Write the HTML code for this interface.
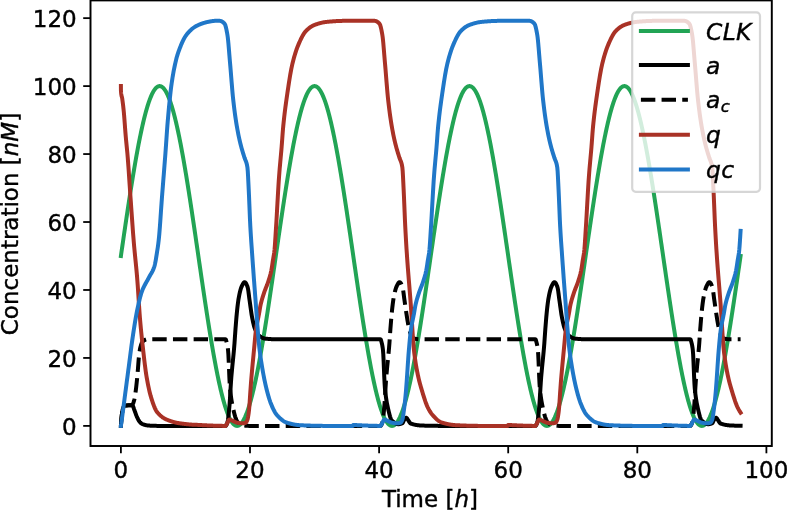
<!DOCTYPE html>
<html><head><meta charset="utf-8"><title>Plot</title>
<style>html,body{margin:0;padding:0;background:#fff}body{width:787px;height:510px;overflow:hidden}svg{display:block}</style>
</head><body>
<svg width="787" height="510" viewBox="0 0 787 510">
<rect width="787" height="510" fill="#fff"/>
<clipPath id="c"><rect x="90.5" y="0.4" width="681.3" height="445.6"/></clipPath>
<g clip-path="url(#c)" fill="none" stroke-linejoin="round">
<path d="M120.90,256.00 L120.91,255.91 L120.93,255.78 L120.96,255.56 L121.03,255.11 L121.09,254.67 L121.16,254.22 L121.22,253.78 L121.55,251.55 L121.87,249.33 L122.19,247.11 L122.51,244.89 L122.84,242.67 L123.16,240.45 L123.48,238.24 L123.80,236.03 L124.13,233.82 L124.45,231.62 L124.77,229.42 L125.10,227.23 L125.42,225.04 L125.74,222.85 L126.06,220.68 L126.39,218.50 L126.71,216.34 L127.03,214.18 L127.36,212.03 L127.68,209.88 L128.00,207.75 L128.32,205.62 L128.65,203.50 L128.97,201.39 L129.29,199.29 L129.61,197.19 L129.94,195.11 L130.26,193.04 L130.58,190.98 L130.91,188.93 L131.23,186.90 L131.55,184.87 L131.87,182.86 L132.20,180.86 L132.52,178.87 L132.84,176.89 L133.16,174.93 L133.49,172.98 L133.81,171.05 L134.13,169.13 L134.46,167.23 L134.78,165.34 L135.10,163.47 L135.42,161.61 L135.75,159.77 L136.07,157.94 L136.39,156.14 L136.71,154.34 L137.04,152.57 L137.36,150.82 L137.68,149.08 L138.01,147.36 L138.33,145.66 L138.65,143.98 L138.97,142.31 L139.30,140.67 L139.62,139.05 L139.94,137.45 L140.27,135.86 L140.59,134.30 L140.91,132.76 L141.23,131.24 L141.56,129.74 L141.88,128.26 L142.20,126.81 L142.52,125.37 L142.85,123.96 L143.17,122.57 L143.49,121.21 L143.82,119.87 L144.14,118.55 L144.46,117.25 L144.78,115.98 L145.11,114.73 L145.43,113.51 L145.75,112.31 L146.07,111.14 L146.40,109.99 L146.72,108.86 L147.04,107.76 L147.37,106.69 L147.69,105.64 L148.01,104.62 L148.33,103.62 L148.66,102.65 L148.98,101.71 L149.30,100.79 L149.62,99.90 L149.95,99.03 L150.27,98.20 L150.59,97.38 L150.92,96.60 L151.24,95.85 L151.56,95.12 L151.88,94.42 L152.21,93.74 L152.53,93.10 L152.85,92.48 L153.18,91.89 L153.50,91.33 L153.82,90.79 L154.14,90.29 L154.47,89.81 L154.79,89.36 L155.11,88.94 L155.43,88.55 L155.76,88.19 L156.08,87.86 L156.40,87.55 L156.73,87.28 L157.05,87.03 L157.37,86.81 L157.69,86.62 L158.02,86.46 L158.34,86.33 L158.66,86.23 L158.98,86.16 L159.31,86.11 L159.63,86.10 L159.95,86.11 L160.28,86.16 L160.60,86.23 L160.92,86.33 L161.24,86.46 L161.57,86.62 L161.89,86.81 L162.21,87.03 L162.53,87.28 L162.86,87.55 L163.18,87.86 L163.50,88.19 L163.83,88.55 L164.15,88.94 L164.47,89.36 L164.79,89.81 L165.12,90.29 L165.44,90.79 L165.76,91.33 L166.09,91.89 L166.41,92.48 L166.73,93.10 L167.05,93.74 L167.38,94.42 L167.70,95.12 L168.02,95.85 L168.34,96.60 L168.67,97.38 L168.99,98.20 L169.31,99.03 L169.64,99.90 L169.96,100.79 L170.28,101.71 L170.60,102.65 L170.93,103.62 L171.25,104.62 L171.57,105.64 L171.89,106.69 L172.22,107.76 L172.54,108.86 L172.86,109.99 L173.19,111.14 L173.51,112.31 L173.83,113.51 L174.15,114.73 L174.48,115.98 L174.80,117.25 L175.12,118.55 L175.44,119.87 L175.77,121.21 L176.09,122.57 L176.41,123.96 L176.74,125.37 L177.06,126.81 L177.38,128.26 L177.70,129.74 L178.03,131.24 L178.35,132.76 L178.67,134.30 L179.00,135.86 L179.32,137.45 L179.64,139.05 L179.96,140.67 L180.29,142.31 L180.61,143.98 L180.93,145.66 L181.25,147.36 L181.58,149.08 L181.90,150.82 L182.22,152.57 L182.55,154.34 L182.87,156.14 L183.19,157.94 L183.51,159.77 L183.84,161.61 L184.16,163.47 L184.48,165.34 L184.80,167.23 L185.13,169.13 L185.45,171.05 L185.77,172.98 L186.10,174.93 L186.42,176.89 L186.74,178.87 L187.06,180.86 L187.39,182.86 L187.71,184.87 L188.03,186.90 L188.35,188.93 L188.68,190.98 L189.00,193.04 L189.32,195.11 L189.65,197.19 L189.97,199.29 L190.29,201.39 L190.61,203.50 L190.94,205.62 L191.26,207.75 L191.58,209.88 L191.91,212.03 L192.23,214.18 L192.55,216.34 L192.87,218.50 L193.20,220.68 L193.52,222.85 L193.84,225.04 L194.16,227.23 L194.49,229.42 L194.81,231.62 L195.13,233.82 L195.46,236.03 L195.78,238.24 L196.10,240.45 L196.42,242.67 L196.75,244.89 L197.07,247.11 L197.39,249.33 L197.71,251.55 L198.04,253.78 L198.36,256.00 L198.68,258.22 L199.01,260.45 L199.33,262.67 L199.65,264.89 L199.97,267.11 L200.30,269.33 L200.62,271.55 L200.94,273.76 L201.26,275.97 L201.59,278.18 L201.91,280.38 L202.23,282.58 L202.56,284.77 L202.88,286.96 L203.20,289.15 L203.52,291.32 L203.85,293.50 L204.17,295.66 L204.49,297.82 L204.81,299.97 L205.14,302.12 L205.46,304.25 L205.78,306.38 L206.11,308.50 L206.43,310.61 L206.75,312.71 L207.07,314.81 L207.40,316.89 L207.72,318.96 L208.04,321.02 L208.37,323.07 L208.69,325.10 L209.01,327.13 L209.33,329.14 L209.66,331.14 L209.98,333.13 L210.30,335.11 L210.62,337.07 L210.95,339.02 L211.27,340.95 L211.59,342.87 L211.92,344.77 L212.24,346.66 L212.56,348.53 L212.88,350.39 L213.21,352.23 L213.53,354.06 L213.85,355.86 L214.17,357.66 L214.50,359.43 L214.82,361.18 L215.14,362.92 L215.47,364.64 L215.79,366.34 L216.11,368.02 L216.43,369.69 L216.76,371.33 L217.08,372.95 L217.40,374.55 L217.73,376.14 L218.05,377.70 L218.37,379.24 L218.69,380.76 L219.02,382.26 L219.34,383.74 L219.66,385.19 L219.98,386.63 L220.31,388.04 L220.63,389.43 L220.95,390.79 L221.28,392.13 L221.60,393.45 L221.92,394.75 L222.24,396.02 L222.57,397.27 L222.89,398.49 L223.21,399.69 L223.53,400.86 L223.86,402.01 L224.18,403.14 L224.50,404.24 L224.83,405.31 L225.15,406.36 L225.47,407.38 L225.79,408.38 L226.12,409.35 L226.44,410.29 L226.76,411.21 L227.08,412.10 L227.41,412.97 L227.73,413.80 L228.05,414.62 L228.38,415.40 L228.70,416.15 L229.02,416.88 L229.34,417.58 L229.67,418.26 L229.99,418.90 L230.31,419.52 L230.63,420.11 L230.96,420.67 L231.28,421.21 L231.60,421.71 L231.93,422.19 L232.25,422.64 L232.57,423.06 L232.89,423.45 L233.22,423.81 L233.54,424.14 L233.86,424.45 L234.19,424.72 L234.51,424.97 L234.83,425.19 L235.15,425.38 L235.48,425.54 L235.80,425.67 L236.12,425.77 L236.44,425.84 L236.77,425.89 L237.09,425.90 L237.41,425.89 L237.74,425.84 L238.06,425.77 L238.38,425.67 L238.70,425.54 L239.03,425.38 L239.35,425.19 L239.67,424.97 L239.99,424.72 L240.32,424.45 L240.64,424.14 L240.96,423.81 L241.29,423.45 L241.61,423.06 L241.93,422.64 L242.25,422.19 L242.58,421.71 L242.90,421.21 L243.22,420.67 L243.55,420.11 L243.87,419.52 L244.19,418.90 L244.51,418.26 L244.84,417.58 L245.16,416.88 L245.48,416.15 L245.80,415.40 L246.13,414.62 L246.45,413.80 L246.77,412.97 L247.10,412.10 L247.42,411.21 L247.74,410.29 L248.06,409.35 L248.39,408.38 L248.71,407.38 L249.03,406.36 L249.35,405.31 L249.68,404.24 L250.00,403.14 L250.32,402.01 L250.65,400.86 L250.97,399.69 L251.29,398.49 L251.61,397.27 L251.94,396.02 L252.26,394.75 L252.58,393.45 L252.90,392.13 L253.23,390.79 L253.55,389.43 L253.87,388.04 L254.20,386.63 L254.52,385.19 L254.84,383.74 L255.16,382.26 L255.49,380.76 L255.81,379.24 L256.13,377.70 L256.46,376.14 L256.78,374.55 L257.10,372.95 L257.42,371.33 L257.75,369.69 L258.07,368.02 L258.39,366.34 L258.71,364.64 L259.04,362.92 L259.36,361.18 L259.68,359.43 L260.01,357.66 L260.33,355.86 L260.65,354.06 L260.97,352.23 L261.30,350.39 L261.62,348.53 L261.94,346.66 L262.26,344.77 L262.59,342.87 L262.91,340.95 L263.23,339.02 L263.56,337.07 L263.88,335.11 L264.20,333.13 L264.52,331.14 L264.85,329.14 L265.17,327.13 L265.49,325.10 L265.81,323.07 L266.14,321.02 L266.46,318.96 L266.78,316.89 L267.11,314.81 L267.43,312.71 L267.75,310.61 L268.07,308.50 L268.40,306.38 L268.72,304.25 L269.04,302.12 L269.37,299.97 L269.69,297.82 L270.01,295.66 L270.33,293.50 L270.66,291.32 L270.98,289.15 L271.30,286.96 L271.62,284.77 L271.95,282.58 L272.27,280.38 L272.59,278.18 L272.92,275.97 L273.24,273.76 L273.56,271.55 L273.88,269.33 L274.21,267.11 L274.53,264.89 L274.85,262.67 L275.17,260.45 L275.50,258.22 L275.82,256.00 L276.14,253.78 L276.47,251.55 L276.79,249.33 L277.11,247.11 L277.43,244.89 L277.76,242.67 L278.08,240.45 L278.40,238.24 L278.72,236.03 L279.05,233.82 L279.37,231.62 L279.69,229.42 L280.02,227.23 L280.34,225.04 L280.66,222.85 L280.98,220.68 L281.31,218.50 L281.63,216.34 L281.95,214.18 L282.28,212.03 L282.60,209.88 L282.92,207.75 L283.24,205.62 L283.57,203.50 L283.89,201.39 L284.21,199.29 L284.53,197.19 L284.86,195.11 L285.18,193.04 L285.50,190.98 L285.83,188.93 L286.15,186.90 L286.47,184.87 L286.79,182.86 L287.12,180.86 L287.44,178.87 L287.76,176.89 L288.08,174.93 L288.41,172.98 L288.73,171.05 L289.05,169.13 L289.38,167.23 L289.70,165.34 L290.02,163.47 L290.34,161.61 L290.67,159.77 L290.99,157.94 L291.31,156.14 L291.63,154.34 L291.96,152.57 L292.28,150.82 L292.60,149.08 L292.93,147.36 L293.25,145.66 L293.57,143.98 L293.89,142.31 L294.22,140.67 L294.54,139.05 L294.86,137.45 L295.19,135.86 L295.51,134.30 L295.83,132.76 L296.15,131.24 L296.48,129.74 L296.80,128.26 L297.12,126.81 L297.44,125.37 L297.77,123.96 L298.09,122.57 L298.41,121.21 L298.74,119.87 L299.06,118.55 L299.38,117.25 L299.70,115.98 L300.03,114.73 L300.35,113.51 L300.67,112.31 L300.99,111.14 L301.32,109.99 L301.64,108.86 L301.96,107.76 L302.29,106.69 L302.61,105.64 L302.93,104.62 L303.25,103.62 L303.58,102.65 L303.90,101.71 L304.22,100.79 L304.54,99.90 L304.87,99.03 L305.19,98.20 L305.51,97.38 L305.84,96.60 L306.16,95.85 L306.48,95.12 L306.80,94.42 L307.13,93.74 L307.45,93.10 L307.77,92.48 L308.10,91.89 L308.42,91.33 L308.74,90.79 L309.06,90.29 L309.39,89.81 L309.71,89.36 L310.03,88.94 L310.35,88.55 L310.68,88.19 L311.00,87.86 L311.32,87.55 L311.65,87.28 L311.97,87.03 L312.29,86.81 L312.61,86.62 L312.94,86.46 L313.26,86.33 L313.58,86.23 L313.90,86.16 L314.23,86.11 L314.55,86.10 L314.87,86.11 L315.20,86.16 L315.52,86.23 L315.84,86.33 L316.16,86.46 L316.49,86.62 L316.81,86.81 L317.13,87.03 L317.45,87.28 L317.78,87.55 L318.10,87.86 L318.42,88.19 L318.75,88.55 L319.07,88.94 L319.39,89.36 L319.71,89.81 L320.04,90.29 L320.36,90.79 L320.68,91.33 L321.00,91.89 L321.33,92.48 L321.65,93.10 L321.97,93.74 L322.30,94.42 L322.62,95.12 L322.94,95.85 L323.26,96.60 L323.59,97.38 L323.91,98.20 L324.23,99.03 L324.56,99.90 L324.88,100.79 L325.20,101.71 L325.52,102.65 L325.85,103.62 L326.17,104.62 L326.49,105.64 L326.81,106.69 L327.14,107.76 L327.46,108.86 L327.78,109.99 L328.11,111.14 L328.43,112.31 L328.75,113.51 L329.07,114.73 L329.40,115.98 L329.72,117.25 L330.04,118.55 L330.36,119.87 L330.69,121.21 L331.01,122.57 L331.33,123.96 L331.66,125.37 L331.98,126.81 L332.30,128.26 L332.62,129.74 L332.95,131.24 L333.27,132.76 L333.59,134.30 L333.92,135.86 L334.24,137.45 L334.56,139.05 L334.88,140.67 L335.21,142.31 L335.53,143.98 L335.85,145.66 L336.17,147.36 L336.50,149.08 L336.82,150.82 L337.14,152.57 L337.47,154.34 L337.79,156.14 L338.11,157.94 L338.43,159.77 L338.76,161.61 L339.08,163.47 L339.40,165.34 L339.72,167.23 L340.05,169.13 L340.37,171.05 L340.69,172.98 L341.02,174.93 L341.34,176.89 L341.66,178.87 L341.98,180.86 L342.31,182.86 L342.63,184.87 L342.95,186.90 L343.27,188.93 L343.60,190.98 L343.92,193.04 L344.24,195.11 L344.57,197.19 L344.89,199.29 L345.21,201.39 L345.53,203.50 L345.86,205.62 L346.18,207.75 L346.50,209.88 L346.83,212.03 L347.15,214.18 L347.47,216.34 L347.79,218.50 L348.12,220.68 L348.44,222.85 L348.76,225.04 L349.08,227.23 L349.41,229.42 L349.73,231.62 L350.05,233.82 L350.38,236.03 L350.70,238.24 L351.02,240.45 L351.34,242.67 L351.67,244.89 L351.99,247.11 L352.31,249.33 L352.63,251.55 L352.96,253.78 L353.28,256.00 L353.60,258.22 L353.93,260.45 L354.25,262.67 L354.57,264.89 L354.89,267.11 L355.22,269.33 L355.54,271.55 L355.86,273.76 L356.18,275.97 L356.51,278.18 L356.83,280.38 L357.15,282.58 L357.48,284.77 L357.80,286.96 L358.12,289.15 L358.44,291.32 L358.77,293.50 L359.09,295.66 L359.41,297.82 L359.74,299.97 L360.06,302.12 L360.38,304.25 L360.70,306.38 L361.03,308.50 L361.35,310.61 L361.67,312.71 L361.99,314.81 L362.32,316.89 L362.64,318.96 L362.96,321.02 L363.29,323.07 L363.61,325.10 L363.93,327.13 L364.25,329.14 L364.58,331.14 L364.90,333.13 L365.22,335.11 L365.54,337.07 L365.87,339.02 L366.19,340.95 L366.51,342.87 L366.84,344.77 L367.16,346.66 L367.48,348.53 L367.80,350.39 L368.13,352.23 L368.45,354.06 L368.77,355.86 L369.09,357.66 L369.42,359.43 L369.74,361.18 L370.06,362.92 L370.39,364.64 L370.71,366.34 L371.03,368.02 L371.35,369.69 L371.68,371.33 L372.00,372.95 L372.32,374.55 L372.64,376.14 L372.97,377.70 L373.29,379.24 L373.61,380.76 L373.94,382.26 L374.26,383.74 L374.58,385.19 L374.90,386.63 L375.23,388.04 L375.55,389.43 L375.87,390.79 L376.20,392.13 L376.52,393.45 L376.84,394.75 L377.16,396.02 L377.49,397.27 L377.81,398.49 L378.13,399.69 L378.45,400.86 L378.78,402.01 L379.10,403.14 L379.42,404.24 L379.75,405.31 L380.07,406.36 L380.39,407.38 L380.71,408.38 L381.04,409.35 L381.36,410.29 L381.68,411.21 L382.00,412.10 L382.33,412.97 L382.65,413.80 L382.97,414.62 L383.30,415.40 L383.62,416.15 L383.94,416.88 L384.26,417.58 L384.59,418.26 L384.91,418.90 L385.23,419.52 L385.56,420.11 L385.88,420.67 L386.20,421.21 L386.52,421.71 L386.85,422.19 L387.17,422.64 L387.49,423.06 L387.81,423.45 L388.14,423.81 L388.46,424.14 L388.78,424.45 L389.11,424.72 L389.43,424.97 L389.75,425.19 L390.07,425.38 L390.40,425.54 L390.72,425.67 L391.04,425.77 L391.36,425.84 L391.69,425.89 L392.01,425.90 L392.33,425.89 L392.66,425.84 L392.98,425.77 L393.30,425.67 L393.62,425.54 L393.95,425.38 L394.27,425.19 L394.59,424.97 L394.91,424.72 L395.24,424.45 L395.56,424.14 L395.88,423.81 L396.21,423.45 L396.53,423.06 L396.85,422.64 L397.17,422.19 L397.50,421.71 L397.82,421.21 L398.14,420.67 L398.47,420.11 L398.79,419.52 L399.11,418.90 L399.43,418.26 L399.76,417.58 L400.08,416.88 L400.40,416.15 L400.72,415.40 L401.05,414.62 L401.37,413.80 L401.69,412.97 L402.02,412.10 L402.34,411.21 L402.66,410.29 L402.98,409.35 L403.31,408.38 L403.63,407.38 L403.95,406.36 L404.27,405.31 L404.60,404.24 L404.92,403.14 L405.24,402.01 L405.57,400.86 L405.89,399.69 L406.21,398.49 L406.53,397.27 L406.86,396.02 L407.18,394.75 L407.50,393.45 L407.82,392.13 L408.15,390.79 L408.47,389.43 L408.79,388.04 L409.12,386.63 L409.44,385.19 L409.76,383.74 L410.08,382.26 L410.41,380.76 L410.73,379.24 L411.05,377.70 L411.38,376.14 L411.70,374.55 L412.02,372.95 L412.34,371.33 L412.67,369.69 L412.99,368.02 L413.31,366.34 L413.63,364.64 L413.96,362.92 L414.28,361.18 L414.60,359.43 L414.93,357.66 L415.25,355.86 L415.57,354.06 L415.89,352.23 L416.22,350.39 L416.54,348.53 L416.86,346.66 L417.18,344.77 L417.51,342.87 L417.83,340.95 L418.15,339.02 L418.48,337.07 L418.80,335.11 L419.12,333.13 L419.44,331.14 L419.77,329.14 L420.09,327.13 L420.41,325.10 L420.73,323.07 L421.06,321.02 L421.38,318.96 L421.70,316.89 L422.03,314.81 L422.35,312.71 L422.67,310.61 L422.99,308.50 L423.32,306.38 L423.64,304.25 L423.96,302.12 L424.28,299.97 L424.61,297.82 L424.93,295.66 L425.25,293.50 L425.58,291.32 L425.90,289.15 L426.22,286.96 L426.54,284.77 L426.87,282.58 L427.19,280.38 L427.51,278.18 L427.84,275.97 L428.16,273.76 L428.48,271.55 L428.80,269.33 L429.13,267.11 L429.45,264.89 L429.77,262.67 L430.09,260.45 L430.42,258.22 L430.74,256.00 L431.06,253.78 L431.39,251.55 L431.71,249.33 L432.03,247.11 L432.35,244.89 L432.68,242.67 L433.00,240.45 L433.32,238.24 L433.64,236.03 L433.97,233.82 L434.29,231.62 L434.61,229.42 L434.94,227.23 L435.26,225.04 L435.58,222.85 L435.90,220.68 L436.23,218.50 L436.55,216.34 L436.87,214.18 L437.20,212.03 L437.52,209.88 L437.84,207.75 L438.16,205.62 L438.49,203.50 L438.81,201.39 L439.13,199.29 L439.45,197.19 L439.78,195.11 L440.10,193.04 L440.42,190.98 L440.75,188.93 L441.07,186.90 L441.39,184.87 L441.71,182.86 L442.04,180.86 L442.36,178.87 L442.68,176.89 L443.00,174.93 L443.33,172.98 L443.65,171.05 L443.97,169.13 L444.30,167.23 L444.62,165.34 L444.94,163.47 L445.26,161.61 L445.59,159.77 L445.91,157.94 L446.23,156.14 L446.55,154.34 L446.88,152.57 L447.20,150.82 L447.52,149.08 L447.85,147.36 L448.17,145.66 L448.49,143.98 L448.81,142.31 L449.14,140.67 L449.46,139.05 L449.78,137.45 L450.11,135.86 L450.43,134.30 L450.75,132.76 L451.07,131.24 L451.40,129.74 L451.72,128.26 L452.04,126.81 L452.36,125.37 L452.69,123.96 L453.01,122.57 L453.33,121.21 L453.66,119.87 L453.98,118.55 L454.30,117.25 L454.62,115.98 L454.95,114.73 L455.27,113.51 L455.59,112.31 L455.91,111.14 L456.24,109.99 L456.56,108.86 L456.88,107.76 L457.21,106.69 L457.53,105.64 L457.85,104.62 L458.17,103.62 L458.50,102.65 L458.82,101.71 L459.14,100.79 L459.46,99.90 L459.79,99.03 L460.11,98.20 L460.43,97.38 L460.76,96.60 L461.08,95.85 L461.40,95.12 L461.72,94.42 L462.05,93.74 L462.37,93.10 L462.69,92.48 L463.01,91.89 L463.34,91.33 L463.66,90.79 L463.98,90.29 L464.31,89.81 L464.63,89.36 L464.95,88.94 L465.27,88.55 L465.60,88.19 L465.92,87.86 L466.24,87.55 L466.57,87.28 L466.89,87.03 L467.21,86.81 L467.53,86.62 L467.86,86.46 L468.18,86.33 L468.50,86.23 L468.82,86.16 L469.15,86.11 L469.47,86.10 L469.79,86.11 L470.12,86.16 L470.44,86.23 L470.76,86.33 L471.08,86.46 L471.41,86.62 L471.73,86.81 L472.05,87.03 L472.37,87.28 L472.70,87.55 L473.02,87.86 L473.34,88.19 L473.67,88.55 L473.99,88.94 L474.31,89.36 L474.63,89.81 L474.96,90.29 L475.28,90.79 L475.60,91.33 L475.92,91.89 L476.25,92.48 L476.57,93.10 L476.89,93.74 L477.22,94.42 L477.54,95.12 L477.86,95.85 L478.18,96.60 L478.51,97.38 L478.83,98.20 L479.15,99.03 L479.48,99.90 L479.80,100.79 L480.12,101.71 L480.44,102.65 L480.77,103.62 L481.09,104.62 L481.41,105.64 L481.73,106.69 L482.06,107.76 L482.38,108.86 L482.70,109.99 L483.03,111.14 L483.35,112.31 L483.67,113.51 L483.99,114.73 L484.32,115.98 L484.64,117.25 L484.96,118.55 L485.28,119.87 L485.61,121.21 L485.93,122.57 L486.25,123.96 L486.58,125.37 L486.90,126.81 L487.22,128.26 L487.54,129.74 L487.87,131.24 L488.19,132.76 L488.51,134.30 L488.84,135.86 L489.16,137.45 L489.48,139.05 L489.80,140.67 L490.13,142.31 L490.45,143.98 L490.77,145.66 L491.09,147.36 L491.42,149.08 L491.74,150.82 L492.06,152.57 L492.39,154.34 L492.71,156.14 L493.03,157.94 L493.35,159.77 L493.68,161.61 L494.00,163.47 L494.32,165.34 L494.64,167.23 L494.97,169.13 L495.29,171.05 L495.61,172.98 L495.94,174.93 L496.26,176.89 L496.58,178.87 L496.90,180.86 L497.23,182.86 L497.55,184.87 L497.87,186.90 L498.19,188.93 L498.52,190.98 L498.84,193.04 L499.16,195.11 L499.49,197.19 L499.81,199.29 L500.13,201.39 L500.45,203.50 L500.78,205.62 L501.10,207.75 L501.42,209.88 L501.75,212.03 L502.07,214.18 L502.39,216.34 L502.71,218.50 L503.04,220.68 L503.36,222.85 L503.68,225.04 L504.00,227.23 L504.33,229.42 L504.65,231.62 L504.97,233.82 L505.30,236.03 L505.62,238.24 L505.94,240.45 L506.26,242.67 L506.59,244.89 L506.91,247.11 L507.23,249.33 L507.55,251.55 L507.88,253.78 L508.20,256.00 L508.52,258.22 L508.85,260.45 L509.17,262.67 L509.49,264.89 L509.81,267.11 L510.14,269.33 L510.46,271.55 L510.78,273.76 L511.10,275.97 L511.43,278.18 L511.75,280.38 L512.07,282.58 L512.40,284.77 L512.72,286.96 L513.04,289.15 L513.36,291.32 L513.69,293.50 L514.01,295.66 L514.33,297.82 L514.65,299.97 L514.98,302.12 L515.30,304.25 L515.62,306.38 L515.95,308.50 L516.27,310.61 L516.59,312.71 L516.91,314.81 L517.24,316.89 L517.56,318.96 L517.88,321.02 L518.21,323.07 L518.53,325.10 L518.85,327.13 L519.17,329.14 L519.50,331.14 L519.82,333.13 L520.14,335.11 L520.46,337.07 L520.79,339.02 L521.11,340.95 L521.43,342.87 L521.76,344.77 L522.08,346.66 L522.40,348.53 L522.72,350.39 L523.05,352.23 L523.37,354.06 L523.69,355.86 L524.01,357.66 L524.34,359.43 L524.66,361.18 L524.98,362.92 L525.31,364.64 L525.63,366.34 L525.95,368.02 L526.27,369.69 L526.60,371.33 L526.92,372.95 L527.24,374.55 L527.57,376.14 L527.89,377.70 L528.21,379.24 L528.53,380.76 L528.86,382.26 L529.18,383.74 L529.50,385.19 L529.82,386.63 L530.15,388.04 L530.47,389.43 L530.79,390.79 L531.12,392.13 L531.44,393.45 L531.76,394.75 L532.08,396.02 L532.41,397.27 L532.73,398.49 L533.05,399.69 L533.37,400.86 L533.70,402.01 L534.02,403.14 L534.34,404.24 L534.67,405.31 L534.99,406.36 L535.31,407.38 L535.63,408.38 L535.96,409.35 L536.28,410.29 L536.60,411.21 L536.92,412.10 L537.25,412.97 L537.57,413.80 L537.89,414.62 L538.22,415.40 L538.54,416.15 L538.86,416.88 L539.18,417.58 L539.51,418.26 L539.83,418.90 L540.15,419.52 L540.48,420.11 L540.80,420.67 L541.12,421.21 L541.44,421.71 L541.77,422.19 L542.09,422.64 L542.41,423.06 L542.73,423.45 L543.06,423.81 L543.38,424.14 L543.70,424.45 L544.03,424.72 L544.35,424.97 L544.67,425.19 L544.99,425.38 L545.32,425.54 L545.64,425.67 L545.96,425.77 L546.28,425.84 L546.61,425.89 L546.93,425.90 L547.25,425.89 L547.58,425.84 L547.90,425.77 L548.22,425.67 L548.54,425.54 L548.87,425.38 L549.19,425.19 L549.51,424.97 L549.83,424.72 L550.16,424.45 L550.48,424.14 L550.80,423.81 L551.13,423.45 L551.45,423.06 L551.77,422.64 L552.09,422.19 L552.42,421.71 L552.74,421.21 L553.06,420.67 L553.38,420.11 L553.71,419.52 L554.03,418.90 L554.35,418.26 L554.68,417.58 L555.00,416.88 L555.32,416.15 L555.64,415.40 L555.97,414.62 L556.29,413.80 L556.61,412.97 L556.94,412.10 L557.26,411.21 L557.58,410.29 L557.90,409.35 L558.23,408.38 L558.55,407.38 L558.87,406.36 L559.19,405.31 L559.52,404.24 L559.84,403.14 L560.16,402.01 L560.49,400.86 L560.81,399.69 L561.13,398.49 L561.45,397.27 L561.78,396.02 L562.10,394.75 L562.42,393.45 L562.74,392.13 L563.07,390.79 L563.39,389.43 L563.71,388.04 L564.04,386.63 L564.36,385.19 L564.68,383.74 L565.00,382.26 L565.33,380.76 L565.65,379.24 L565.97,377.70 L566.29,376.14 L566.62,374.55 L566.94,372.95 L567.26,371.33 L567.59,369.69 L567.91,368.02 L568.23,366.34 L568.55,364.64 L568.88,362.92 L569.20,361.18 L569.52,359.43 L569.85,357.66 L570.17,355.86 L570.49,354.06 L570.81,352.23 L571.14,350.39 L571.46,348.53 L571.78,346.66 L572.10,344.77 L572.43,342.87 L572.75,340.95 L573.07,339.02 L573.40,337.07 L573.72,335.11 L574.04,333.13 L574.36,331.14 L574.69,329.14 L575.01,327.13 L575.33,325.10 L575.65,323.07 L575.98,321.02 L576.30,318.96 L576.62,316.89 L576.95,314.81 L577.27,312.71 L577.59,310.61 L577.91,308.50 L578.24,306.38 L578.56,304.25 L578.88,302.12 L579.21,299.97 L579.53,297.82 L579.85,295.66 L580.17,293.50 L580.50,291.32 L580.82,289.15 L581.14,286.96 L581.46,284.77 L581.79,282.58 L582.11,280.38 L582.43,278.18 L582.76,275.97 L583.08,273.76 L583.40,271.55 L583.72,269.33 L584.05,267.11 L584.37,264.89 L584.69,262.67 L585.01,260.45 L585.34,258.22 L585.66,256.00 L585.98,253.78 L586.31,251.55 L586.63,249.33 L586.95,247.11 L587.27,244.89 L587.60,242.67 L587.92,240.45 L588.24,238.24 L588.56,236.03 L588.89,233.82 L589.21,231.62 L589.53,229.42 L589.86,227.23 L590.18,225.04 L590.50,222.85 L590.82,220.68 L591.15,218.50 L591.47,216.34 L591.79,214.18 L592.12,212.03 L592.44,209.88 L592.76,207.75 L593.08,205.62 L593.41,203.50 L593.73,201.39 L594.05,199.29 L594.37,197.19 L594.70,195.11 L595.02,193.04 L595.34,190.98 L595.67,188.93 L595.99,186.90 L596.31,184.87 L596.63,182.86 L596.96,180.86 L597.28,178.87 L597.60,176.89 L597.92,174.93 L598.25,172.98 L598.57,171.05 L598.89,169.13 L599.22,167.23 L599.54,165.34 L599.86,163.47 L600.18,161.61 L600.51,159.77 L600.83,157.94 L601.15,156.14 L601.47,154.34 L601.80,152.57 L602.12,150.82 L602.44,149.08 L602.77,147.36 L603.09,145.66 L603.41,143.98 L603.73,142.31 L604.06,140.67 L604.38,139.05 L604.70,137.45 L605.02,135.86 L605.35,134.30 L605.67,132.76 L605.99,131.24 L606.32,129.74 L606.64,128.26 L606.96,126.81 L607.28,125.37 L607.61,123.96 L607.93,122.57 L608.25,121.21 L608.58,119.87 L608.90,118.55 L609.22,117.25 L609.54,115.98 L609.87,114.73 L610.19,113.51 L610.51,112.31 L610.83,111.14 L611.16,109.99 L611.48,108.86 L611.80,107.76 L612.13,106.69 L612.45,105.64 L612.77,104.62 L613.09,103.62 L613.42,102.65 L613.74,101.71 L614.06,100.79 L614.38,99.90 L614.71,99.03 L615.03,98.20 L615.35,97.38 L615.68,96.60 L616.00,95.85 L616.32,95.12 L616.64,94.42 L616.97,93.74 L617.29,93.10 L617.61,92.48 L617.94,91.89 L618.26,91.33 L618.58,90.79 L618.90,90.29 L619.23,89.81 L619.55,89.36 L619.87,88.94 L620.19,88.55 L620.52,88.19 L620.84,87.86 L621.16,87.55 L621.49,87.28 L621.81,87.03 L622.13,86.81 L622.45,86.62 L622.78,86.46 L623.10,86.33 L623.42,86.23 L623.74,86.16 L624.07,86.11 L624.39,86.10 L624.71,86.11 L625.04,86.16 L625.36,86.23 L625.68,86.33 L626.00,86.46 L626.33,86.62 L626.65,86.81 L626.97,87.03 L627.29,87.28 L627.62,87.55 L627.94,87.86 L628.26,88.19 L628.59,88.55 L628.91,88.94 L629.23,89.36 L629.55,89.81 L629.88,90.29 L630.20,90.79 L630.52,91.33 L630.85,91.89 L631.17,92.48 L631.49,93.10 L631.81,93.74 L632.14,94.42 L632.46,95.12 L632.78,95.85 L633.10,96.60 L633.43,97.38 L633.75,98.20 L634.07,99.03 L634.40,99.90 L634.72,100.79 L635.04,101.71 L635.36,102.65 L635.69,103.62 L636.01,104.62 L636.33,105.64 L636.65,106.69 L636.98,107.76 L637.30,108.86 L637.62,109.99 L637.95,111.14 L638.27,112.31 L638.59,113.51 L638.91,114.73 L639.24,115.98 L639.56,117.25 L639.88,118.55 L640.20,119.87 L640.53,121.21 L640.85,122.57 L641.17,123.96 L641.50,125.37 L641.82,126.81 L642.14,128.26 L642.46,129.74 L642.79,131.24 L643.11,132.76 L643.43,134.30 L643.75,135.86 L644.08,137.45 L644.40,139.05 L644.72,140.67 L645.05,142.31 L645.37,143.98 L645.69,145.66 L646.01,147.36 L646.34,149.08 L646.66,150.82 L646.98,152.57 L647.31,154.34 L647.63,156.14 L647.95,157.94 L648.27,159.77 L648.60,161.61 L648.92,163.47 L649.24,165.34 L649.56,167.23 L649.89,169.13 L650.21,171.05 L650.53,172.98 L650.86,174.93 L651.18,176.89 L651.50,178.87 L651.82,180.86 L652.15,182.86 L652.47,184.87 L652.79,186.90 L653.11,188.93 L653.44,190.98 L653.76,193.04 L654.08,195.11 L654.41,197.19 L654.73,199.29 L655.05,201.39 L655.37,203.50 L655.70,205.62 L656.02,207.75 L656.34,209.88 L656.66,212.03 L656.99,214.18 L657.31,216.34 L657.63,218.50 L657.96,220.68 L658.28,222.85 L658.60,225.04 L658.92,227.23 L659.25,229.42 L659.57,231.62 L659.89,233.82 L660.22,236.03 L660.54,238.24 L660.86,240.45 L661.18,242.67 L661.51,244.89 L661.83,247.11 L662.15,249.33 L662.47,251.55 L662.80,253.78 L663.12,256.00 L663.44,258.22 L663.77,260.45 L664.09,262.67 L664.41,264.89 L664.73,267.11 L665.06,269.33 L665.38,271.55 L665.70,273.76 L666.02,275.97 L666.35,278.18 L666.67,280.38 L666.99,282.58 L667.32,284.77 L667.64,286.96 L667.96,289.15 L668.28,291.32 L668.61,293.50 L668.93,295.66 L669.25,297.82 L669.57,299.97 L669.90,302.12 L670.22,304.25 L670.54,306.38 L670.87,308.50 L671.19,310.61 L671.51,312.71 L671.83,314.81 L672.16,316.89 L672.48,318.96 L672.80,321.02 L673.13,323.07 L673.45,325.10 L673.77,327.13 L674.09,329.14 L674.42,331.14 L674.74,333.13 L675.06,335.11 L675.38,337.07 L675.71,339.02 L676.03,340.95 L676.35,342.87 L676.68,344.77 L677.00,346.66 L677.32,348.53 L677.64,350.39 L677.97,352.23 L678.29,354.06 L678.61,355.86 L678.93,357.66 L679.26,359.43 L679.58,361.18 L679.90,362.92 L680.23,364.64 L680.55,366.34 L680.87,368.02 L681.19,369.69 L681.52,371.33 L681.84,372.95 L682.16,374.55 L682.49,376.14 L682.81,377.70 L683.13,379.24 L683.45,380.76 L683.78,382.26 L684.10,383.74 L684.42,385.19 L684.74,386.63 L685.07,388.04 L685.39,389.43 L685.71,390.79 L686.04,392.13 L686.36,393.45 L686.68,394.75 L687.00,396.02 L687.33,397.27 L687.65,398.49 L687.97,399.69 L688.29,400.86 L688.62,402.01 L688.94,403.14 L689.26,404.24 L689.59,405.31 L689.91,406.36 L690.23,407.38 L690.55,408.38 L690.88,409.35 L691.20,410.29 L691.52,411.21 L691.84,412.10 L692.17,412.97 L692.49,413.80 L692.81,414.62 L693.14,415.40 L693.46,416.15 L693.78,416.88 L694.10,417.58 L694.43,418.26 L694.75,418.90 L695.07,419.52 L695.39,420.11 L695.72,420.67 L696.04,421.21 L696.36,421.71 L696.69,422.19 L697.01,422.64 L697.33,423.06 L697.65,423.45 L697.98,423.81 L698.30,424.14 L698.62,424.45 L698.95,424.72 L699.27,424.97 L699.59,425.19 L699.91,425.38 L700.24,425.54 L700.56,425.67 L700.88,425.77 L701.20,425.84 L701.53,425.89 L701.85,425.90 L702.17,425.89 L702.50,425.84 L702.82,425.77 L703.14,425.67 L703.46,425.54 L703.79,425.38 L704.11,425.19 L704.43,424.97 L704.75,424.72 L705.08,424.45 L705.40,424.14 L705.72,423.81 L706.05,423.45 L706.37,423.06 L706.69,422.64 L707.01,422.19 L707.34,421.71 L707.66,421.21 L707.98,420.67 L708.30,420.11 L708.63,419.52 L708.95,418.90 L709.27,418.26 L709.60,417.58 L709.92,416.88 L710.24,416.15 L710.56,415.40 L710.89,414.62 L711.21,413.80 L711.53,412.97 L711.86,412.10 L712.18,411.21 L712.50,410.29 L712.82,409.35 L713.15,408.38 L713.47,407.38 L713.79,406.36 L714.11,405.31 L714.44,404.24 L714.76,403.14 L715.08,402.01 L715.41,400.86 L715.73,399.69 L716.05,398.49 L716.37,397.27 L716.70,396.02 L717.02,394.75 L717.34,393.45 L717.66,392.13 L717.99,390.79 L718.31,389.43 L718.63,388.04 L718.96,386.63 L719.28,385.19 L719.60,383.74 L719.92,382.26 L720.25,380.76 L720.57,379.24 L720.89,377.70 L721.22,376.14 L721.54,374.55 L721.86,372.95 L722.18,371.33 L722.51,369.69 L722.83,368.02 L723.15,366.34 L723.47,364.64 L723.80,362.92 L724.12,361.18 L724.44,359.43 L724.77,357.66 L725.09,355.86 L725.41,354.06 L725.73,352.23 L726.06,350.39 L726.38,348.53 L726.70,346.66 L727.02,344.77 L727.35,342.87 L727.67,340.95 L727.99,339.02 L728.32,337.07 L728.64,335.11 L728.96,333.13 L729.28,331.14 L729.61,329.14 L729.93,327.13 L730.25,325.10 L730.57,323.07 L730.90,321.02 L731.22,318.96 L731.54,316.89 L731.87,314.81 L732.19,312.71 L732.51,310.61 L732.83,308.50 L733.16,306.38 L733.48,304.25 L733.80,302.12 L734.12,299.97 L734.45,297.82 L734.77,295.66 L735.09,293.50 L735.42,291.32 L735.74,289.15 L736.06,286.96 L736.38,284.77 L736.71,282.58 L737.03,280.38 L737.35,278.18 L737.68,275.97 L738.00,273.76 L738.32,271.55 L738.64,269.33 L738.97,267.11 L739.29,264.89 L739.61,262.67 L739.93,260.45 L740.26,258.22 L740.58,256.00" stroke="#22a455" stroke-width="4.0" stroke-linecap="square"/>
<path d="M120.90,425.90 L120.91,425.70 L120.93,425.40 L120.96,424.91 L121.03,423.94 L121.09,422.99 L121.16,422.07 L121.22,421.18 L121.55,417.40 L121.87,414.48 L122.19,412.04 L122.51,410.27 L122.84,408.98 L123.16,407.89 L123.48,407.05 L123.80,406.53 L124.13,406.21 L124.45,405.94 L124.77,405.72 L125.10,405.58 L125.42,405.51 L125.74,405.49 L126.06,405.47 L126.39,405.45 L126.71,405.43 L127.03,405.42 L127.36,405.40 L127.68,405.39 L128.00,405.38 L128.32,405.37 L128.65,405.36 L128.97,405.36 L129.29,405.35 L129.61,405.35 L129.94,405.34 L130.26,405.34 L130.58,405.34 L130.91,405.36 L131.23,405.40 L131.55,405.46 L131.87,405.55 L132.20,405.66 L132.52,405.79 L132.84,406.02 L133.16,406.58 L133.49,407.40 L133.81,408.37 L134.13,409.36 L134.46,410.27 L134.78,411.12 L135.10,412.01 L135.42,412.92 L135.75,413.82 L136.07,414.71 L136.39,415.56 L136.71,416.34 L137.04,417.07 L137.36,417.79 L137.68,418.48 L138.01,419.14 L138.33,419.75 L138.65,420.31 L138.97,420.80 L139.30,421.25 L139.62,421.67 L139.94,422.07 L140.27,422.45 L140.59,422.79 L140.91,423.09 L141.23,423.35 L141.56,423.56 L141.88,423.75 L142.20,423.92 L142.52,424.08 L142.85,424.23 L143.17,424.36 L143.49,424.48 L143.82,424.60 L144.14,424.70 L144.46,424.79 L144.78,424.88 L145.11,424.96 L145.43,425.04 L145.75,425.12 L146.07,425.19 L146.40,425.26 L146.72,425.32 L147.04,425.38 L147.37,425.43 L147.69,425.48 L148.01,425.52 L148.33,425.55 L148.66,425.57 L148.98,425.59 L149.30,425.60 L149.62,425.62 L149.95,425.64 L150.27,425.66 L150.59,425.67 L150.92,425.69 L151.24,425.70 L151.56,425.72 L151.88,425.73 L152.21,425.75 L152.53,425.76 L152.85,425.77 L153.18,425.78 L153.50,425.79 L153.82,425.80 L154.14,425.81 L154.47,425.82 L154.79,425.83 L155.11,425.84 L155.43,425.85 L155.76,425.86 L156.08,425.86 L156.40,425.87 L156.73,425.88 L157.05,425.88 L157.37,425.89 L157.69,425.89 L158.02,425.89 L158.34,425.90 L158.66,425.90 L158.98,425.90 L159.31,425.90 L159.63,425.90 L159.95,425.90 L160.28,425.90 L160.60,425.90 L160.92,425.90 L161.24,425.90 L161.57,425.90 L161.89,425.90 L162.21,425.90 L162.53,425.90 L162.86,425.90 L163.18,425.90 L163.50,425.90 L163.83,425.90 L164.15,425.90 L164.47,425.90 L164.79,425.90 L165.12,425.90 L165.44,425.90 L165.76,425.90 L166.09,425.90 L166.41,425.90 L166.73,425.90 L167.05,425.90 L167.38,425.90 L167.70,425.90 L168.02,425.90 L168.34,425.90 L168.67,425.90 L168.99,425.90 L169.31,425.90 L169.64,425.90 L169.96,425.90 L170.28,425.90 L170.60,425.90 L170.93,425.90 L171.25,425.90 L171.57,425.90 L171.89,425.90 L172.22,425.90 L172.54,425.90 L172.86,425.90 L173.19,425.90 L173.51,425.90 L173.83,425.90 L174.15,425.90 L174.48,425.90 L174.80,425.90 L175.12,425.90 L175.44,425.90 L175.77,425.90 L176.09,425.90 L176.41,425.90 L176.74,425.90 L177.06,425.90 L177.38,425.90 L177.70,425.90 L178.03,425.90 L178.35,425.90 L178.67,425.90 L179.00,425.90 L179.32,425.90 L179.64,425.90 L179.96,425.90 L180.29,425.90 L180.61,425.90 L180.93,425.90 L181.25,425.90 L181.58,425.90 L181.90,425.90 L182.22,425.90 L182.55,425.90 L182.87,425.90 L183.19,425.90 L183.51,425.90 L183.84,425.90 L184.16,425.90 L184.48,425.90 L184.80,425.90 L185.13,425.90 L185.45,425.90 L185.77,425.90 L186.10,425.90 L186.42,425.90 L186.74,425.90 L187.06,425.90 L187.39,425.90 L187.71,425.90 L188.03,425.90 L188.35,425.90 L188.68,425.90 L189.00,425.90 L189.32,425.90 L189.65,425.90 L189.97,425.90 L190.29,425.90 L190.61,425.90 L190.94,425.90 L191.26,425.90 L191.58,425.90 L191.91,425.90 L192.23,425.90 L192.55,425.90 L192.87,425.90 L193.20,425.90 L193.52,425.90 L193.84,425.90 L194.16,425.90 L194.49,425.90 L194.81,425.90 L195.13,425.90 L195.46,425.90 L195.78,425.90 L196.10,425.90 L196.42,425.90 L196.75,425.90 L197.07,425.90 L197.39,425.90 L197.71,425.90 L198.04,425.90 L198.36,425.90 L198.68,425.90 L199.01,425.90 L199.33,425.90 L199.65,425.90 L199.97,425.90 L200.30,425.90 L200.62,425.90 L200.94,425.90 L201.26,425.90 L201.59,425.90 L201.91,425.90 L202.23,425.90 L202.56,425.90 L202.88,425.90 L203.20,425.90 L203.52,425.90 L203.85,425.90 L204.17,425.90 L204.49,425.90 L204.81,425.90 L205.14,425.90 L205.46,425.90 L205.78,425.90 L206.11,425.90 L206.43,425.90 L206.75,425.90 L207.07,425.90 L207.40,425.90 L207.72,425.90 L208.04,425.90 L208.37,425.90 L208.69,425.90 L209.01,425.90 L209.33,425.90 L209.66,425.90 L209.98,425.90 L210.30,425.90 L210.62,425.90 L210.95,425.90 L211.27,425.90 L211.59,425.90 L211.92,425.90 L212.24,425.90 L212.56,425.90 L212.88,425.90 L213.21,425.90 L213.53,425.90 L213.85,425.90 L214.17,425.90 L214.50,425.90 L214.82,425.90 L215.14,425.90 L215.47,425.90 L215.79,425.90 L216.11,425.90 L216.43,425.90 L216.76,425.90 L217.08,425.90 L217.40,425.90 L217.73,425.90 L218.05,425.90 L218.37,425.90 L218.69,425.90 L219.02,425.90 L219.34,425.90 L219.66,425.90 L219.98,425.90 L220.31,425.90 L220.63,425.90 L220.95,425.90 L221.28,425.90 L221.60,425.90 L221.92,425.90 L222.24,425.90 L222.57,425.90 L222.89,425.90 L223.21,425.90 L223.53,425.90 L223.86,425.90 L224.18,425.90 L224.50,425.90 L224.83,425.90 L225.15,425.90 L225.47,425.90 L225.79,425.78 L226.12,425.43 L226.44,424.90 L226.76,424.21 L227.08,423.40 L227.41,422.50 L227.73,421.19 L228.05,419.21 L228.38,416.68 L228.70,413.75 L229.02,410.55 L229.34,407.21 L229.67,403.24 L229.99,398.34 L230.31,392.92 L230.63,387.43 L230.96,382.27 L231.28,377.85 L231.60,374.01 L231.93,370.45 L232.25,367.12 L232.57,363.92 L232.89,360.78 L233.22,357.61 L233.54,354.34 L233.86,350.89 L234.19,347.17 L234.51,343.04 L234.83,338.48 L235.15,333.78 L235.48,329.22 L235.80,325.05 L236.12,321.04 L236.44,317.21 L236.77,313.70 L237.09,310.54 L237.41,307.52 L237.74,304.70 L238.06,302.13 L238.38,299.92 L238.70,298.07 L239.03,296.34 L239.35,294.70 L239.67,293.17 L239.99,291.75 L240.32,290.46 L240.64,289.29 L240.96,288.26 L241.29,287.38 L241.61,286.64 L241.93,285.92 L242.25,285.23 L242.58,284.56 L242.90,283.95 L243.22,283.40 L243.55,282.93 L243.87,282.56 L244.19,282.31 L244.51,282.18 L244.84,282.19 L245.16,282.36 L245.48,282.66 L245.80,283.08 L246.13,283.62 L246.45,284.25 L246.77,284.96 L247.10,285.74 L247.42,286.58 L247.74,287.57 L248.06,289.16 L248.39,291.24 L248.71,293.63 L249.03,296.18 L249.35,298.72 L249.68,301.09 L250.00,303.30 L250.32,305.61 L250.65,307.96 L250.97,310.28 L251.29,312.52 L251.61,314.61 L251.94,316.49 L252.26,318.14 L252.58,319.73 L252.90,321.27 L253.23,322.74 L253.55,324.12 L253.87,325.41 L254.20,326.59 L254.52,327.65 L254.84,328.57 L255.16,329.36 L255.49,330.08 L255.81,330.77 L256.13,331.43 L256.46,332.04 L256.78,332.62 L257.10,333.15 L257.42,333.65 L257.75,334.11 L258.07,334.52 L258.39,334.90 L258.71,335.23 L259.04,335.51 L259.36,335.77 L259.68,336.03 L260.01,336.27 L260.33,336.51 L260.65,336.74 L260.97,336.96 L261.30,337.17 L261.62,337.36 L261.94,337.55 L262.26,337.72 L262.59,337.88 L262.91,338.03 L263.23,338.16 L263.56,338.27 L263.88,338.37 L264.20,338.46 L264.52,338.52 L264.85,338.57 L265.17,338.61 L265.49,338.65 L265.81,338.68 L266.14,338.72 L266.46,338.75 L266.78,338.79 L267.11,338.82 L267.43,338.85 L267.75,338.88 L268.07,338.91 L268.40,338.93 L268.72,338.96 L269.04,338.99 L269.37,339.01 L269.69,339.03 L270.01,339.06 L270.33,339.08 L270.66,339.10 L270.98,339.11 L271.30,339.13 L271.62,339.15 L271.95,339.16 L272.27,339.18 L272.59,339.19 L272.92,339.20 L273.24,339.21 L273.56,339.22 L273.88,339.23 L274.21,339.24 L274.53,339.24 L274.85,339.25 L275.17,339.25 L275.50,339.25 L275.82,339.25 L276.14,339.25 L276.47,339.25 L276.79,339.25 L277.11,339.25 L277.43,339.25 L277.76,339.25 L278.08,339.25 L278.40,339.25 L278.72,339.25 L279.05,339.25 L279.37,339.25 L279.69,339.25 L280.02,339.25 L280.34,339.25 L280.66,339.25 L280.98,339.25 L281.31,339.25 L281.63,339.25 L281.95,339.25 L282.28,339.25 L282.60,339.25 L282.92,339.25 L283.24,339.25 L283.57,339.25 L283.89,339.25 L284.21,339.25 L284.53,339.25 L284.86,339.25 L285.18,339.25 L285.50,339.25 L285.83,339.25 L286.15,339.25 L286.47,339.25 L286.79,339.25 L287.12,339.25 L287.44,339.25 L287.76,339.25 L288.08,339.25 L288.41,339.25 L288.73,339.25 L289.05,339.25 L289.38,339.25 L289.70,339.25 L290.02,339.25 L290.34,339.25 L290.67,339.25 L290.99,339.25 L291.31,339.25 L291.63,339.25 L291.96,339.25 L292.28,339.25 L292.60,339.25 L292.93,339.25 L293.25,339.25 L293.57,339.25 L293.89,339.25 L294.22,339.25 L294.54,339.25 L294.86,339.25 L295.19,339.25 L295.51,339.25 L295.83,339.25 L296.15,339.25 L296.48,339.25 L296.80,339.25 L297.12,339.25 L297.44,339.25 L297.77,339.25 L298.09,339.25 L298.41,339.25 L298.74,339.25 L299.06,339.25 L299.38,339.25 L299.70,339.25 L300.03,339.25 L300.35,339.25 L300.67,339.25 L300.99,339.25 L301.32,339.25 L301.64,339.25 L301.96,339.25 L302.29,339.25 L302.61,339.25 L302.93,339.25 L303.25,339.25 L303.58,339.25 L303.90,339.25 L304.22,339.25 L304.54,339.25 L304.87,339.25 L305.19,339.25 L305.51,339.25 L305.84,339.25 L306.16,339.25 L306.48,339.25 L306.80,339.25 L307.13,339.25 L307.45,339.25 L307.77,339.25 L308.10,339.25 L308.42,339.25 L308.74,339.25 L309.06,339.25 L309.39,339.25 L309.71,339.25 L310.03,339.25 L310.35,339.25 L310.68,339.25 L311.00,339.25 L311.32,339.25 L311.65,339.25 L311.97,339.25 L312.29,339.25 L312.61,339.25 L312.94,339.25 L313.26,339.25 L313.58,339.25 L313.90,339.25 L314.23,339.25 L314.55,339.25 L314.87,339.25 L315.20,339.25 L315.52,339.25 L315.84,339.25 L316.16,339.25 L316.49,339.25 L316.81,339.25 L317.13,339.25 L317.45,339.25 L317.78,339.25 L318.10,339.25 L318.42,339.25 L318.75,339.25 L319.07,339.25 L319.39,339.25 L319.71,339.25 L320.04,339.25 L320.36,339.25 L320.68,339.25 L321.00,339.25 L321.33,339.25 L321.65,339.25 L321.97,339.25 L322.30,339.25 L322.62,339.25 L322.94,339.25 L323.26,339.25 L323.59,339.25 L323.91,339.25 L324.23,339.25 L324.56,339.25 L324.88,339.25 L325.20,339.25 L325.52,339.25 L325.85,339.25 L326.17,339.25 L326.49,339.25 L326.81,339.25 L327.14,339.25 L327.46,339.25 L327.78,339.25 L328.11,339.25 L328.43,339.25 L328.75,339.25 L329.07,339.25 L329.40,339.25 L329.72,339.25 L330.04,339.25 L330.36,339.25 L330.69,339.25 L331.01,339.25 L331.33,339.25 L331.66,339.25 L331.98,339.25 L332.30,339.25 L332.62,339.25 L332.95,339.25 L333.27,339.25 L333.59,339.25 L333.92,339.25 L334.24,339.25 L334.56,339.25 L334.88,339.25 L335.21,339.25 L335.53,339.25 L335.85,339.25 L336.17,339.25 L336.50,339.25 L336.82,339.25 L337.14,339.25 L337.47,339.25 L337.79,339.25 L338.11,339.25 L338.43,339.25 L338.76,339.25 L339.08,339.25 L339.40,339.25 L339.72,339.25 L340.05,339.25 L340.37,339.25 L340.69,339.25 L341.02,339.25 L341.34,339.25 L341.66,339.25 L341.98,339.25 L342.31,339.25 L342.63,339.25 L342.95,339.25 L343.27,339.25 L343.60,339.25 L343.92,339.25 L344.24,339.25 L344.57,339.25 L344.89,339.25 L345.21,339.25 L345.53,339.25 L345.86,339.25 L346.18,339.25 L346.50,339.25 L346.83,339.25 L347.15,339.25 L347.47,339.25 L347.79,339.25 L348.12,339.25 L348.44,339.25 L348.76,339.25 L349.08,339.25 L349.41,339.25 L349.73,339.25 L350.05,339.25 L350.38,339.25 L350.70,339.25 L351.02,339.25 L351.34,339.25 L351.67,339.25 L351.99,339.25 L352.31,339.25 L352.63,339.25 L352.96,339.25 L353.28,339.25 L353.60,339.25 L353.93,339.25 L354.25,339.25 L354.57,339.25 L354.89,339.25 L355.22,339.25 L355.54,339.25 L355.86,339.25 L356.18,339.25 L356.51,339.25 L356.83,339.25 L357.15,339.25 L357.48,339.25 L357.80,339.25 L358.12,339.25 L358.44,339.25 L358.77,339.25 L359.09,339.25 L359.41,339.25 L359.74,339.25 L360.06,339.25 L360.38,339.25 L360.70,339.25 L361.03,339.25 L361.35,339.25 L361.67,339.25 L361.99,339.25 L362.32,339.25 L362.64,339.25 L362.96,339.25 L363.29,339.25 L363.61,339.25 L363.93,339.25 L364.25,339.25 L364.58,339.25 L364.90,339.25 L365.22,339.25 L365.54,339.25 L365.87,339.25 L366.19,339.25 L366.51,339.25 L366.84,339.25 L367.16,339.25 L367.48,339.25 L367.80,339.25 L368.13,339.25 L368.45,339.25 L368.77,339.25 L369.09,339.25 L369.42,339.25 L369.74,339.25 L370.06,339.25 L370.39,339.25 L370.71,339.25 L371.03,339.25 L371.35,339.25 L371.68,339.25 L372.00,339.25 L372.32,339.25 L372.64,339.25 L372.97,339.25 L373.29,339.25 L373.61,339.25 L373.94,339.25 L374.26,339.25 L374.58,339.25 L374.90,339.25 L375.23,339.25 L375.55,339.25 L375.87,339.25 L376.20,339.25 L376.52,339.25 L376.84,339.25 L377.16,339.25 L377.49,339.25 L377.81,339.25 L378.13,339.25 L378.45,339.25 L378.78,339.25 L379.10,339.25 L379.42,339.25 L379.75,339.25 L380.07,339.25 L380.39,339.25 L380.71,339.56 L381.04,340.37 L381.36,341.46 L381.68,342.65 L382.00,343.95 L382.33,345.58 L382.65,347.61 L382.97,350.12 L383.30,354.43 L383.62,361.02 L383.94,368.80 L384.26,376.65 L384.59,383.48 L384.91,388.18 L385.23,391.28 L385.56,394.07 L385.88,396.58 L386.20,398.85 L386.52,400.89 L386.85,402.75 L387.17,404.45 L387.49,406.02 L387.81,407.50 L388.14,408.91 L388.46,410.29 L388.78,411.66 L389.11,412.99 L389.43,414.27 L389.75,415.48 L390.07,416.61 L390.40,417.63 L390.72,418.54 L391.04,419.31 L391.36,419.94 L391.69,420.39 L392.01,420.72 L392.33,421.04 L392.66,421.34 L392.98,421.63 L393.30,421.90 L393.62,422.17 L393.95,422.41 L394.27,422.65 L394.59,422.87 L394.91,423.07 L395.24,423.26 L395.56,423.43 L395.88,423.59 L396.21,423.73 L396.53,423.85 L396.85,423.96 L397.17,424.04 L397.50,424.11 L397.82,424.16 L398.14,424.19 L398.47,424.20 L398.79,424.19 L399.11,424.17 L399.43,424.13 L399.76,424.08 L400.08,424.01 L400.40,423.93 L400.72,423.84 L401.05,423.73 L401.37,423.61 L401.69,423.48 L402.02,423.34 L402.34,423.18 L402.66,422.88 L402.98,422.35 L403.31,421.68 L403.63,420.97 L403.95,420.31 L404.27,419.78 L404.60,419.34 L404.92,418.88 L405.24,418.45 L405.57,418.08 L405.89,417.84 L406.21,417.74 L406.53,417.86 L406.86,418.18 L407.18,418.63 L407.50,419.14 L407.82,419.66 L408.15,420.12 L408.47,420.57 L408.79,421.07 L409.12,421.59 L409.44,422.11 L409.76,422.59 L410.08,423.01 L410.41,423.33 L410.73,423.52 L411.05,423.64 L411.38,423.75 L411.70,423.86 L412.02,423.96 L412.34,424.06 L412.67,424.16 L412.99,424.25 L413.31,424.34 L413.63,424.43 L413.96,424.51 L414.28,424.58 L414.60,424.66 L414.93,424.73 L415.25,424.80 L415.57,424.86 L415.89,424.92 L416.22,424.98 L416.54,425.03 L416.86,425.08 L417.18,425.13 L417.51,425.18 L417.83,425.22 L418.15,425.26 L418.48,425.29 L418.80,425.33 L419.12,425.36 L419.44,425.39 L419.77,425.42 L420.09,425.44 L420.41,425.47 L420.73,425.49 L421.06,425.50 L421.38,425.52 L421.70,425.54 L422.03,425.55 L422.35,425.56 L422.67,425.57 L422.99,425.58 L423.32,425.59 L423.64,425.60 L423.96,425.61 L424.28,425.62 L424.61,425.63 L424.93,425.64 L425.25,425.65 L425.58,425.66 L425.90,425.66 L426.22,425.67 L426.54,425.68 L426.87,425.69 L427.19,425.70 L427.51,425.70 L427.84,425.71 L428.16,425.72 L428.48,425.73 L428.80,425.73 L429.13,425.74 L429.45,425.75 L429.77,425.76 L430.09,425.76 L430.42,425.77 L430.74,425.78 L431.06,425.78 L431.39,425.79 L431.71,425.79 L432.03,425.80 L432.35,425.80 L432.68,425.81 L433.00,425.81 L433.32,425.82 L433.64,425.82 L433.97,425.83 L434.29,425.83 L434.61,425.84 L434.94,425.84 L435.26,425.85 L435.58,425.85 L435.90,425.85 L436.23,425.86 L436.55,425.86 L436.87,425.87 L437.20,425.87 L437.52,425.87 L437.84,425.87 L438.16,425.88 L438.49,425.88 L438.81,425.88 L439.13,425.88 L439.45,425.89 L439.78,425.89 L440.10,425.89 L440.42,425.89 L440.75,425.89 L441.07,425.89 L441.39,425.90 L441.71,425.90 L442.04,425.90 L442.36,425.90 L442.68,425.90 L443.00,425.90 L443.33,425.90 L443.65,425.90 L443.97,425.90 L444.30,425.90 L444.62,425.90 L444.94,425.90 L445.26,425.90 L445.59,425.90 L445.91,425.90 L446.23,425.90 L446.55,425.90 L446.88,425.90 L447.20,425.90 L447.52,425.90 L447.85,425.90 L448.17,425.90 L448.49,425.90 L448.81,425.90 L449.14,425.90 L449.46,425.90 L449.78,425.90 L450.11,425.90 L450.43,425.90 L450.75,425.90 L451.07,425.90 L451.40,425.90 L451.72,425.90 L452.04,425.90 L452.36,425.90 L452.69,425.90 L453.01,425.90 L453.33,425.90 L453.66,425.90 L453.98,425.90 L454.30,425.90 L454.62,425.90 L454.95,425.90 L455.27,425.90 L455.59,425.90 L455.91,425.90 L456.24,425.90 L456.56,425.90 L456.88,425.90 L457.21,425.90 L457.53,425.90 L457.85,425.90 L458.17,425.90 L458.50,425.90 L458.82,425.90 L459.14,425.90 L459.46,425.90 L459.79,425.90 L460.11,425.90 L460.43,425.90 L460.76,425.90 L461.08,425.90 L461.40,425.90 L461.72,425.90 L462.05,425.90 L462.37,425.90 L462.69,425.90 L463.01,425.90 L463.34,425.90 L463.66,425.90 L463.98,425.90 L464.31,425.90 L464.63,425.90 L464.95,425.90 L465.27,425.90 L465.60,425.90 L465.92,425.90 L466.24,425.90 L466.57,425.90 L466.89,425.90 L467.21,425.90 L467.53,425.90 L467.86,425.90 L468.18,425.90 L468.50,425.90 L468.82,425.90 L469.15,425.90 L469.47,425.90 L469.79,425.90 L470.12,425.90 L470.44,425.90 L470.76,425.90 L471.08,425.90 L471.41,425.90 L471.73,425.90 L472.05,425.90 L472.37,425.90 L472.70,425.90 L473.02,425.90 L473.34,425.90 L473.67,425.90 L473.99,425.90 L474.31,425.90 L474.63,425.90 L474.96,425.90 L475.28,425.90 L475.60,425.90 L475.92,425.90 L476.25,425.90 L476.57,425.90 L476.89,425.90 L477.22,425.90 L477.54,425.90 L477.86,425.90 L478.18,425.90 L478.51,425.90 L478.83,425.90 L479.15,425.90 L479.48,425.90 L479.80,425.90 L480.12,425.90 L480.44,425.90 L480.77,425.90 L481.09,425.90 L481.41,425.90 L481.73,425.90 L482.06,425.90 L482.38,425.90 L482.70,425.90 L483.03,425.90 L483.35,425.90 L483.67,425.90 L483.99,425.90 L484.32,425.90 L484.64,425.90 L484.96,425.90 L485.28,425.90 L485.61,425.90 L485.93,425.90 L486.25,425.90 L486.58,425.90 L486.90,425.90 L487.22,425.90 L487.54,425.90 L487.87,425.90 L488.19,425.90 L488.51,425.90 L488.84,425.90 L489.16,425.90 L489.48,425.90 L489.80,425.90 L490.13,425.90 L490.45,425.90 L490.77,425.90 L491.09,425.90 L491.42,425.90 L491.74,425.90 L492.06,425.90 L492.39,425.90 L492.71,425.90 L493.03,425.90 L493.35,425.90 L493.68,425.90 L494.00,425.90 L494.32,425.90 L494.64,425.90 L494.97,425.90 L495.29,425.90 L495.61,425.90 L495.94,425.90 L496.26,425.90 L496.58,425.90 L496.90,425.90 L497.23,425.90 L497.55,425.90 L497.87,425.90 L498.19,425.90 L498.52,425.90 L498.84,425.90 L499.16,425.90 L499.49,425.90 L499.81,425.90 L500.13,425.90 L500.45,425.90 L500.78,425.90 L501.10,425.90 L501.42,425.90 L501.75,425.90 L502.07,425.90 L502.39,425.90 L502.71,425.90 L503.04,425.90 L503.36,425.90 L503.68,425.90 L504.00,425.90 L504.33,425.90 L504.65,425.90 L504.97,425.90 L505.30,425.90 L505.62,425.90 L505.94,425.90 L506.26,425.90 L506.59,425.90 L506.91,425.90 L507.23,425.90 L507.55,425.90 L507.88,425.90 L508.20,425.90 L508.52,425.90 L508.85,425.90 L509.17,425.90 L509.49,425.90 L509.81,425.90 L510.14,425.90 L510.46,425.90 L510.78,425.90 L511.10,425.90 L511.43,425.90 L511.75,425.90 L512.07,425.90 L512.40,425.90 L512.72,425.90 L513.04,425.90 L513.36,425.90 L513.69,425.90 L514.01,425.90 L514.33,425.90 L514.65,425.90 L514.98,425.90 L515.30,425.90 L515.62,425.90 L515.95,425.90 L516.27,425.90 L516.59,425.90 L516.91,425.90 L517.24,425.90 L517.56,425.90 L517.88,425.90 L518.21,425.90 L518.53,425.90 L518.85,425.90 L519.17,425.90 L519.50,425.90 L519.82,425.90 L520.14,425.90 L520.46,425.90 L520.79,425.90 L521.11,425.90 L521.43,425.90 L521.76,425.90 L522.08,425.90 L522.40,425.90 L522.72,425.90 L523.05,425.90 L523.37,425.90 L523.69,425.90 L524.01,425.90 L524.34,425.90 L524.66,425.90 L524.98,425.90 L525.31,425.90 L525.63,425.90 L525.95,425.90 L526.27,425.90 L526.60,425.90 L526.92,425.90 L527.24,425.90 L527.57,425.90 L527.89,425.90 L528.21,425.90 L528.53,425.90 L528.86,425.90 L529.18,425.90 L529.50,425.90 L529.82,425.90 L530.15,425.90 L530.47,425.90 L530.79,425.90 L531.12,425.90 L531.44,425.90 L531.76,425.90 L532.08,425.90 L532.41,425.90 L532.73,425.90 L533.05,425.90 L533.37,425.90 L533.70,425.90 L534.02,425.90 L534.34,425.90 L534.67,425.90 L534.99,425.90 L535.31,425.90 L535.63,425.78 L535.96,425.43 L536.28,424.90 L536.60,424.21 L536.92,423.40 L537.25,422.50 L537.57,421.19 L537.89,419.21 L538.22,416.68 L538.54,413.75 L538.86,410.55 L539.18,407.21 L539.51,403.24 L539.83,398.34 L540.15,392.92 L540.48,387.43 L540.80,382.27 L541.12,377.85 L541.44,374.01 L541.77,370.45 L542.09,367.12 L542.41,363.92 L542.73,360.78 L543.06,357.61 L543.38,354.34 L543.70,350.89 L544.03,347.17 L544.35,343.04 L544.67,338.48 L544.99,333.78 L545.32,329.22 L545.64,325.05 L545.96,321.04 L546.28,317.21 L546.61,313.70 L546.93,310.54 L547.25,307.52 L547.58,304.70 L547.90,302.13 L548.22,299.92 L548.54,298.07 L548.87,296.34 L549.19,294.70 L549.51,293.17 L549.83,291.75 L550.16,290.46 L550.48,289.29 L550.80,288.26 L551.13,287.38 L551.45,286.64 L551.77,285.92 L552.09,285.23 L552.42,284.56 L552.74,283.95 L553.06,283.40 L553.38,282.93 L553.71,282.56 L554.03,282.31 L554.35,282.18 L554.68,282.19 L555.00,282.36 L555.32,282.66 L555.64,283.08 L555.97,283.62 L556.29,284.25 L556.61,284.96 L556.94,285.74 L557.26,286.58 L557.58,287.57 L557.90,289.16 L558.23,291.24 L558.55,293.63 L558.87,296.18 L559.19,298.72 L559.52,301.09 L559.84,303.30 L560.16,305.61 L560.49,307.96 L560.81,310.28 L561.13,312.52 L561.45,314.61 L561.78,316.49 L562.10,318.14 L562.42,319.73 L562.74,321.27 L563.07,322.74 L563.39,324.12 L563.71,325.41 L564.04,326.59 L564.36,327.65 L564.68,328.57 L565.00,329.36 L565.33,330.08 L565.65,330.77 L565.97,331.43 L566.29,332.04 L566.62,332.62 L566.94,333.15 L567.26,333.65 L567.59,334.11 L567.91,334.52 L568.23,334.90 L568.55,335.23 L568.88,335.51 L569.20,335.77 L569.52,336.03 L569.85,336.27 L570.17,336.51 L570.49,336.74 L570.81,336.96 L571.14,337.17 L571.46,337.36 L571.78,337.55 L572.10,337.72 L572.43,337.88 L572.75,338.03 L573.07,338.16 L573.40,338.27 L573.72,338.37 L574.04,338.46 L574.36,338.52 L574.69,338.57 L575.01,338.61 L575.33,338.65 L575.65,338.68 L575.98,338.72 L576.30,338.75 L576.62,338.79 L576.95,338.82 L577.27,338.85 L577.59,338.88 L577.91,338.91 L578.24,338.93 L578.56,338.96 L578.88,338.99 L579.21,339.01 L579.53,339.03 L579.85,339.06 L580.17,339.08 L580.50,339.10 L580.82,339.11 L581.14,339.13 L581.46,339.15 L581.79,339.16 L582.11,339.18 L582.43,339.19 L582.76,339.20 L583.08,339.21 L583.40,339.22 L583.72,339.23 L584.05,339.24 L584.37,339.24 L584.69,339.25 L585.01,339.25 L585.34,339.25 L585.66,339.25 L585.98,339.25 L586.31,339.25 L586.63,339.25 L586.95,339.25 L587.27,339.25 L587.60,339.25 L587.92,339.25 L588.24,339.25 L588.56,339.25 L588.89,339.25 L589.21,339.25 L589.53,339.25 L589.86,339.25 L590.18,339.25 L590.50,339.25 L590.82,339.25 L591.15,339.25 L591.47,339.25 L591.79,339.25 L592.12,339.25 L592.44,339.25 L592.76,339.25 L593.08,339.25 L593.41,339.25 L593.73,339.25 L594.05,339.25 L594.37,339.25 L594.70,339.25 L595.02,339.25 L595.34,339.25 L595.67,339.25 L595.99,339.25 L596.31,339.25 L596.63,339.25 L596.96,339.25 L597.28,339.25 L597.60,339.25 L597.92,339.25 L598.25,339.25 L598.57,339.25 L598.89,339.25 L599.22,339.25 L599.54,339.25 L599.86,339.25 L600.18,339.25 L600.51,339.25 L600.83,339.25 L601.15,339.25 L601.47,339.25 L601.80,339.25 L602.12,339.25 L602.44,339.25 L602.77,339.25 L603.09,339.25 L603.41,339.25 L603.73,339.25 L604.06,339.25 L604.38,339.25 L604.70,339.25 L605.02,339.25 L605.35,339.25 L605.67,339.25 L605.99,339.25 L606.32,339.25 L606.64,339.25 L606.96,339.25 L607.28,339.25 L607.61,339.25 L607.93,339.25 L608.25,339.25 L608.58,339.25 L608.90,339.25 L609.22,339.25 L609.54,339.25 L609.87,339.25 L610.19,339.25 L610.51,339.25 L610.83,339.25 L611.16,339.25 L611.48,339.25 L611.80,339.25 L612.13,339.25 L612.45,339.25 L612.77,339.25 L613.09,339.25 L613.42,339.25 L613.74,339.25 L614.06,339.25 L614.38,339.25 L614.71,339.25 L615.03,339.25 L615.35,339.25 L615.68,339.25 L616.00,339.25 L616.32,339.25 L616.64,339.25 L616.97,339.25 L617.29,339.25 L617.61,339.25 L617.94,339.25 L618.26,339.25 L618.58,339.25 L618.90,339.25 L619.23,339.25 L619.55,339.25 L619.87,339.25 L620.19,339.25 L620.52,339.25 L620.84,339.25 L621.16,339.25 L621.49,339.25 L621.81,339.25 L622.13,339.25 L622.45,339.25 L622.78,339.25 L623.10,339.25 L623.42,339.25 L623.74,339.25 L624.07,339.25 L624.39,339.25 L624.71,339.25 L625.04,339.25 L625.36,339.25 L625.68,339.25 L626.00,339.25 L626.33,339.25 L626.65,339.25 L626.97,339.25 L627.29,339.25 L627.62,339.25 L627.94,339.25 L628.26,339.25 L628.59,339.25 L628.91,339.25 L629.23,339.25 L629.55,339.25 L629.88,339.25 L630.20,339.25 L630.52,339.25 L630.85,339.25 L631.17,339.25 L631.49,339.25 L631.81,339.25 L632.14,339.25 L632.46,339.25 L632.78,339.25 L633.10,339.25 L633.43,339.25 L633.75,339.25 L634.07,339.25 L634.40,339.25 L634.72,339.25 L635.04,339.25 L635.36,339.25 L635.69,339.25 L636.01,339.25 L636.33,339.25 L636.65,339.25 L636.98,339.25 L637.30,339.25 L637.62,339.25 L637.95,339.25 L638.27,339.25 L638.59,339.25 L638.91,339.25 L639.24,339.25 L639.56,339.25 L639.88,339.25 L640.20,339.25 L640.53,339.25 L640.85,339.25 L641.17,339.25 L641.50,339.25 L641.82,339.25 L642.14,339.25 L642.46,339.25 L642.79,339.25 L643.11,339.25 L643.43,339.25 L643.75,339.25 L644.08,339.25 L644.40,339.25 L644.72,339.25 L645.05,339.25 L645.37,339.25 L645.69,339.25 L646.01,339.25 L646.34,339.25 L646.66,339.25 L646.98,339.25 L647.31,339.25 L647.63,339.25 L647.95,339.25 L648.27,339.25 L648.60,339.25 L648.92,339.25 L649.24,339.25 L649.56,339.25 L649.89,339.25 L650.21,339.25 L650.53,339.25 L650.86,339.25 L651.18,339.25 L651.50,339.25 L651.82,339.25 L652.15,339.25 L652.47,339.25 L652.79,339.25 L653.11,339.25 L653.44,339.25 L653.76,339.25 L654.08,339.25 L654.41,339.25 L654.73,339.25 L655.05,339.25 L655.37,339.25 L655.70,339.25 L656.02,339.25 L656.34,339.25 L656.66,339.25 L656.99,339.25 L657.31,339.25 L657.63,339.25 L657.96,339.25 L658.28,339.25 L658.60,339.25 L658.92,339.25 L659.25,339.25 L659.57,339.25 L659.89,339.25 L660.22,339.25 L660.54,339.25 L660.86,339.25 L661.18,339.25 L661.51,339.25 L661.83,339.25 L662.15,339.25 L662.47,339.25 L662.80,339.25 L663.12,339.25 L663.44,339.25 L663.77,339.25 L664.09,339.25 L664.41,339.25 L664.73,339.25 L665.06,339.25 L665.38,339.25 L665.70,339.25 L666.02,339.25 L666.35,339.25 L666.67,339.25 L666.99,339.25 L667.32,339.25 L667.64,339.25 L667.96,339.25 L668.28,339.25 L668.61,339.25 L668.93,339.25 L669.25,339.25 L669.57,339.25 L669.90,339.25 L670.22,339.25 L670.54,339.25 L670.87,339.25 L671.19,339.25 L671.51,339.25 L671.83,339.25 L672.16,339.25 L672.48,339.25 L672.80,339.25 L673.13,339.25 L673.45,339.25 L673.77,339.25 L674.09,339.25 L674.42,339.25 L674.74,339.25 L675.06,339.25 L675.38,339.25 L675.71,339.25 L676.03,339.25 L676.35,339.25 L676.68,339.25 L677.00,339.25 L677.32,339.25 L677.64,339.25 L677.97,339.25 L678.29,339.25 L678.61,339.25 L678.93,339.25 L679.26,339.25 L679.58,339.25 L679.90,339.25 L680.23,339.25 L680.55,339.25 L680.87,339.25 L681.19,339.25 L681.52,339.25 L681.84,339.25 L682.16,339.25 L682.49,339.25 L682.81,339.25 L683.13,339.25 L683.45,339.25 L683.78,339.25 L684.10,339.25 L684.42,339.25 L684.74,339.25 L685.07,339.25 L685.39,339.25 L685.71,339.25 L686.04,339.25 L686.36,339.25 L686.68,339.25 L687.00,339.25 L687.33,339.25 L687.65,339.25 L687.97,339.25 L688.29,339.25 L688.62,339.25 L688.94,339.25 L689.26,339.25 L689.59,339.25 L689.91,339.25 L690.23,339.25 L690.55,339.56 L690.88,340.37 L691.20,341.46 L691.52,342.65 L691.84,343.95 L692.17,345.58 L692.49,347.61 L692.81,350.12 L693.14,354.43 L693.46,361.02 L693.78,368.80 L694.10,376.65 L694.43,383.48 L694.75,388.18 L695.07,391.28 L695.39,394.07 L695.72,396.58 L696.04,398.85 L696.36,400.89 L696.69,402.75 L697.01,404.45 L697.33,406.02 L697.65,407.50 L697.98,408.91 L698.30,410.29 L698.62,411.66 L698.95,412.99 L699.27,414.27 L699.59,415.48 L699.91,416.61 L700.24,417.63 L700.56,418.54 L700.88,419.31 L701.20,419.94 L701.53,420.39 L701.85,420.72 L702.17,421.04 L702.50,421.34 L702.82,421.63 L703.14,421.90 L703.46,422.17 L703.79,422.41 L704.11,422.65 L704.43,422.87 L704.75,423.07 L705.08,423.26 L705.40,423.43 L705.72,423.59 L706.05,423.73 L706.37,423.85 L706.69,423.96 L707.01,424.04 L707.34,424.11 L707.66,424.16 L707.98,424.19 L708.30,424.20 L708.63,424.19 L708.95,424.17 L709.27,424.13 L709.60,424.08 L709.92,424.01 L710.24,423.93 L710.56,423.84 L710.89,423.73 L711.21,423.61 L711.53,423.48 L711.86,423.34 L712.18,423.18 L712.50,422.88 L712.82,422.35 L713.15,421.68 L713.47,420.97 L713.79,420.31 L714.11,419.78 L714.44,419.34 L714.76,418.88 L715.08,418.45 L715.41,418.08 L715.73,417.84 L716.05,417.74 L716.37,417.86 L716.70,418.18 L717.02,418.63 L717.34,419.14 L717.66,419.66 L717.99,420.12 L718.31,420.57 L718.63,421.07 L718.96,421.59 L719.28,422.11 L719.60,422.59 L719.92,423.01 L720.25,423.33 L720.57,423.52 L720.89,423.64 L721.22,423.75 L721.54,423.86 L721.86,423.96 L722.18,424.06 L722.51,424.16 L722.83,424.25 L723.15,424.34 L723.47,424.43 L723.80,424.51 L724.12,424.58 L724.44,424.66 L724.77,424.73 L725.09,424.80 L725.41,424.86 L725.73,424.92 L726.06,424.98 L726.38,425.03 L726.70,425.08 L727.02,425.13 L727.35,425.18 L727.67,425.22 L727.99,425.26 L728.32,425.29 L728.64,425.33 L728.96,425.36 L729.28,425.39 L729.61,425.42 L729.93,425.44 L730.25,425.47 L730.57,425.49 L730.90,425.50 L731.22,425.52 L731.54,425.54 L731.87,425.55 L732.19,425.56 L732.51,425.57 L732.83,425.58 L733.16,425.59 L733.48,425.60 L733.80,425.61 L734.12,425.62 L734.45,425.63 L734.77,425.64 L735.09,425.65 L735.42,425.66 L735.74,425.66 L736.06,425.67 L736.38,425.68 L736.71,425.69 L737.03,425.70 L737.35,425.70 L737.68,425.71 L738.00,425.72 L738.32,425.73 L738.64,425.73 L738.97,425.74 L739.29,425.75 L739.61,425.76 L739.93,425.76 L740.26,425.77 L740.58,425.78" stroke="#000000" stroke-width="4.0" stroke-linecap="square"/>
<path d="M120.90,425.90 L120.91,425.70 L120.93,425.40 L120.96,424.91 L121.03,423.94 L121.09,422.99 L121.16,422.07 L121.22,421.18 L121.55,417.40 L121.87,414.48 L122.19,412.04 L122.51,410.27 L122.84,408.98 L123.16,407.89 L123.48,407.05 L123.80,406.53 L124.13,406.21 L124.45,405.95 L124.77,405.74 L125.10,405.59 L125.42,405.51 L125.74,405.47 L126.06,405.44 L126.39,405.41 L126.71,405.39 L127.03,405.37 L127.36,405.36 L127.68,405.34 L128.00,405.33 L128.32,405.32 L128.65,405.31 L128.97,405.30 L129.29,405.28 L129.61,405.26 L129.94,405.24 L130.26,405.21 L130.58,405.17 L130.91,405.12 L131.23,405.05 L131.55,404.96 L131.87,404.84 L132.20,404.68 L132.52,404.49 L132.84,404.06 L133.16,403.32 L133.49,402.45 L133.81,401.47 L134.13,400.29 L134.46,398.91 L134.78,397.36 L135.10,395.46 L135.42,393.18 L135.75,390.72 L136.07,388.16 L136.39,385.38 L136.71,382.41 L137.04,379.21 L137.36,375.80 L137.68,372.21 L138.01,368.18 L138.33,363.78 L138.65,359.61 L138.97,356.24 L139.30,353.58 L139.62,351.22 L139.94,349.25 L140.27,347.75 L140.59,346.55 L140.91,345.45 L141.23,344.45 L141.56,343.55 L141.88,342.78 L142.20,342.13 L142.52,341.63 L142.85,341.29 L143.17,341.03 L143.49,340.79 L143.82,340.56 L144.14,340.35 L144.46,340.15 L144.78,339.97 L145.11,339.81 L145.43,339.67 L145.75,339.54 L146.07,339.44 L146.40,339.36 L146.72,339.30 L147.04,339.26 L147.37,339.25 L147.69,339.25 L148.01,339.25 L148.33,339.25 L148.66,339.25 L148.98,339.25 L149.30,339.25 L149.62,339.25 L149.95,339.25 L150.27,339.25 L150.59,339.25 L150.92,339.25 L151.24,339.25 L151.56,339.25 L151.88,339.25 L152.21,339.25 L152.53,339.25 L152.85,339.25 L153.18,339.25 L153.50,339.25 L153.82,339.25 L154.14,339.25 L154.47,339.25 L154.79,339.25 L155.11,339.25 L155.43,339.25 L155.76,339.25 L156.08,339.25 L156.40,339.25 L156.73,339.25 L157.05,339.25 L157.37,339.25 L157.69,339.25 L158.02,339.25 L158.34,339.25 L158.66,339.25 L158.98,339.25 L159.31,339.25 L159.63,339.25 L159.95,339.25 L160.28,339.25 L160.60,339.25 L160.92,339.25 L161.24,339.25 L161.57,339.25 L161.89,339.25 L162.21,339.25 L162.53,339.25 L162.86,339.25 L163.18,339.25 L163.50,339.25 L163.83,339.25 L164.15,339.25 L164.47,339.25 L164.79,339.25 L165.12,339.25 L165.44,339.25 L165.76,339.25 L166.09,339.25 L166.41,339.25 L166.73,339.25 L167.05,339.25 L167.38,339.25 L167.70,339.25 L168.02,339.25 L168.34,339.25 L168.67,339.25 L168.99,339.25 L169.31,339.25 L169.64,339.25 L169.96,339.25 L170.28,339.25 L170.60,339.25 L170.93,339.25 L171.25,339.25 L171.57,339.25 L171.89,339.25 L172.22,339.25 L172.54,339.25 L172.86,339.25 L173.19,339.25 L173.51,339.25 L173.83,339.25 L174.15,339.25 L174.48,339.25 L174.80,339.25 L175.12,339.25 L175.44,339.25 L175.77,339.25 L176.09,339.25 L176.41,339.25 L176.74,339.25 L177.06,339.25 L177.38,339.25 L177.70,339.25 L178.03,339.25 L178.35,339.25 L178.67,339.25 L179.00,339.25 L179.32,339.25 L179.64,339.25 L179.96,339.25 L180.29,339.25 L180.61,339.25 L180.93,339.25 L181.25,339.25 L181.58,339.25 L181.90,339.25 L182.22,339.25 L182.55,339.25 L182.87,339.25 L183.19,339.25 L183.51,339.25 L183.84,339.25 L184.16,339.25 L184.48,339.25 L184.80,339.25 L185.13,339.25 L185.45,339.25 L185.77,339.25 L186.10,339.25 L186.42,339.25 L186.74,339.25 L187.06,339.25 L187.39,339.25 L187.71,339.25 L188.03,339.25 L188.35,339.25 L188.68,339.25 L189.00,339.25 L189.32,339.25 L189.65,339.25 L189.97,339.25 L190.29,339.25 L190.61,339.25 L190.94,339.25 L191.26,339.25 L191.58,339.25 L191.91,339.25 L192.23,339.25 L192.55,339.25 L192.87,339.25 L193.20,339.25 L193.52,339.25 L193.84,339.25 L194.16,339.25 L194.49,339.25 L194.81,339.25 L195.13,339.25 L195.46,339.25 L195.78,339.25 L196.10,339.25 L196.42,339.25 L196.75,339.25 L197.07,339.25 L197.39,339.25 L197.71,339.25 L198.04,339.25 L198.36,339.25 L198.68,339.25 L199.01,339.25 L199.33,339.25 L199.65,339.25 L199.97,339.25 L200.30,339.25 L200.62,339.25 L200.94,339.25 L201.26,339.25 L201.59,339.25 L201.91,339.25 L202.23,339.25 L202.56,339.25 L202.88,339.25 L203.20,339.25 L203.52,339.25 L203.85,339.25 L204.17,339.25 L204.49,339.25 L204.81,339.25 L205.14,339.25 L205.46,339.25 L205.78,339.25 L206.11,339.25 L206.43,339.25 L206.75,339.25 L207.07,339.25 L207.40,339.25 L207.72,339.25 L208.04,339.25 L208.37,339.25 L208.69,339.25 L209.01,339.25 L209.33,339.25 L209.66,339.25 L209.98,339.25 L210.30,339.25 L210.62,339.25 L210.95,339.25 L211.27,339.25 L211.59,339.25 L211.92,339.25 L212.24,339.25 L212.56,339.25 L212.88,339.25 L213.21,339.25 L213.53,339.25 L213.85,339.25 L214.17,339.25 L214.50,339.25 L214.82,339.25 L215.14,339.25 L215.47,339.25 L215.79,339.25 L216.11,339.25 L216.43,339.25 L216.76,339.25 L217.08,339.25 L217.40,339.25 L217.73,339.25 L218.05,339.25 L218.37,339.25 L218.69,339.25 L219.02,339.25 L219.34,339.25 L219.66,339.25 L219.98,339.25 L220.31,339.25 L220.63,339.25 L220.95,339.25 L221.28,339.25 L221.60,339.25 L221.92,339.25 L222.24,339.25 L222.57,339.25 L222.89,339.25 L223.21,339.25 L223.53,339.25 L223.86,339.25 L224.18,339.25 L224.50,339.25 L224.83,339.25 L225.15,339.25 L225.47,339.25 L225.79,339.56 L226.12,340.37 L226.44,341.46 L226.76,342.65 L227.08,343.95 L227.41,345.58 L227.73,347.61 L228.05,350.12 L228.38,354.43 L228.70,361.02 L229.02,368.80 L229.34,376.65 L229.67,383.48 L229.99,388.18 L230.31,391.28 L230.63,394.06 L230.96,396.57 L231.28,398.82 L231.60,400.86 L231.93,402.71 L232.25,404.41 L232.57,405.99 L232.89,407.48 L233.22,408.91 L233.54,410.31 L233.86,411.67 L234.19,412.99 L234.51,414.25 L234.83,415.45 L235.15,416.57 L235.48,417.61 L235.80,418.55 L236.12,419.38 L236.44,420.10 L236.77,420.70 L237.09,421.20 L237.41,421.66 L237.74,422.09 L238.06,422.49 L238.38,422.86 L238.70,423.20 L239.03,423.50 L239.35,423.77 L239.67,424.01 L239.99,424.21 L240.32,424.37 L240.64,424.51 L240.96,424.65 L241.29,424.77 L241.61,424.89 L241.93,425.00 L242.25,425.11 L242.58,425.20 L242.90,425.29 L243.22,425.37 L243.55,425.44 L243.87,425.50 L244.19,425.55 L244.51,425.59 L244.84,425.63 L245.16,425.66 L245.48,425.68 L245.80,425.71 L246.13,425.74 L246.45,425.76 L246.77,425.78 L247.10,425.80 L247.42,425.82 L247.74,425.84 L248.06,425.85 L248.39,425.87 L248.71,425.88 L249.03,425.89 L249.35,425.89 L249.68,425.90 L250.00,425.90 L250.32,425.90 L250.65,425.90 L250.97,425.90 L251.29,425.90 L251.61,425.90 L251.94,425.90 L252.26,425.90 L252.58,425.90 L252.90,425.90 L253.23,425.90 L253.55,425.90 L253.87,425.90 L254.20,425.90 L254.52,425.90 L254.84,425.90 L255.16,425.90 L255.49,425.90 L255.81,425.90 L256.13,425.90 L256.46,425.90 L256.78,425.90 L257.10,425.90 L257.42,425.90 L257.75,425.90 L258.07,425.90 L258.39,425.90 L258.71,425.90 L259.04,425.90 L259.36,425.90 L259.68,425.90 L260.01,425.90 L260.33,425.90 L260.65,425.90 L260.97,425.90 L261.30,425.90 L261.62,425.90 L261.94,425.90 L262.26,425.90 L262.59,425.90 L262.91,425.90 L263.23,425.90 L263.56,425.90 L263.88,425.90 L264.20,425.90 L264.52,425.90 L264.85,425.90 L265.17,425.90 L265.49,425.90 L265.81,425.90 L266.14,425.90 L266.46,425.90 L266.78,425.90 L267.11,425.90 L267.43,425.90 L267.75,425.90 L268.07,425.90 L268.40,425.90 L268.72,425.90 L269.04,425.90 L269.37,425.90 L269.69,425.90 L270.01,425.90 L270.33,425.90 L270.66,425.90 L270.98,425.90 L271.30,425.90 L271.62,425.90 L271.95,425.90 L272.27,425.90 L272.59,425.90 L272.92,425.90 L273.24,425.90 L273.56,425.90 L273.88,425.90 L274.21,425.90 L274.53,425.90 L274.85,425.90 L275.17,425.90 L275.50,425.90 L275.82,425.90 L276.14,425.90 L276.47,425.90 L276.79,425.90 L277.11,425.90 L277.43,425.90 L277.76,425.90 L278.08,425.90 L278.40,425.90 L278.72,425.90 L279.05,425.90 L279.37,425.90 L279.69,425.90 L280.02,425.90 L280.34,425.90 L280.66,425.90 L280.98,425.90 L281.31,425.90 L281.63,425.90 L281.95,425.90 L282.28,425.90 L282.60,425.90 L282.92,425.90 L283.24,425.90 L283.57,425.90 L283.89,425.90 L284.21,425.90 L284.53,425.90 L284.86,425.90 L285.18,425.90 L285.50,425.90 L285.83,425.90 L286.15,425.90 L286.47,425.90 L286.79,425.90 L287.12,425.90 L287.44,425.90 L287.76,425.90 L288.08,425.90 L288.41,425.90 L288.73,425.90 L289.05,425.90 L289.38,425.90 L289.70,425.90 L290.02,425.90 L290.34,425.90 L290.67,425.90 L290.99,425.90 L291.31,425.90 L291.63,425.90 L291.96,425.90 L292.28,425.90 L292.60,425.90 L292.93,425.90 L293.25,425.90 L293.57,425.90 L293.89,425.90 L294.22,425.90 L294.54,425.90 L294.86,425.90 L295.19,425.90 L295.51,425.90 L295.83,425.90 L296.15,425.90 L296.48,425.90 L296.80,425.90 L297.12,425.90 L297.44,425.90 L297.77,425.90 L298.09,425.90 L298.41,425.90 L298.74,425.90 L299.06,425.90 L299.38,425.90 L299.70,425.90 L300.03,425.90 L300.35,425.90 L300.67,425.90 L300.99,425.90 L301.32,425.90 L301.64,425.90 L301.96,425.90 L302.29,425.90 L302.61,425.90 L302.93,425.90 L303.25,425.90 L303.58,425.90 L303.90,425.90 L304.22,425.90 L304.54,425.90 L304.87,425.90 L305.19,425.90 L305.51,425.90 L305.84,425.90 L306.16,425.90 L306.48,425.90 L306.80,425.90 L307.13,425.90 L307.45,425.90 L307.77,425.90 L308.10,425.90 L308.42,425.90 L308.74,425.90 L309.06,425.90 L309.39,425.90 L309.71,425.90 L310.03,425.90 L310.35,425.90 L310.68,425.90 L311.00,425.90 L311.32,425.90 L311.65,425.90 L311.97,425.90 L312.29,425.90 L312.61,425.90 L312.94,425.90 L313.26,425.90 L313.58,425.90 L313.90,425.90 L314.23,425.90 L314.55,425.90 L314.87,425.90 L315.20,425.90 L315.52,425.90 L315.84,425.90 L316.16,425.90 L316.49,425.90 L316.81,425.90 L317.13,425.90 L317.45,425.90 L317.78,425.90 L318.10,425.90 L318.42,425.90 L318.75,425.90 L319.07,425.90 L319.39,425.90 L319.71,425.90 L320.04,425.90 L320.36,425.90 L320.68,425.90 L321.00,425.90 L321.33,425.90 L321.65,425.90 L321.97,425.90 L322.30,425.90 L322.62,425.90 L322.94,425.90 L323.26,425.90 L323.59,425.90 L323.91,425.90 L324.23,425.90 L324.56,425.90 L324.88,425.90 L325.20,425.90 L325.52,425.90 L325.85,425.90 L326.17,425.90 L326.49,425.90 L326.81,425.90 L327.14,425.90 L327.46,425.90 L327.78,425.90 L328.11,425.90 L328.43,425.90 L328.75,425.90 L329.07,425.90 L329.40,425.90 L329.72,425.90 L330.04,425.90 L330.36,425.90 L330.69,425.90 L331.01,425.90 L331.33,425.90 L331.66,425.90 L331.98,425.90 L332.30,425.90 L332.62,425.90 L332.95,425.90 L333.27,425.90 L333.59,425.90 L333.92,425.90 L334.24,425.90 L334.56,425.90 L334.88,425.90 L335.21,425.90 L335.53,425.90 L335.85,425.90 L336.17,425.90 L336.50,425.90 L336.82,425.90 L337.14,425.90 L337.47,425.90 L337.79,425.90 L338.11,425.90 L338.43,425.90 L338.76,425.90 L339.08,425.90 L339.40,425.90 L339.72,425.90 L340.05,425.90 L340.37,425.90 L340.69,425.90 L341.02,425.90 L341.34,425.90 L341.66,425.90 L341.98,425.90 L342.31,425.90 L342.63,425.90 L342.95,425.90 L343.27,425.90 L343.60,425.90 L343.92,425.90 L344.24,425.90 L344.57,425.90 L344.89,425.90 L345.21,425.90 L345.53,425.90 L345.86,425.90 L346.18,425.90 L346.50,425.90 L346.83,425.90 L347.15,425.90 L347.47,425.90 L347.79,425.90 L348.12,425.90 L348.44,425.90 L348.76,425.90 L349.08,425.90 L349.41,425.90 L349.73,425.90 L350.05,425.90 L350.38,425.90 L350.70,425.90 L351.02,425.90 L351.34,425.90 L351.67,425.90 L351.99,425.90 L352.31,425.90 L352.63,425.90 L352.96,425.90 L353.28,425.90 L353.60,425.90 L353.93,425.90 L354.25,425.90 L354.57,425.90 L354.89,425.90 L355.22,425.90 L355.54,425.90 L355.86,425.90 L356.18,425.90 L356.51,425.90 L356.83,425.90 L357.15,425.90 L357.48,425.90 L357.80,425.90 L358.12,425.90 L358.44,425.90 L358.77,425.90 L359.09,425.90 L359.41,425.90 L359.74,425.90 L360.06,425.90 L360.38,425.90 L360.70,425.90 L361.03,425.90 L361.35,425.90 L361.67,425.90 L361.99,425.90 L362.32,425.90 L362.64,425.90 L362.96,425.90 L363.29,425.90 L363.61,425.90 L363.93,425.90 L364.25,425.90 L364.58,425.90 L364.90,425.90 L365.22,425.90 L365.54,425.90 L365.87,425.90 L366.19,425.90 L366.51,425.90 L366.84,425.90 L367.16,425.90 L367.48,425.90 L367.80,425.90 L368.13,425.90 L368.45,425.90 L368.77,425.90 L369.09,425.90 L369.42,425.90 L369.74,425.90 L370.06,425.90 L370.39,425.90 L370.71,425.90 L371.03,425.90 L371.35,425.90 L371.68,425.90 L372.00,425.90 L372.32,425.90 L372.64,425.90 L372.97,425.90 L373.29,425.90 L373.61,425.90 L373.94,425.90 L374.26,425.90 L374.58,425.90 L374.90,425.90 L375.23,425.90 L375.55,425.90 L375.87,425.90 L376.20,425.90 L376.52,425.90 L376.84,425.90 L377.16,425.90 L377.49,425.90 L377.81,425.90 L378.13,425.90 L378.45,425.90 L378.78,425.90 L379.10,425.90 L379.42,425.90 L379.75,425.90 L380.07,425.90 L380.39,425.90" stroke="#000000" stroke-width="4.0" stroke-dasharray="14.43 6.24" stroke-dashoffset="0.00" stroke-linecap="butt"/>
<path d="M380.39,425.90 L380.71,425.78 L381.04,425.43 L381.36,424.90 L381.68,424.21 L382.00,423.40 L382.33,422.50 L382.65,421.19 L382.97,419.21 L383.30,416.68 L383.62,413.75 L383.94,410.55 L384.26,407.21 L384.59,403.24 L384.91,398.34 L385.23,392.92 L385.56,387.43 L385.88,382.27 L386.20,377.85 L386.52,374.01 L386.85,370.45 L387.17,367.12 L387.49,363.92 L387.81,360.78 L388.14,357.61 L388.46,354.34 L388.78,350.89 L389.11,347.17 L389.43,343.04 L389.75,338.48 L390.07,333.78 L390.40,329.22 L390.72,325.05 L391.04,321.04 L391.36,317.21 L391.69,313.70 L392.01,310.54 L392.33,307.52 L392.66,304.70 L392.98,302.13 L393.30,299.92 L393.62,298.07 L393.95,296.34 L394.27,294.70 L394.59,293.17 L394.91,291.75 L395.24,290.46 L395.56,289.29 L395.88,288.26 L396.21,287.38 L396.53,286.64 L396.85,285.92 L397.17,285.23 L397.50,284.56 L397.82,283.95 L398.14,283.40 L398.47,282.93 L398.79,282.56 L399.11,282.31 L399.43,282.18 L399.76,282.19 L400.08,282.36 L400.40,282.66 L400.72,283.08 L401.05,283.62 L401.37,284.25 L401.69,284.96 L402.02,285.74 L402.34,286.58 L402.66,287.57 L402.98,289.16 L403.31,291.24 L403.63,293.63 L403.95,296.18 L404.27,298.72 L404.60,301.09 L404.92,303.28 L405.24,305.50 L405.57,307.73 L405.89,309.96 L406.21,312.16 L406.53,314.30 L406.86,316.37 L407.18,318.35 L407.50,320.34 L407.82,322.28 L408.15,324.13 L408.47,325.84 L408.79,327.36 L409.12,328.73 L409.44,330.03 L409.76,331.24" stroke="#000000" stroke-width="4.0" stroke-dasharray="14.43 6.24" stroke-dashoffset="9.59" stroke-linecap="butt"/>
<path d="M409.76,331.24 L410.08,332.34 L410.41,333.32 L410.73,334.15 L411.05,334.89 L411.38,335.59 L411.70,336.22 L412.02,336.77 L412.34,337.22 L412.67,337.55 L412.99,337.81 L413.31,338.03 L413.63,338.23 L413.96,338.41 L414.28,338.55 L414.60,338.66 L414.93,338.74 L415.25,338.80 L415.57,338.86 L415.89,338.91 L416.22,338.96 L416.54,339.01 L416.86,339.05 L417.18,339.09 L417.51,339.13 L417.83,339.16 L418.15,339.19 L418.48,339.21 L418.80,339.23 L419.12,339.24 L419.44,339.25 L419.77,339.25 L420.09,339.25 L420.41,339.25 L420.73,339.25 L421.06,339.25 L421.38,339.25 L421.70,339.25 L422.03,339.25 L422.35,339.25 L422.67,339.25 L422.99,339.25 L423.32,339.25 L423.64,339.25 L423.96,339.25 L424.28,339.25 L424.61,339.25 L424.93,339.25 L425.25,339.25 L425.58,339.25 L425.90,339.25 L426.22,339.25 L426.54,339.25 L426.87,339.25 L427.19,339.25 L427.51,339.25 L427.84,339.25 L428.16,339.25 L428.48,339.25 L428.80,339.25 L429.13,339.25 L429.45,339.25 L429.77,339.25 L430.09,339.25 L430.42,339.25 L430.74,339.25 L431.06,339.25 L431.39,339.25 L431.71,339.25 L432.03,339.25 L432.35,339.25 L432.68,339.25 L433.00,339.25 L433.32,339.25 L433.64,339.25 L433.97,339.25 L434.29,339.25 L434.61,339.25 L434.94,339.25 L435.26,339.25 L435.58,339.25 L435.90,339.25 L436.23,339.25 L436.55,339.25 L436.87,339.25 L437.20,339.25 L437.52,339.25 L437.84,339.25 L438.16,339.25 L438.49,339.25 L438.81,339.25 L439.13,339.25 L439.45,339.25 L439.78,339.25 L440.10,339.25 L440.42,339.25 L440.75,339.25 L441.07,339.25 L441.39,339.25 L441.71,339.25 L442.04,339.25 L442.36,339.25 L442.68,339.25 L443.00,339.25 L443.33,339.25 L443.65,339.25 L443.97,339.25 L444.30,339.25 L444.62,339.25 L444.94,339.25 L445.26,339.25 L445.59,339.25 L445.91,339.25 L446.23,339.25 L446.55,339.25 L446.88,339.25 L447.20,339.25 L447.52,339.25 L447.85,339.25 L448.17,339.25 L448.49,339.25 L448.81,339.25 L449.14,339.25 L449.46,339.25 L449.78,339.25 L450.11,339.25 L450.43,339.25 L450.75,339.25 L451.07,339.25 L451.40,339.25 L451.72,339.25 L452.04,339.25 L452.36,339.25 L452.69,339.25 L453.01,339.25 L453.33,339.25 L453.66,339.25 L453.98,339.25 L454.30,339.25 L454.62,339.25 L454.95,339.25 L455.27,339.25 L455.59,339.25 L455.91,339.25 L456.24,339.25 L456.56,339.25 L456.88,339.25 L457.21,339.25 L457.53,339.25 L457.85,339.25 L458.17,339.25 L458.50,339.25 L458.82,339.25 L459.14,339.25 L459.46,339.25 L459.79,339.25 L460.11,339.25 L460.43,339.25 L460.76,339.25 L461.08,339.25 L461.40,339.25 L461.72,339.25 L462.05,339.25 L462.37,339.25 L462.69,339.25 L463.01,339.25 L463.34,339.25 L463.66,339.25 L463.98,339.25 L464.31,339.25 L464.63,339.25 L464.95,339.25 L465.27,339.25 L465.60,339.25 L465.92,339.25 L466.24,339.25 L466.57,339.25 L466.89,339.25 L467.21,339.25 L467.53,339.25 L467.86,339.25 L468.18,339.25 L468.50,339.25 L468.82,339.25 L469.15,339.25 L469.47,339.25 L469.79,339.25 L470.12,339.25 L470.44,339.25 L470.76,339.25 L471.08,339.25 L471.41,339.25 L471.73,339.25 L472.05,339.25 L472.37,339.25 L472.70,339.25 L473.02,339.25 L473.34,339.25 L473.67,339.25 L473.99,339.25 L474.31,339.25 L474.63,339.25 L474.96,339.25 L475.28,339.25 L475.60,339.25 L475.92,339.25 L476.25,339.25 L476.57,339.25 L476.89,339.25 L477.22,339.25 L477.54,339.25 L477.86,339.25 L478.18,339.25 L478.51,339.25 L478.83,339.25 L479.15,339.25 L479.48,339.25 L479.80,339.25 L480.12,339.25 L480.44,339.25 L480.77,339.25 L481.09,339.25 L481.41,339.25 L481.73,339.25 L482.06,339.25 L482.38,339.25 L482.70,339.25 L483.03,339.25 L483.35,339.25 L483.67,339.25 L483.99,339.25 L484.32,339.25 L484.64,339.25 L484.96,339.25 L485.28,339.25 L485.61,339.25 L485.93,339.25 L486.25,339.25 L486.58,339.25 L486.90,339.25 L487.22,339.25 L487.54,339.25 L487.87,339.25 L488.19,339.25 L488.51,339.25 L488.84,339.25 L489.16,339.25 L489.48,339.25 L489.80,339.25 L490.13,339.25 L490.45,339.25 L490.77,339.25 L491.09,339.25 L491.42,339.25 L491.74,339.25 L492.06,339.25 L492.39,339.25 L492.71,339.25 L493.03,339.25 L493.35,339.25 L493.68,339.25 L494.00,339.25 L494.32,339.25 L494.64,339.25 L494.97,339.25 L495.29,339.25 L495.61,339.25 L495.94,339.25 L496.26,339.25 L496.58,339.25 L496.90,339.25 L497.23,339.25 L497.55,339.25 L497.87,339.25 L498.19,339.25 L498.52,339.25 L498.84,339.25 L499.16,339.25 L499.49,339.25 L499.81,339.25 L500.13,339.25 L500.45,339.25 L500.78,339.25 L501.10,339.25 L501.42,339.25 L501.75,339.25 L502.07,339.25 L502.39,339.25 L502.71,339.25 L503.04,339.25 L503.36,339.25 L503.68,339.25 L504.00,339.25 L504.33,339.25 L504.65,339.25 L504.97,339.25 L505.30,339.25 L505.62,339.25 L505.94,339.25 L506.26,339.25 L506.59,339.25 L506.91,339.25 L507.23,339.25 L507.55,339.25 L507.88,339.25 L508.20,339.25 L508.52,339.25 L508.85,339.25 L509.17,339.25 L509.49,339.25 L509.81,339.25 L510.14,339.25 L510.46,339.25 L510.78,339.25 L511.10,339.25 L511.43,339.25 L511.75,339.25 L512.07,339.25 L512.40,339.25 L512.72,339.25 L513.04,339.25 L513.36,339.25 L513.69,339.25 L514.01,339.25 L514.33,339.25 L514.65,339.25 L514.98,339.25 L515.30,339.25 L515.62,339.25 L515.95,339.25 L516.27,339.25 L516.59,339.25 L516.91,339.25 L517.24,339.25 L517.56,339.25 L517.88,339.25 L518.21,339.25 L518.53,339.25 L518.85,339.25 L519.17,339.25 L519.50,339.25 L519.82,339.25 L520.14,339.25 L520.46,339.25 L520.79,339.25 L521.11,339.25 L521.43,339.25 L521.76,339.25 L522.08,339.25 L522.40,339.25 L522.72,339.25 L523.05,339.25 L523.37,339.25 L523.69,339.25 L524.01,339.25 L524.34,339.25 L524.66,339.25 L524.98,339.25 L525.31,339.25 L525.63,339.25 L525.95,339.25 L526.27,339.25 L526.60,339.25 L526.92,339.25 L527.24,339.25 L527.57,339.25 L527.89,339.25 L528.21,339.25 L528.53,339.25 L528.86,339.25 L529.18,339.25 L529.50,339.25 L529.82,339.25 L530.15,339.25 L530.47,339.25 L530.79,339.25 L531.12,339.25 L531.44,339.25 L531.76,339.25 L532.08,339.25 L532.41,339.25 L532.73,339.25 L533.05,339.25 L533.37,339.25 L533.70,339.25 L534.02,339.25 L534.34,339.25 L534.67,339.25 L534.99,339.25 L535.31,339.25 L535.63,339.56 L535.96,340.37 L536.28,341.46 L536.60,342.65 L536.92,343.95 L537.25,345.58 L537.57,347.61 L537.89,350.12 L538.22,354.43 L538.54,361.02 L538.86,368.80 L539.18,376.65 L539.51,383.48 L539.83,388.18 L540.15,391.28 L540.48,394.06 L540.80,396.57 L541.12,398.82 L541.44,400.86 L541.77,402.71 L542.09,404.41 L542.41,405.99 L542.73,407.48 L543.06,408.91 L543.38,410.31 L543.70,411.67 L544.03,412.99 L544.35,414.25 L544.67,415.45 L544.99,416.57 L545.32,417.61 L545.64,418.55 L545.96,419.38 L546.28,420.10 L546.61,420.70 L546.93,421.20 L547.25,421.66 L547.58,422.09 L547.90,422.49 L548.22,422.86 L548.54,423.20 L548.87,423.50 L549.19,423.77 L549.51,424.01 L549.83,424.21 L550.16,424.37" stroke="#000000" stroke-width="4.0" stroke-dasharray="14.43 6.24" stroke-dashoffset="1.40" stroke-linecap="butt"/>
<path d="M550.16,424.37 L550.48,424.51 L550.80,424.65 L551.13,424.77 L551.45,424.89 L551.77,425.00 L552.09,425.11 L552.42,425.20 L552.74,425.29 L553.06,425.37 L553.38,425.44 L553.71,425.50 L554.03,425.55 L554.35,425.59 L554.68,425.63 L555.00,425.66 L555.32,425.68 L555.64,425.71 L555.97,425.74 L556.29,425.76 L556.61,425.78 L556.94,425.80 L557.26,425.82 L557.58,425.84 L557.90,425.85 L558.23,425.87 L558.55,425.88 L558.87,425.89 L559.19,425.89 L559.52,425.90 L559.84,425.90 L560.16,425.90 L560.49,425.90 L560.81,425.90 L561.13,425.90 L561.45,425.90 L561.78,425.90 L562.10,425.90 L562.42,425.90 L562.74,425.90 L563.07,425.90 L563.39,425.90 L563.71,425.90 L564.04,425.90 L564.36,425.90 L564.68,425.90 L565.00,425.90 L565.33,425.90 L565.65,425.90 L565.97,425.90 L566.29,425.90 L566.62,425.90 L566.94,425.90 L567.26,425.90 L567.59,425.90 L567.91,425.90 L568.23,425.90 L568.55,425.90 L568.88,425.90 L569.20,425.90 L569.52,425.90 L569.85,425.90 L570.17,425.90 L570.49,425.90 L570.81,425.90 L571.14,425.90 L571.46,425.90 L571.78,425.90 L572.10,425.90 L572.43,425.90 L572.75,425.90 L573.07,425.90 L573.40,425.90 L573.72,425.90 L574.04,425.90 L574.36,425.90 L574.69,425.90 L575.01,425.90 L575.33,425.90 L575.65,425.90 L575.98,425.90 L576.30,425.90 L576.62,425.90 L576.95,425.90 L577.27,425.90 L577.59,425.90 L577.91,425.90 L578.24,425.90 L578.56,425.90 L578.88,425.90 L579.21,425.90 L579.53,425.90 L579.85,425.90 L580.17,425.90 L580.50,425.90 L580.82,425.90 L581.14,425.90 L581.46,425.90 L581.79,425.90 L582.11,425.90 L582.43,425.90 L582.76,425.90 L583.08,425.90 L583.40,425.90 L583.72,425.90 L584.05,425.90 L584.37,425.90 L584.69,425.90 L585.01,425.90 L585.34,425.90 L585.66,425.90 L585.98,425.90 L586.31,425.90 L586.63,425.90 L586.95,425.90 L587.27,425.90 L587.60,425.90 L587.92,425.90 L588.24,425.90 L588.56,425.90 L588.89,425.90 L589.21,425.90 L589.53,425.90 L589.86,425.90 L590.18,425.90 L590.50,425.90 L590.82,425.90 L591.15,425.90 L591.47,425.90 L591.79,425.90 L592.12,425.90 L592.44,425.90 L592.76,425.90 L593.08,425.90 L593.41,425.90 L593.73,425.90 L594.05,425.90 L594.37,425.90 L594.70,425.90 L595.02,425.90 L595.34,425.90 L595.67,425.90 L595.99,425.90 L596.31,425.90 L596.63,425.90 L596.96,425.90 L597.28,425.90 L597.60,425.90 L597.92,425.90 L598.25,425.90 L598.57,425.90 L598.89,425.90 L599.22,425.90 L599.54,425.90 L599.86,425.90 L600.18,425.90 L600.51,425.90 L600.83,425.90 L601.15,425.90 L601.47,425.90 L601.80,425.90 L602.12,425.90 L602.44,425.90 L602.77,425.90 L603.09,425.90 L603.41,425.90 L603.73,425.90 L604.06,425.90 L604.38,425.90 L604.70,425.90 L605.02,425.90 L605.35,425.90 L605.67,425.90 L605.99,425.90 L606.32,425.90 L606.64,425.90 L606.96,425.90 L607.28,425.90 L607.61,425.90 L607.93,425.90 L608.25,425.90 L608.58,425.90 L608.90,425.90 L609.22,425.90 L609.54,425.90 L609.87,425.90 L610.19,425.90 L610.51,425.90 L610.83,425.90 L611.16,425.90 L611.48,425.90 L611.80,425.90 L612.13,425.90 L612.45,425.90 L612.77,425.90 L613.09,425.90 L613.42,425.90 L613.74,425.90 L614.06,425.90 L614.38,425.90 L614.71,425.90 L615.03,425.90 L615.35,425.90 L615.68,425.90 L616.00,425.90 L616.32,425.90 L616.64,425.90 L616.97,425.90 L617.29,425.90 L617.61,425.90 L617.94,425.90 L618.26,425.90 L618.58,425.90 L618.90,425.90 L619.23,425.90 L619.55,425.90 L619.87,425.90 L620.19,425.90 L620.52,425.90 L620.84,425.90 L621.16,425.90 L621.49,425.90 L621.81,425.90 L622.13,425.90 L622.45,425.90 L622.78,425.90 L623.10,425.90 L623.42,425.90 L623.74,425.90 L624.07,425.90 L624.39,425.90 L624.71,425.90 L625.04,425.90 L625.36,425.90 L625.68,425.90 L626.00,425.90 L626.33,425.90 L626.65,425.90 L626.97,425.90 L627.29,425.90 L627.62,425.90 L627.94,425.90 L628.26,425.90 L628.59,425.90 L628.91,425.90 L629.23,425.90 L629.55,425.90 L629.88,425.90 L630.20,425.90 L630.52,425.90 L630.85,425.90 L631.17,425.90 L631.49,425.90 L631.81,425.90 L632.14,425.90 L632.46,425.90 L632.78,425.90 L633.10,425.90 L633.43,425.90 L633.75,425.90 L634.07,425.90 L634.40,425.90 L634.72,425.90 L635.04,425.90 L635.36,425.90 L635.69,425.90 L636.01,425.90 L636.33,425.90 L636.65,425.90 L636.98,425.90 L637.30,425.90 L637.62,425.90 L637.95,425.90 L638.27,425.90 L638.59,425.90 L638.91,425.90 L639.24,425.90 L639.56,425.90 L639.88,425.90 L640.20,425.90 L640.53,425.90 L640.85,425.90 L641.17,425.90 L641.50,425.90 L641.82,425.90 L642.14,425.90 L642.46,425.90 L642.79,425.90 L643.11,425.90 L643.43,425.90 L643.75,425.90 L644.08,425.90 L644.40,425.90 L644.72,425.90 L645.05,425.90 L645.37,425.90 L645.69,425.90 L646.01,425.90 L646.34,425.90 L646.66,425.90 L646.98,425.90 L647.31,425.90 L647.63,425.90 L647.95,425.90 L648.27,425.90 L648.60,425.90 L648.92,425.90 L649.24,425.90 L649.56,425.90 L649.89,425.90 L650.21,425.90 L650.53,425.90 L650.86,425.90 L651.18,425.90 L651.50,425.90 L651.82,425.90 L652.15,425.90 L652.47,425.90 L652.79,425.90 L653.11,425.90 L653.44,425.90 L653.76,425.90 L654.08,425.90 L654.41,425.90 L654.73,425.90 L655.05,425.90 L655.37,425.90 L655.70,425.90 L656.02,425.90 L656.34,425.90 L656.66,425.90 L656.99,425.90 L657.31,425.90 L657.63,425.90 L657.96,425.90 L658.28,425.90 L658.60,425.90 L658.92,425.90 L659.25,425.90 L659.57,425.90 L659.89,425.90 L660.22,425.90 L660.54,425.90 L660.86,425.90 L661.18,425.90 L661.51,425.90 L661.83,425.90 L662.15,425.90 L662.47,425.90 L662.80,425.90 L663.12,425.90 L663.44,425.90 L663.77,425.90 L664.09,425.90 L664.41,425.90 L664.73,425.90 L665.06,425.90 L665.38,425.90 L665.70,425.90 L666.02,425.90 L666.35,425.90 L666.67,425.90 L666.99,425.90 L667.32,425.90 L667.64,425.90 L667.96,425.90 L668.28,425.90 L668.61,425.90 L668.93,425.90 L669.25,425.90 L669.57,425.90 L669.90,425.90 L670.22,425.90 L670.54,425.90 L670.87,425.90 L671.19,425.90 L671.51,425.90 L671.83,425.90 L672.16,425.90 L672.48,425.90 L672.80,425.90 L673.13,425.90 L673.45,425.90 L673.77,425.90 L674.09,425.90 L674.42,425.90 L674.74,425.90 L675.06,425.90 L675.38,425.90 L675.71,425.90 L676.03,425.90 L676.35,425.90 L676.68,425.90 L677.00,425.90 L677.32,425.90 L677.64,425.90 L677.97,425.90 L678.29,425.90 L678.61,425.90 L678.93,425.90 L679.26,425.90 L679.58,425.90 L679.90,425.90 L680.23,425.90 L680.55,425.90 L680.87,425.90 L681.19,425.90 L681.52,425.90 L681.84,425.90 L682.16,425.90 L682.49,425.90 L682.81,425.90 L683.13,425.90 L683.45,425.90 L683.78,425.90 L684.10,425.90 L684.42,425.90 L684.74,425.90 L685.07,425.90 L685.39,425.90 L685.71,425.90 L686.04,425.90 L686.36,425.90 L686.68,425.90 L687.00,425.90 L687.33,425.90 L687.65,425.90 L687.97,425.90 L688.29,425.90 L688.62,425.90 L688.94,425.90 L689.26,425.90 L689.59,425.90 L689.91,425.90 L690.23,425.90 L690.55,425.78 L690.88,425.43 L691.20,424.90 L691.52,424.21 L691.84,423.40 L692.17,422.50 L692.49,421.19 L692.81,419.21" stroke="#000000" stroke-width="4.0" stroke-dasharray="14.43 6.24" stroke-dashoffset="14.11" stroke-linecap="butt"/>
<path d="M692.81,419.21 L693.14,416.68 L693.46,413.75 L693.78,410.55 L694.10,407.21 L694.43,403.24 L694.75,398.34 L695.07,392.92 L695.39,387.43 L695.72,382.27 L696.04,377.85 L696.36,374.01 L696.69,370.45 L697.01,367.12 L697.33,363.92 L697.65,360.78 L697.98,357.61 L698.30,354.34 L698.62,350.89 L698.95,347.17 L699.27,343.04 L699.59,338.48 L699.91,333.78 L700.24,329.22 L700.56,325.05 L700.88,321.04 L701.20,317.21 L701.53,313.70 L701.85,310.54 L702.17,307.52 L702.50,304.70 L702.82,302.13 L703.14,299.92 L703.46,298.07 L703.79,296.34 L704.11,294.70 L704.43,293.17 L704.75,291.75 L705.08,290.46 L705.40,289.29 L705.72,288.26 L706.05,287.38 L706.37,286.64 L706.69,285.92 L707.01,285.23 L707.34,284.56 L707.66,283.95 L707.98,283.40 L708.30,282.93 L708.63,282.56 L708.95,282.31 L709.27,282.18 L709.60,282.19 L709.92,282.36 L710.24,282.66 L710.56,283.08 L710.89,283.62 L711.21,284.25 L711.53,284.96 L711.86,285.74 L712.18,286.58 L712.50,287.57 L712.82,289.16 L713.15,291.24 L713.47,293.63 L713.79,296.18 L714.11,298.72 L714.44,301.09 L714.76,303.28 L715.08,305.50 L715.41,307.73 L715.73,309.96 L716.05,312.16 L716.37,314.30 L716.70,316.37 L717.02,318.35 L717.34,320.34 L717.66,322.28 L717.99,324.13 L718.31,325.84 L718.63,327.36 L718.96,328.73 L719.28,330.03 L719.60,331.24 L719.92,332.34" stroke="#000000" stroke-width="4.0" stroke-dasharray="14.43 6.24" stroke-dashoffset="15.18" stroke-linecap="butt"/>
<path d="M719.92,332.34 L720.25,333.32 L720.57,334.15 L720.89,334.89 L721.22,335.59 L721.54,336.22 L721.86,336.77 L722.18,337.22 L722.51,337.55 L722.83,337.81 L723.15,338.03 L723.47,338.23 L723.80,338.41 L724.12,338.55 L724.44,338.66 L724.77,338.74 L725.09,338.80 L725.41,338.86 L725.73,338.91 L726.06,338.96 L726.38,339.01 L726.70,339.05 L727.02,339.09 L727.35,339.13 L727.67,339.16 L727.99,339.19 L728.32,339.21 L728.64,339.23 L728.96,339.24 L729.28,339.25 L729.61,339.25 L729.93,339.25 L730.25,339.25 L730.57,339.25 L730.90,339.25 L731.22,339.25 L731.54,339.25 L731.87,339.25 L732.19,339.25 L732.51,339.25 L732.83,339.25 L733.16,339.25 L733.48,339.25 L733.80,339.25 L734.12,339.25 L734.45,339.25 L734.77,339.25 L735.09,339.25 L735.42,339.25 L735.74,339.25 L736.06,339.25 L736.38,339.25 L736.71,339.25 L737.03,339.25 L737.35,339.25 L737.68,339.25 L738.00,339.25 L738.32,339.25 L738.64,339.25 L738.97,339.25 L739.29,339.25 L739.61,339.25 L739.93,339.25 L740.26,339.25 L740.58,339.25" stroke="#000000" stroke-width="4.0" stroke-dasharray="14.43 6.24" stroke-dashoffset="19.92" stroke-linecap="butt"/>
<path d="M120.90,86.10 L120.91,88.17 L120.93,90.35 L120.96,90.88 L121.03,91.83 L121.09,92.66 L121.16,93.37 L121.22,93.98 L121.55,95.83 L121.87,96.80 L122.19,98.33 L122.51,100.69 L122.84,103.17 L123.16,105.83 L123.48,108.71 L123.80,111.88 L124.13,115.56 L124.45,119.64 L124.77,123.94 L125.10,128.28 L125.42,132.49 L125.74,136.39 L126.06,139.92 L126.39,143.22 L126.71,146.43 L127.03,149.69 L127.36,153.13 L127.68,156.88 L128.00,160.98 L128.32,165.35 L128.65,169.94 L128.97,174.67 L129.29,179.50 L129.61,184.35 L129.94,189.17 L130.26,193.89 L130.58,198.46 L130.91,203.00 L131.23,207.57 L131.55,212.16 L131.87,216.73 L132.20,221.25 L132.52,225.72 L132.84,230.09 L133.16,234.35 L133.49,238.46 L133.81,242.41 L134.13,246.14 L134.46,249.66 L134.78,253.02 L135.10,256.27 L135.42,259.48 L135.75,262.68 L136.07,265.93 L136.39,269.28 L136.71,272.80 L137.04,276.53 L137.36,280.55 L137.68,284.97 L138.01,289.70 L138.33,294.63 L138.65,299.63 L138.97,304.59 L139.30,309.40 L139.62,313.94 L139.94,318.09 L140.27,321.86 L140.59,325.45 L140.91,328.88 L141.23,332.18 L141.56,335.35 L141.88,338.43 L142.20,341.42 L142.52,344.35 L142.85,347.25 L143.17,350.14 L143.49,353.02 L143.82,355.86 L144.14,358.65 L144.46,361.38 L144.78,364.04 L145.11,366.61 L145.43,369.07 L145.75,371.42 L146.07,373.64 L146.40,375.72 L146.72,377.65 L147.04,379.46 L147.37,381.22 L147.69,382.92 L148.01,384.56 L148.33,386.15 L148.66,387.68 L148.98,389.15 L149.30,390.57 L149.62,391.93 L149.95,393.23 L150.27,394.48 L150.59,395.68 L150.92,396.81 L151.24,397.89 L151.56,398.92 L151.88,399.92 L152.21,400.90 L152.53,401.86 L152.85,402.81 L153.18,403.73 L153.50,404.62 L153.82,405.49 L154.14,406.32 L154.47,407.12 L154.79,407.88 L155.11,408.61 L155.43,409.29 L155.76,409.93 L156.08,410.51 L156.40,411.05 L156.73,411.54 L157.05,411.97 L157.37,412.36 L157.69,412.75 L158.02,413.12 L158.34,413.48 L158.66,413.83 L158.98,414.17 L159.31,414.50 L159.63,414.82 L159.95,415.13 L160.28,415.43 L160.60,415.72 L160.92,416.00 L161.24,416.27 L161.57,416.53 L161.89,416.78 L162.21,417.03 L162.53,417.26 L162.86,417.49 L163.18,417.71 L163.50,417.92 L163.83,418.12 L164.15,418.31 L164.47,418.50 L164.79,418.68 L165.12,418.85 L165.44,419.02 L165.76,419.18 L166.09,419.33 L166.41,419.47 L166.73,419.61 L167.05,419.75 L167.38,419.88 L167.70,420.01 L168.02,420.14 L168.34,420.27 L168.67,420.39 L168.99,420.52 L169.31,420.64 L169.64,420.75 L169.96,420.87 L170.28,420.98 L170.60,421.09 L170.93,421.20 L171.25,421.31 L171.57,421.41 L171.89,421.52 L172.22,421.62 L172.54,421.71 L172.86,421.81 L173.19,421.90 L173.51,421.99 L173.83,422.08 L174.15,422.17 L174.48,422.25 L174.80,422.34 L175.12,422.42 L175.44,422.49 L175.77,422.57 L176.09,422.64 L176.41,422.71 L176.74,422.78 L177.06,422.85 L177.38,422.91 L177.70,422.97 L178.03,423.03 L178.35,423.09 L178.67,423.15 L179.00,423.20 L179.32,423.25 L179.64,423.30 L179.96,423.34 L180.29,423.39 L180.61,423.43 L180.93,423.47 L181.25,423.51 L181.58,423.55 L181.90,423.59 L182.22,423.64 L182.55,423.68 L182.87,423.72 L183.19,423.76 L183.51,423.80 L183.84,423.84 L184.16,423.88 L184.48,423.91 L184.80,423.95 L185.13,423.99 L185.45,424.03 L185.77,424.06 L186.10,424.10 L186.42,424.14 L186.74,424.17 L187.06,424.21 L187.39,424.24 L187.71,424.27 L188.03,424.31 L188.35,424.34 L188.68,424.37 L189.00,424.40 L189.32,424.43 L189.65,424.46 L189.97,424.49 L190.29,424.51 L190.61,424.54 L190.94,424.57 L191.26,424.59 L191.58,424.62 L191.91,424.64 L192.23,424.66 L192.55,424.68 L192.87,424.70 L193.20,424.72 L193.52,424.74 L193.84,424.76 L194.16,424.77 L194.49,424.79 L194.81,424.80 L195.13,424.82 L195.46,424.83 L195.78,424.84 L196.10,424.85 L196.42,424.86 L196.75,424.86 L197.07,424.87 L197.39,424.87 L197.71,424.88 L198.04,424.88 L198.36,424.88 L198.68,424.90 L199.01,424.92 L199.33,424.94 L199.65,424.97 L199.97,424.99 L200.30,425.01 L200.62,425.03 L200.94,425.05 L201.26,425.07 L201.59,425.09 L201.91,425.11 L202.23,425.13 L202.56,425.15 L202.88,425.16 L203.20,425.18 L203.52,425.20 L203.85,425.22 L204.17,425.24 L204.49,425.26 L204.81,425.27 L205.14,425.29 L205.46,425.31 L205.78,425.33 L206.11,425.34 L206.43,425.36 L206.75,425.37 L207.07,425.39 L207.40,425.40 L207.72,425.42 L208.04,425.43 L208.37,425.45 L208.69,425.46 L209.01,425.48 L209.33,425.49 L209.66,425.50 L209.98,425.51 L210.30,425.53 L210.62,425.54 L210.95,425.55 L211.27,425.56 L211.59,425.57 L211.92,425.58 L212.24,425.59 L212.56,425.60 L212.88,425.61 L213.21,425.63 L213.53,425.64 L213.85,425.65 L214.17,425.66 L214.50,425.67 L214.82,425.68 L215.14,425.69 L215.47,425.70 L215.79,425.71 L216.11,425.72 L216.43,425.73 L216.76,425.74 L217.08,425.75 L217.40,425.76 L217.73,425.77 L218.05,425.78 L218.37,425.79 L218.69,425.80 L219.02,425.81 L219.34,425.81 L219.66,425.82 L219.98,425.83 L220.31,425.84 L220.63,425.84 L220.95,425.85 L221.28,425.86 L221.60,425.86 L221.92,425.87 L222.24,425.87 L222.57,425.88 L222.89,425.88 L223.21,425.89 L223.53,425.89 L223.86,425.89 L224.18,425.90 L224.50,425.90 L224.83,425.90 L225.15,425.90 L225.47,425.90 L225.79,425.75 L226.12,425.34 L226.44,424.76 L226.76,424.10 L227.08,423.43 L227.41,422.84 L227.73,422.24 L228.05,421.54 L228.38,420.84 L228.70,420.22 L229.02,419.78 L229.34,419.61 L229.67,419.64 L229.99,419.70 L230.31,419.79 L230.63,419.91 L230.96,420.05 L231.28,420.20 L231.60,420.36 L231.93,420.52 L232.25,420.67 L232.57,420.80 L232.89,420.93 L233.22,421.07 L233.54,421.22 L233.86,421.37 L234.19,421.53 L234.51,421.68 L234.83,421.83 L235.15,421.98 L235.48,422.12 L235.80,422.26 L236.12,422.38 L236.44,422.49 L236.77,422.59 L237.09,422.67 L237.41,422.74 L237.74,422.81 L238.06,422.88 L238.38,422.95 L238.70,423.02 L239.03,423.08 L239.35,423.14 L239.67,423.19 L239.99,423.24 L240.32,423.27 L240.64,423.31 L240.96,423.33 L241.29,423.35 L241.61,423.35 L241.93,423.35 L242.25,423.34 L242.58,423.32 L242.90,423.30 L243.22,423.27 L243.55,423.23 L243.87,423.18 L244.19,423.13 L244.51,423.07 L244.84,423.00 L245.16,422.92 L245.48,422.84 L245.80,422.67 L246.13,422.34 L246.45,421.87 L246.77,421.29 L247.10,420.60 L247.42,419.82 L247.74,418.66 L248.06,417.04 L248.39,415.00 L248.71,412.63 L249.03,409.98 L249.35,406.60 L249.68,401.94 L250.00,396.77 L250.32,391.92 L250.65,387.53 L250.97,383.26 L251.29,379.25 L251.61,375.43 L251.94,371.75 L252.26,368.16 L252.58,364.67 L252.90,361.23 L253.23,357.85 L253.55,354.49 L253.87,351.14 L254.20,347.71 L254.52,344.18 L254.84,340.66 L255.16,337.25 L255.49,334.06 L255.81,331.18 L256.13,328.72 L256.46,326.63 L256.78,324.75 L257.10,323.05 L257.42,321.48 L257.75,319.98 L258.07,318.50 L258.39,317.01 L258.71,315.45 L259.04,313.77 L259.36,311.91 L259.68,309.95 L260.01,308.01 L260.33,306.20 L260.65,304.64 L260.97,303.26 L261.30,301.95 L261.62,300.72 L261.94,299.56 L262.26,298.44 L262.59,297.37 L262.91,296.33 L263.23,295.32 L263.56,294.32 L263.88,293.32 L264.20,292.37 L264.52,291.46 L264.85,290.58 L265.17,289.74 L265.49,288.91 L265.81,288.10 L266.14,287.29 L266.46,286.48 L266.78,285.66 L267.11,284.83 L267.43,283.96 L267.75,283.07 L268.07,282.13 L268.40,281.15 L268.72,280.14 L269.04,279.12 L269.37,278.08 L269.69,277.01 L270.01,275.89 L270.33,274.70 L270.66,273.44 L270.98,272.08 L271.30,270.61 L271.62,268.90 L271.95,266.91 L272.27,264.75 L272.59,262.55 L272.92,260.42 L273.24,258.49 L273.56,256.67 L273.88,254.74 L274.21,252.50 L274.53,249.67 L274.85,245.82 L275.17,241.16 L275.50,236.05 L275.82,230.83 L276.14,225.78 L276.47,220.50 L276.79,214.95 L277.11,209.22 L277.43,203.41 L277.76,197.63 L278.08,191.98 L278.40,186.57 L278.72,181.48 L279.05,176.83 L279.37,172.60 L279.69,168.68 L280.02,164.98 L280.34,161.42 L280.66,157.91 L280.98,154.39 L281.31,150.75 L281.63,146.92 L281.95,142.77 L282.28,138.37 L282.60,133.97 L282.92,129.83 L283.24,126.20 L283.57,122.98 L283.89,119.93 L284.21,117.02 L284.53,114.23 L284.86,111.57 L285.18,109.00 L285.50,106.53 L285.83,104.13 L286.15,101.80 L286.47,99.51 L286.79,97.26 L287.12,95.04 L287.44,92.82 L287.76,90.62 L288.08,88.44 L288.41,86.27 L288.73,84.14 L289.05,82.04 L289.38,79.99 L289.70,77.98 L290.02,76.03 L290.34,74.14 L290.67,72.32 L290.99,70.57 L291.31,68.90 L291.63,67.31 L291.96,65.82 L292.28,64.42 L292.60,63.08 L292.93,61.78 L293.25,60.51 L293.57,59.28 L293.89,58.08 L294.22,56.92 L294.54,55.79 L294.86,54.69 L295.19,53.62 L295.51,52.59 L295.83,51.59 L296.15,50.62 L296.48,49.68 L296.80,48.77 L297.12,47.89 L297.44,47.04 L297.77,46.21 L298.09,45.41 L298.41,44.64 L298.74,43.89 L299.06,43.15 L299.38,42.41 L299.70,41.69 L300.03,40.97 L300.35,40.27 L300.67,39.58 L300.99,38.91 L301.32,38.25 L301.64,37.61 L301.96,36.98 L302.29,36.37 L302.61,35.78 L302.93,35.21 L303.25,34.66 L303.58,34.14 L303.90,33.63 L304.22,33.15 L304.54,32.69 L304.87,32.26 L305.19,31.85 L305.51,31.47 L305.84,31.12 L306.16,30.79 L306.48,30.47 L306.80,30.15 L307.13,29.85 L307.45,29.55 L307.77,29.26 L308.10,28.97 L308.42,28.70 L308.74,28.43 L309.06,28.17 L309.39,27.91 L309.71,27.67 L310.03,27.43 L310.35,27.20 L310.68,26.98 L311.00,26.77 L311.32,26.56 L311.65,26.36 L311.97,26.17 L312.29,25.99 L312.61,25.81 L312.94,25.65 L313.26,25.49 L313.58,25.34 L313.90,25.20 L314.23,25.06 L314.55,24.94 L314.87,24.81 L315.20,24.69 L315.52,24.58 L315.84,24.46 L316.16,24.35 L316.49,24.24 L316.81,24.13 L317.13,24.02 L317.45,23.91 L317.78,23.81 L318.10,23.71 L318.42,23.61 L318.75,23.51 L319.07,23.42 L319.39,23.32 L319.71,23.23 L320.04,23.15 L320.36,23.06 L320.68,22.98 L321.00,22.90 L321.33,22.82 L321.65,22.74 L321.97,22.67 L322.30,22.60 L322.62,22.53 L322.94,22.46 L323.26,22.40 L323.59,22.34 L323.91,22.28 L324.23,22.22 L324.56,22.17 L324.88,22.12 L325.20,22.07 L325.52,22.03 L325.85,21.99 L326.17,21.95 L326.49,21.91 L326.81,21.88 L327.14,21.85 L327.46,21.81 L327.78,21.78 L328.11,21.75 L328.43,21.72 L328.75,21.69 L329.07,21.66 L329.40,21.63 L329.72,21.60 L330.04,21.58 L330.36,21.55 L330.69,21.52 L331.01,21.49 L331.33,21.46 L331.66,21.44 L331.98,21.41 L332.30,21.39 L332.62,21.36 L332.95,21.33 L333.27,21.31 L333.59,21.29 L333.92,21.26 L334.24,21.24 L334.56,21.22 L334.88,21.20 L335.21,21.17 L335.53,21.15 L335.85,21.13 L336.17,21.11 L336.50,21.10 L336.82,21.08 L337.14,21.06 L337.47,21.04 L337.79,21.03 L338.11,21.01 L338.43,21.00 L338.76,20.98 L339.08,20.97 L339.40,20.96 L339.72,20.94 L340.05,20.93 L340.37,20.92 L340.69,20.91 L341.02,20.90 L341.34,20.89 L341.66,20.89 L341.98,20.88 L342.31,20.87 L342.63,20.87 L342.95,20.87 L343.27,20.86 L343.60,20.86 L343.92,20.86 L344.24,20.86 L344.57,20.86 L344.89,20.86 L345.21,20.86 L345.53,20.86 L345.86,20.86 L346.18,20.86 L346.50,20.86 L346.83,20.86 L347.15,20.86 L347.47,20.86 L347.79,20.86 L348.12,20.86 L348.44,20.86 L348.76,20.86 L349.08,20.86 L349.41,20.86 L349.73,20.86 L350.05,20.86 L350.38,20.86 L350.70,20.86 L351.02,20.86 L351.34,20.86 L351.67,20.86 L351.99,20.86 L352.31,20.86 L352.63,20.86 L352.96,20.86 L353.28,20.86 L353.60,20.86 L353.93,20.86 L354.25,20.86 L354.57,20.86 L354.89,20.86 L355.22,20.86 L355.54,20.86 L355.86,20.86 L356.18,20.86 L356.51,20.86 L356.83,20.86 L357.15,20.86 L357.48,20.86 L357.80,20.86 L358.12,20.86 L358.44,20.86 L358.77,20.86 L359.09,20.86 L359.41,20.86 L359.74,20.86 L360.06,20.86 L360.38,20.86 L360.70,20.86 L361.03,20.86 L361.35,20.86 L361.67,20.86 L361.99,20.86 L362.32,20.86 L362.64,20.86 L362.96,20.86 L363.29,20.86 L363.61,20.86 L363.93,20.86 L364.25,20.86 L364.58,20.86 L364.90,20.86 L365.22,20.86 L365.54,20.86 L365.87,20.86 L366.19,20.86 L366.51,20.86 L366.84,20.86 L367.16,20.86 L367.48,20.86 L367.80,20.86 L368.13,20.86 L368.45,20.86 L368.77,20.86 L369.09,20.86 L369.42,20.86 L369.74,20.86 L370.06,20.86 L370.39,20.86 L370.71,20.86 L371.03,20.86 L371.35,20.86 L371.68,20.86 L372.00,20.86 L372.32,20.86 L372.64,20.86 L372.97,20.86 L373.29,20.86 L373.61,20.86 L373.94,20.86 L374.26,20.86 L374.58,20.86 L374.90,20.87 L375.23,20.91 L375.55,20.98 L375.87,21.07 L376.20,21.19 L376.52,21.33 L376.84,21.49 L377.16,21.68 L377.49,21.89 L377.81,22.12 L378.13,22.37 L378.45,22.65 L378.78,22.94 L379.10,23.25 L379.42,23.58 L379.75,24.05 L380.07,24.76 L380.39,25.70 L380.71,26.85 L381.04,28.17 L381.36,29.65 L381.68,31.26 L382.00,32.98 L382.33,34.79 L382.65,37.00 L382.97,39.83 L383.30,43.15 L383.62,46.82 L383.94,50.71 L384.26,54.68 L384.59,58.59 L384.91,62.31 L385.23,66.00 L385.56,69.85 L385.88,73.81 L386.20,77.82 L386.52,81.83 L386.85,85.77 L387.17,89.58 L387.49,93.22 L387.81,96.60 L388.14,99.69 L388.46,102.56 L388.78,105.32 L389.11,107.97 L389.43,110.53 L389.75,112.99 L390.07,115.36 L390.40,117.64 L390.72,119.82 L391.04,121.92 L391.36,123.93 L391.69,125.86 L392.01,127.71 L392.33,129.50 L392.66,131.23 L392.98,132.91 L393.30,134.53 L393.62,136.09 L393.95,137.61 L394.27,139.08 L394.59,140.50 L394.91,141.89 L395.24,143.23 L395.56,144.55 L395.88,145.81 L396.21,147.02 L396.53,148.19 L396.85,149.32 L397.17,150.42 L397.50,151.49 L397.82,152.55 L398.14,153.60 L398.47,154.65 L398.79,155.71 L399.11,156.78 L399.43,157.77 L399.76,158.63 L400.08,159.41 L400.40,160.16 L400.72,160.95 L401.05,161.82 L401.37,162.84 L401.69,164.05 L402.02,165.53 L402.34,167.31 L402.66,170.69 L402.98,176.19 L403.31,182.78 L403.63,189.40 L403.95,196.27 L404.27,203.94 L404.60,211.87 L404.92,219.55 L405.24,226.44 L405.57,232.57 L405.89,238.35 L406.21,243.83 L406.53,249.02 L406.86,253.96 L407.18,258.67 L407.50,263.15 L407.82,267.45 L408.15,271.60 L408.47,275.64 L408.79,279.61 L409.12,283.53 L409.44,287.46 L409.76,291.42 L410.08,295.46 L410.41,299.61 L410.73,303.91 L411.05,308.50 L411.38,313.40 L411.70,318.51 L412.02,323.71 L412.34,328.87 L412.67,333.89 L412.99,338.64 L413.31,343.00 L413.63,346.87 L413.96,350.12 L414.28,352.93 L414.60,355.56 L414.93,358.01 L415.25,360.31 L415.57,362.46 L415.89,364.49 L416.22,366.41 L416.54,368.23 L416.86,369.96 L417.18,371.62 L417.51,373.23 L417.83,374.78 L418.15,376.27 L418.48,377.70 L418.80,379.08 L419.12,380.41 L419.44,381.69 L419.77,382.93 L420.09,384.14 L420.41,385.31 L420.73,386.46 L421.06,387.58 L421.38,388.68 L421.70,389.77 L422.03,390.85 L422.35,391.92 L422.67,392.99 L422.99,394.05 L423.32,395.11 L423.64,396.16 L423.96,397.19 L424.28,398.21 L424.61,399.21 L424.93,400.18 L425.25,401.14 L425.58,402.06 L425.90,402.96 L426.22,403.82 L426.54,404.64 L426.87,405.43 L427.19,406.17 L427.51,406.87 L427.84,407.54 L428.16,408.19 L428.48,408.82 L428.80,409.43 L429.13,410.02 L429.45,410.59 L429.77,411.13 L430.09,411.66 L430.42,412.17 L430.74,412.65 L431.06,413.11 L431.39,413.55 L431.71,413.96 L432.03,414.35 L432.35,414.72 L432.68,415.09 L433.00,415.46 L433.32,415.82 L433.64,416.18 L433.97,416.54 L434.29,416.89 L434.61,417.23 L434.94,417.57 L435.26,417.90 L435.58,418.23 L435.90,418.54 L436.23,418.85 L436.55,419.16 L436.87,419.45 L437.20,419.73 L437.52,420.01 L437.84,420.27 L438.16,420.53 L438.49,420.77 L438.81,421.00 L439.13,421.22 L439.45,421.43 L439.78,421.62 L440.10,421.81 L440.42,421.97 L440.75,422.13 L441.07,422.27 L441.39,422.39 L441.71,422.50 L442.04,422.60 L442.36,422.70 L442.68,422.80 L443.00,422.89 L443.33,422.99 L443.65,423.08 L443.97,423.17 L444.30,423.26 L444.62,423.34 L444.94,423.43 L445.26,423.51 L445.59,423.59 L445.91,423.67 L446.23,423.75 L446.55,423.82 L446.88,423.89 L447.20,423.97 L447.52,424.03 L447.85,424.10 L448.17,424.17 L448.49,424.23 L448.81,424.29 L449.14,424.35 L449.46,424.41 L449.78,424.47 L450.11,424.52 L450.43,424.58 L450.75,424.63 L451.07,424.68 L451.40,424.72 L451.72,424.77 L452.04,424.81 L452.36,424.85 L452.69,424.89 L453.01,424.93 L453.33,424.97 L453.66,425.00 L453.98,425.03 L454.30,425.06 L454.62,425.09 L454.95,425.12 L455.27,425.14 L455.59,425.16 L455.91,425.18 L456.24,425.20 L456.56,425.22 L456.88,425.24 L457.21,425.25 L457.53,425.27 L457.85,425.28 L458.17,425.30 L458.50,425.31 L458.82,425.33 L459.14,425.34 L459.46,425.36 L459.79,425.37 L460.11,425.39 L460.43,425.40 L460.76,425.41 L461.08,425.43 L461.40,425.44 L461.72,425.45 L462.05,425.47 L462.37,425.48 L462.69,425.49 L463.01,425.51 L463.34,425.52 L463.66,425.53 L463.98,425.54 L464.31,425.55 L464.63,425.57 L464.95,425.58 L465.27,425.59 L465.60,425.60 L465.92,425.61 L466.24,425.62 L466.57,425.63 L466.89,425.64 L467.21,425.65 L467.53,425.66 L467.86,425.67 L468.18,425.68 L468.50,425.69 L468.82,425.70 L469.15,425.71 L469.47,425.72 L469.79,425.73 L470.12,425.74 L470.44,425.74 L470.76,425.75 L471.08,425.76 L471.41,425.77 L471.73,425.78 L472.05,425.78 L472.37,425.79 L472.70,425.80 L473.02,425.80 L473.34,425.81 L473.67,425.82 L473.99,425.82 L474.31,425.83 L474.63,425.83 L474.96,425.84 L475.28,425.84 L475.60,425.85 L475.92,425.85 L476.25,425.86 L476.57,425.86 L476.89,425.87 L477.22,425.87 L477.54,425.87 L477.86,425.88 L478.18,425.88 L478.51,425.88 L478.83,425.89 L479.15,425.89 L479.48,425.89 L479.80,425.89 L480.12,425.89 L480.44,425.90 L480.77,425.90 L481.09,425.90 L481.41,425.90 L481.73,425.90 L482.06,425.90 L482.38,425.90 L482.70,425.90 L483.03,425.90 L483.35,425.90 L483.67,425.90 L483.99,425.90 L484.32,425.90 L484.64,425.90 L484.96,425.90 L485.28,425.90 L485.61,425.90 L485.93,425.90 L486.25,425.90 L486.58,425.90 L486.90,425.90 L487.22,425.90 L487.54,425.90 L487.87,425.90 L488.19,425.90 L488.51,425.90 L488.84,425.90 L489.16,425.90 L489.48,425.90 L489.80,425.90 L490.13,425.90 L490.45,425.90 L490.77,425.90 L491.09,425.90 L491.42,425.90 L491.74,425.90 L492.06,425.90 L492.39,425.90 L492.71,425.90 L493.03,425.90 L493.35,425.90 L493.68,425.90 L494.00,425.90 L494.32,425.90 L494.64,425.90 L494.97,425.90 L495.29,425.90 L495.61,425.90 L495.94,425.90 L496.26,425.90 L496.58,425.90 L496.90,425.90 L497.23,425.90 L497.55,425.90 L497.87,425.90 L498.19,425.90 L498.52,425.90 L498.84,425.90 L499.16,425.90 L499.49,425.90 L499.81,425.90 L500.13,425.90 L500.45,425.90 L500.78,425.90 L501.10,425.90 L501.42,425.90 L501.75,425.90 L502.07,425.90 L502.39,425.90 L502.71,425.90 L503.04,425.90 L503.36,425.90 L503.68,425.90 L504.00,425.90 L504.33,425.90 L504.65,425.90 L504.97,425.90 L505.30,425.90 L505.62,425.90 L505.94,425.90 L506.26,425.90 L506.59,425.90 L506.91,425.90 L507.23,425.90 L507.55,425.90 L507.88,425.90 L508.20,424.88 L508.52,424.90 L508.85,424.92 L509.17,424.94 L509.49,424.97 L509.81,424.99 L510.14,425.01 L510.46,425.03 L510.78,425.05 L511.10,425.07 L511.43,425.09 L511.75,425.11 L512.07,425.13 L512.40,425.15 L512.72,425.16 L513.04,425.18 L513.36,425.20 L513.69,425.22 L514.01,425.24 L514.33,425.26 L514.65,425.27 L514.98,425.29 L515.30,425.31 L515.62,425.33 L515.95,425.34 L516.27,425.36 L516.59,425.37 L516.91,425.39 L517.24,425.40 L517.56,425.42 L517.88,425.43 L518.21,425.45 L518.53,425.46 L518.85,425.48 L519.17,425.49 L519.50,425.50 L519.82,425.51 L520.14,425.53 L520.46,425.54 L520.79,425.55 L521.11,425.56 L521.43,425.57 L521.76,425.58 L522.08,425.59 L522.40,425.60 L522.72,425.61 L523.05,425.63 L523.37,425.64 L523.69,425.65 L524.01,425.66 L524.34,425.67 L524.66,425.68 L524.98,425.69 L525.31,425.70 L525.63,425.71 L525.95,425.72 L526.27,425.73 L526.60,425.74 L526.92,425.75 L527.24,425.76 L527.57,425.77 L527.89,425.78 L528.21,425.79 L528.53,425.80 L528.86,425.81 L529.18,425.81 L529.50,425.82 L529.82,425.83 L530.15,425.84 L530.47,425.84 L530.79,425.85 L531.12,425.86 L531.44,425.86 L531.76,425.87 L532.08,425.87 L532.41,425.88 L532.73,425.88 L533.05,425.89 L533.37,425.89 L533.70,425.89 L534.02,425.90 L534.34,425.90 L534.67,425.90 L534.99,425.90 L535.31,425.90 L535.63,425.75 L535.96,425.34 L536.28,424.76 L536.60,424.10 L536.92,423.43 L537.25,422.84 L537.57,422.24 L537.89,421.54 L538.22,420.84 L538.54,420.22 L538.86,419.78 L539.18,419.61 L539.51,419.64 L539.83,419.70 L540.15,419.79 L540.48,419.91 L540.80,420.05 L541.12,420.20 L541.44,420.36 L541.77,420.52 L542.09,420.67 L542.41,420.80 L542.73,420.93 L543.06,421.07 L543.38,421.22 L543.70,421.37 L544.03,421.53 L544.35,421.68 L544.67,421.83 L544.99,421.98 L545.32,422.12 L545.64,422.26 L545.96,422.38 L546.28,422.49 L546.61,422.59 L546.93,422.67 L547.25,422.74 L547.58,422.81 L547.90,422.88 L548.22,422.95 L548.54,423.02 L548.87,423.08 L549.19,423.14 L549.51,423.19 L549.83,423.24 L550.16,423.27 L550.48,423.31 L550.80,423.33 L551.13,423.35 L551.45,423.35 L551.77,423.35 L552.09,423.34 L552.42,423.32 L552.74,423.30 L553.06,423.27 L553.38,423.23 L553.71,423.18 L554.03,423.13 L554.35,423.07 L554.68,423.00 L555.00,422.92 L555.32,422.84 L555.64,422.67 L555.97,422.34 L556.29,421.87 L556.61,421.29 L556.94,420.60 L557.26,419.82 L557.58,418.66 L557.90,417.04 L558.23,415.00 L558.55,412.63 L558.87,409.98 L559.19,406.60 L559.52,401.94 L559.84,396.77 L560.16,391.92 L560.49,387.53 L560.81,383.26 L561.13,379.25 L561.45,375.43 L561.78,371.75 L562.10,368.16 L562.42,364.67 L562.74,361.23 L563.07,357.85 L563.39,354.49 L563.71,351.14 L564.04,347.71 L564.36,344.18 L564.68,340.66 L565.00,337.25 L565.33,334.06 L565.65,331.18 L565.97,328.72 L566.29,326.63 L566.62,324.75 L566.94,323.05 L567.26,321.48 L567.59,319.98 L567.91,318.50 L568.23,317.01 L568.55,315.45 L568.88,313.77 L569.20,311.91 L569.52,309.95 L569.85,308.01 L570.17,306.20 L570.49,304.64 L570.81,303.26 L571.14,301.95 L571.46,300.72 L571.78,299.56 L572.10,298.44 L572.43,297.37 L572.75,296.33 L573.07,295.32 L573.40,294.32 L573.72,293.32 L574.04,292.37 L574.36,291.46 L574.69,290.58 L575.01,289.74 L575.33,288.91 L575.65,288.10 L575.98,287.29 L576.30,286.48 L576.62,285.66 L576.95,284.83 L577.27,283.96 L577.59,283.07 L577.91,282.13 L578.24,281.15 L578.56,280.14 L578.88,279.12 L579.21,278.08 L579.53,277.01 L579.85,275.89 L580.17,274.70 L580.50,273.44 L580.82,272.08 L581.14,270.61 L581.46,268.90 L581.79,266.91 L582.11,264.75 L582.43,262.55 L582.76,260.42 L583.08,258.49 L583.40,256.67 L583.72,254.74 L584.05,252.50 L584.37,249.67 L584.69,245.82 L585.01,241.16 L585.34,236.05 L585.66,230.83 L585.98,225.78 L586.31,220.50 L586.63,214.95 L586.95,209.22 L587.27,203.41 L587.60,197.63 L587.92,191.98 L588.24,186.57 L588.56,181.48 L588.89,176.83 L589.21,172.60 L589.53,168.68 L589.86,164.98 L590.18,161.42 L590.50,157.91 L590.82,154.39 L591.15,150.75 L591.47,146.92 L591.79,142.77 L592.12,138.37 L592.44,133.97 L592.76,129.83 L593.08,126.20 L593.41,122.98 L593.73,119.93 L594.05,117.02 L594.37,114.23 L594.70,111.57 L595.02,109.00 L595.34,106.53 L595.67,104.13 L595.99,101.80 L596.31,99.51 L596.63,97.26 L596.96,95.04 L597.28,92.82 L597.60,90.62 L597.92,88.44 L598.25,86.27 L598.57,84.14 L598.89,82.04 L599.22,79.99 L599.54,77.98 L599.86,76.03 L600.18,74.14 L600.51,72.32 L600.83,70.57 L601.15,68.90 L601.47,67.31 L601.80,65.82 L602.12,64.42 L602.44,63.08 L602.77,61.78 L603.09,60.51 L603.41,59.28 L603.73,58.08 L604.06,56.92 L604.38,55.79 L604.70,54.69 L605.02,53.62 L605.35,52.59 L605.67,51.59 L605.99,50.62 L606.32,49.68 L606.64,48.77 L606.96,47.89 L607.28,47.04 L607.61,46.21 L607.93,45.41 L608.25,44.64 L608.58,43.89 L608.90,43.15 L609.22,42.41 L609.54,41.69 L609.87,40.97 L610.19,40.27 L610.51,39.58 L610.83,38.91 L611.16,38.25 L611.48,37.61 L611.80,36.98 L612.13,36.37 L612.45,35.78 L612.77,35.21 L613.09,34.66 L613.42,34.14 L613.74,33.63 L614.06,33.15 L614.38,32.69 L614.71,32.26 L615.03,31.85 L615.35,31.47 L615.68,31.12 L616.00,30.79 L616.32,30.47 L616.64,30.15 L616.97,29.85 L617.29,29.55 L617.61,29.26 L617.94,28.97 L618.26,28.70 L618.58,28.43 L618.90,28.17 L619.23,27.91 L619.55,27.67 L619.87,27.43 L620.19,27.20 L620.52,26.98 L620.84,26.77 L621.16,26.56 L621.49,26.36 L621.81,26.17 L622.13,25.99 L622.45,25.81 L622.78,25.65 L623.10,25.49 L623.42,25.34 L623.74,25.20 L624.07,25.06 L624.39,24.94 L624.71,24.81 L625.04,24.69 L625.36,24.58 L625.68,24.46 L626.00,24.35 L626.33,24.24 L626.65,24.13 L626.97,24.02 L627.29,23.91 L627.62,23.81 L627.94,23.71 L628.26,23.61 L628.59,23.51 L628.91,23.42 L629.23,23.32 L629.55,23.23 L629.88,23.15 L630.20,23.06 L630.52,22.98 L630.85,22.90 L631.17,22.82 L631.49,22.74 L631.81,22.67 L632.14,22.60 L632.46,22.53 L632.78,22.46 L633.10,22.40 L633.43,22.34 L633.75,22.28 L634.07,22.22 L634.40,22.17 L634.72,22.12 L635.04,22.07 L635.36,22.03 L635.69,21.99 L636.01,21.95 L636.33,21.91 L636.65,21.88 L636.98,21.85 L637.30,21.81 L637.62,21.78 L637.95,21.75 L638.27,21.72 L638.59,21.69 L638.91,21.66 L639.24,21.63 L639.56,21.60 L639.88,21.58 L640.20,21.55 L640.53,21.52 L640.85,21.49 L641.17,21.46 L641.50,21.44 L641.82,21.41 L642.14,21.39 L642.46,21.36 L642.79,21.33 L643.11,21.31 L643.43,21.29 L643.75,21.26 L644.08,21.24 L644.40,21.22 L644.72,21.20 L645.05,21.17 L645.37,21.15 L645.69,21.13 L646.01,21.11 L646.34,21.10 L646.66,21.08 L646.98,21.06 L647.31,21.04 L647.63,21.03 L647.95,21.01 L648.27,21.00 L648.60,20.98 L648.92,20.97 L649.24,20.96 L649.56,20.94 L649.89,20.93 L650.21,20.92 L650.53,20.91 L650.86,20.90 L651.18,20.89 L651.50,20.89 L651.82,20.88 L652.15,20.87 L652.47,20.87 L652.79,20.87 L653.11,20.86 L653.44,20.86 L653.76,20.86 L654.08,20.86 L654.41,20.86 L654.73,20.86 L655.05,20.86 L655.37,20.86 L655.70,20.86 L656.02,20.86 L656.34,20.86 L656.66,20.86 L656.99,20.86 L657.31,20.86 L657.63,20.86 L657.96,20.86 L658.28,20.86 L658.60,20.86 L658.92,20.86 L659.25,20.86 L659.57,20.86 L659.89,20.86 L660.22,20.86 L660.54,20.86 L660.86,20.86 L661.18,20.86 L661.51,20.86 L661.83,20.86 L662.15,20.86 L662.47,20.86 L662.80,20.86 L663.12,20.86 L663.44,20.86 L663.77,20.86 L664.09,20.86 L664.41,20.86 L664.73,20.86 L665.06,20.86 L665.38,20.86 L665.70,20.86 L666.02,20.86 L666.35,20.86 L666.67,20.86 L666.99,20.86 L667.32,20.86 L667.64,20.86 L667.96,20.86 L668.28,20.86 L668.61,20.86 L668.93,20.86 L669.25,20.86 L669.57,20.86 L669.90,20.86 L670.22,20.86 L670.54,20.86 L670.87,20.86 L671.19,20.86 L671.51,20.86 L671.83,20.86 L672.16,20.86 L672.48,20.86 L672.80,20.86 L673.13,20.86 L673.45,20.86 L673.77,20.86 L674.09,20.86 L674.42,20.86 L674.74,20.86 L675.06,20.86 L675.38,20.86 L675.71,20.86 L676.03,20.86 L676.35,20.86 L676.68,20.86 L677.00,20.86 L677.32,20.86 L677.64,20.86 L677.97,20.86 L678.29,20.86 L678.61,20.86 L678.93,20.86 L679.26,20.86 L679.58,20.86 L679.90,20.86 L680.23,20.86 L680.55,20.86 L680.87,20.86 L681.19,20.86 L681.52,20.86 L681.84,20.86 L682.16,20.86 L682.49,20.86 L682.81,20.86 L683.13,20.86 L683.45,20.86 L683.78,20.86 L684.10,20.86 L684.42,20.86 L684.74,20.87 L685.07,20.91 L685.39,20.98 L685.71,21.07 L686.04,21.19 L686.36,21.33 L686.68,21.49 L687.00,21.68 L687.33,21.89 L687.65,22.12 L687.97,22.37 L688.29,22.65 L688.62,22.94 L688.94,23.25 L689.26,23.58 L689.59,24.05 L689.91,24.76 L690.23,25.70 L690.55,26.85 L690.88,28.17 L691.20,29.65 L691.52,31.26 L691.84,32.98 L692.17,34.79 L692.49,37.00 L692.81,39.83 L693.14,43.15 L693.46,46.82 L693.78,50.71 L694.10,54.68 L694.43,58.59 L694.75,62.31 L695.07,66.00 L695.39,69.85 L695.72,73.81 L696.04,77.82 L696.36,81.83 L696.69,85.77 L697.01,89.58 L697.33,93.22 L697.65,96.60 L697.98,99.69 L698.30,102.56 L698.62,105.32 L698.95,107.97 L699.27,110.53 L699.59,112.99 L699.91,115.36 L700.24,117.64 L700.56,119.82 L700.88,121.92 L701.20,123.93 L701.53,125.86 L701.85,127.71 L702.17,129.50 L702.50,131.23 L702.82,132.91 L703.14,134.53 L703.46,136.09 L703.79,137.61 L704.11,139.08 L704.43,140.50 L704.75,141.89 L705.08,143.23 L705.40,144.55 L705.72,145.81 L706.05,147.02 L706.37,148.19 L706.69,149.32 L707.01,150.42 L707.34,151.49 L707.66,152.55 L707.98,153.60 L708.30,154.65 L708.63,155.71 L708.95,156.78 L709.27,157.77 L709.60,158.63 L709.92,159.41 L710.24,160.16 L710.56,160.95 L710.89,161.82 L711.21,162.84 L711.53,164.05 L711.86,165.53 L712.18,167.31 L712.50,170.69 L712.82,176.19 L713.15,182.78 L713.47,189.40 L713.79,196.27 L714.11,203.94 L714.44,211.87 L714.76,219.55 L715.08,226.44 L715.41,232.57 L715.73,238.35 L716.05,243.83 L716.37,249.02 L716.70,253.96 L717.02,258.67 L717.34,263.15 L717.66,267.45 L717.99,271.60 L718.31,275.64 L718.63,279.61 L718.96,283.53 L719.28,287.46 L719.60,291.42 L719.92,295.46 L720.25,299.61 L720.57,303.91 L720.89,308.50 L721.22,313.40 L721.54,318.51 L721.86,323.71 L722.18,328.87 L722.51,333.89 L722.83,338.64 L723.15,343.00 L723.47,346.87 L723.80,350.12 L724.12,352.93 L724.44,355.56 L724.77,358.01 L725.09,360.31 L725.41,362.46 L725.73,364.49 L726.06,366.41 L726.38,368.23 L726.70,369.96 L727.02,371.62 L727.35,373.23 L727.67,374.78 L727.99,376.27 L728.32,377.70 L728.64,379.08 L728.96,380.41 L729.28,381.69 L729.61,382.93 L729.93,384.14 L730.25,385.31 L730.57,386.46 L730.90,387.58 L731.22,388.68 L731.54,389.77 L731.87,390.85 L732.19,391.92 L732.51,392.99 L732.83,394.05 L733.16,395.11 L733.48,396.16 L733.80,397.19 L734.12,398.21 L734.45,399.21 L734.77,400.18 L735.09,401.14 L735.42,402.06 L735.74,402.96 L736.06,403.82 L736.38,404.64 L736.71,405.43 L737.03,406.17 L737.35,406.87 L737.68,407.54 L738.00,408.19 L738.32,408.82 L738.64,409.43 L738.97,410.02 L739.29,410.59 L739.61,411.13 L739.93,411.66 L740.26,412.17 L740.58,412.65" stroke="#a93226" stroke-width="4.0" stroke-linecap="square"/>
<path d="M120.90,425.90 L120.91,425.81 L120.93,425.68 L120.96,425.45 L121.03,425.00 L121.09,424.55 L121.16,424.10 L121.22,423.64 L121.55,421.36 L121.87,419.05 L122.19,416.72 L122.51,414.35 L122.84,411.97 L123.16,409.54 L123.48,407.08 L123.80,404.58 L124.13,402.07 L124.45,399.55 L124.77,397.05 L125.10,394.58 L125.42,392.11 L125.74,389.65 L126.06,387.19 L126.39,384.74 L126.71,382.29 L127.03,379.84 L127.36,377.40 L127.68,374.96 L128.00,372.52 L128.32,370.08 L128.65,367.65 L128.97,365.19 L129.29,362.70 L129.61,360.20 L129.94,357.69 L130.26,355.18 L130.58,352.68 L130.91,350.20 L131.23,347.75 L131.55,345.33 L131.87,342.95 L132.20,340.63 L132.52,338.38 L132.84,336.19 L133.16,334.05 L133.49,331.92 L133.81,329.82 L134.13,327.73 L134.46,325.68 L134.78,323.67 L135.10,321.69 L135.42,319.76 L135.75,317.88 L136.07,316.06 L136.39,314.30 L136.71,312.61 L137.04,310.99 L137.36,309.44 L137.68,307.91 L138.01,306.41 L138.33,304.93 L138.65,303.48 L138.97,302.06 L139.30,300.68 L139.62,299.34 L139.94,298.05 L140.27,296.81 L140.59,295.63 L140.91,294.50 L141.23,293.44 L141.56,292.44 L141.88,291.52 L142.20,290.65 L142.52,289.84 L142.85,289.06 L143.17,288.31 L143.49,287.60 L143.82,286.92 L144.14,286.27 L144.46,285.63 L144.78,285.02 L145.11,284.42 L145.43,283.84 L145.75,283.26 L146.07,282.69 L146.40,282.12 L146.72,281.56 L147.04,280.99 L147.37,280.41 L147.69,279.82 L148.01,279.22 L148.33,278.60 L148.66,277.96 L148.98,277.34 L149.30,276.75 L149.62,276.18 L149.95,275.63 L150.27,275.09 L150.59,274.56 L150.92,274.02 L151.24,273.48 L151.56,272.92 L151.88,272.34 L152.21,271.73 L152.53,271.09 L152.85,270.40 L153.18,269.67 L153.50,268.88 L153.82,268.03 L154.14,267.12 L154.47,266.11 L154.79,264.89 L155.11,263.44 L155.43,261.80 L155.76,260.02 L156.08,258.11 L156.40,256.13 L156.73,254.10 L157.05,252.05 L157.37,250.02 L157.69,247.93 L158.02,245.71 L158.34,243.29 L158.66,240.61 L158.98,237.53 L159.31,233.98 L159.63,230.03 L159.95,225.78 L160.28,221.30 L160.60,216.67 L160.92,211.98 L161.24,207.32 L161.57,202.76 L161.89,198.40 L162.21,194.22 L162.53,190.10 L162.86,186.01 L163.18,181.95 L163.50,177.89 L163.83,173.83 L164.15,169.75 L164.47,165.65 L164.79,161.50 L165.12,157.30 L165.44,153.04 L165.76,148.61 L166.09,143.99 L166.41,139.29 L166.73,134.61 L167.05,130.06 L167.38,125.75 L167.70,121.78 L168.02,118.05 L168.34,114.38 L168.67,110.80 L168.99,107.30 L169.31,103.90 L169.64,100.62 L169.96,97.46 L170.28,94.44 L170.60,91.57 L170.93,88.85 L171.25,86.31 L171.57,83.94 L171.89,81.71 L172.22,79.58 L172.54,77.54 L172.86,75.60 L173.19,73.73 L173.51,71.95 L173.83,70.24 L174.15,68.60 L174.48,67.01 L174.80,65.49 L175.12,64.01 L175.44,62.58 L175.77,61.19 L176.09,59.85 L176.41,58.56 L176.74,57.33 L177.06,56.17 L177.38,55.07 L177.70,54.05 L178.03,53.11 L178.35,52.19 L178.67,51.28 L179.00,50.39 L179.32,49.51 L179.64,48.65 L179.96,47.81 L180.29,46.98 L180.61,46.16 L180.93,45.37 L181.25,44.59 L181.58,43.83 L181.90,43.08 L182.22,42.36 L182.55,41.65 L182.87,40.97 L183.19,40.30 L183.51,39.66 L183.84,39.03 L184.16,38.43 L184.48,37.85 L184.80,37.29 L185.13,36.76 L185.45,36.25 L185.77,35.76 L186.10,35.30 L186.42,34.86 L186.74,34.45 L187.06,34.05 L187.39,33.67 L187.71,33.29 L188.03,32.91 L188.35,32.55 L188.68,32.19 L189.00,31.84 L189.32,31.50 L189.65,31.17 L189.97,30.84 L190.29,30.52 L190.61,30.21 L190.94,29.91 L191.26,29.62 L191.58,29.33 L191.91,29.05 L192.23,28.78 L192.55,28.51 L192.87,28.26 L193.20,28.01 L193.52,27.77 L193.84,27.53 L194.16,27.31 L194.49,27.09 L194.81,26.88 L195.13,26.67 L195.46,26.48 L195.78,26.29 L196.10,26.11 L196.42,25.94 L196.75,25.77 L197.07,25.62 L197.39,25.46 L197.71,25.31 L198.04,25.17 L198.36,25.02 L198.68,24.88 L199.01,24.74 L199.33,24.60 L199.65,24.47 L199.97,24.34 L200.30,24.21 L200.62,24.08 L200.94,23.96 L201.26,23.84 L201.59,23.72 L201.91,23.60 L202.23,23.48 L202.56,23.37 L202.88,23.26 L203.20,23.16 L203.52,23.05 L203.85,22.95 L204.17,22.85 L204.49,22.76 L204.81,22.66 L205.14,22.57 L205.46,22.48 L205.78,22.39 L206.11,22.31 L206.43,22.23 L206.75,22.15 L207.07,22.07 L207.40,22.00 L207.72,21.93 L208.04,21.86 L208.37,21.79 L208.69,21.73 L209.01,21.67 L209.33,21.61 L209.66,21.55 L209.98,21.49 L210.30,21.44 L210.62,21.38 L210.95,21.32 L211.27,21.27 L211.59,21.21 L211.92,21.16 L212.24,21.11 L212.56,21.06 L212.88,21.02 L213.21,20.98 L213.53,20.95 L213.85,20.92 L214.17,20.89 L214.50,20.87 L214.82,20.86 L215.14,20.86 L215.47,20.86 L215.79,20.86 L216.11,20.86 L216.43,20.86 L216.76,20.86 L217.08,20.86 L217.40,20.86 L217.73,20.86 L218.05,20.86 L218.37,20.86 L218.69,20.86 L219.02,20.86 L219.34,20.86 L219.66,20.86 L219.98,20.87 L220.31,20.91 L220.63,20.98 L220.95,21.07 L221.28,21.19 L221.60,21.33 L221.92,21.49 L222.24,21.68 L222.57,21.89 L222.89,22.12 L223.21,22.37 L223.53,22.65 L223.86,22.94 L224.18,23.25 L224.50,23.58 L224.83,24.05 L225.15,24.76 L225.47,25.70 L225.79,26.85 L226.12,28.17 L226.44,29.65 L226.76,31.26 L227.08,32.98 L227.41,34.79 L227.73,37.00 L228.05,39.83 L228.38,43.15 L228.70,46.82 L229.02,50.71 L229.34,54.68 L229.67,58.59 L229.99,62.31 L230.31,66.00 L230.63,69.85 L230.96,73.81 L231.28,77.82 L231.60,81.83 L231.93,85.77 L232.25,89.58 L232.57,93.22 L232.89,96.60 L233.22,99.69 L233.54,102.56 L233.86,105.32 L234.19,107.97 L234.51,110.53 L234.83,112.99 L235.15,115.36 L235.48,117.64 L235.80,119.82 L236.12,121.92 L236.44,123.93 L236.77,125.86 L237.09,127.71 L237.41,129.50 L237.74,131.23 L238.06,132.91 L238.38,134.53 L238.70,136.09 L239.03,137.61 L239.35,139.08 L239.67,140.50 L239.99,141.89 L240.32,143.23 L240.64,144.55 L240.96,145.81 L241.29,147.02 L241.61,148.19 L241.93,149.32 L242.25,150.42 L242.58,151.49 L242.90,152.55 L243.22,153.60 L243.55,154.65 L243.87,155.71 L244.19,156.78 L244.51,157.77 L244.84,158.63 L245.16,159.41 L245.48,160.16 L245.80,160.95 L246.13,161.82 L246.45,162.84 L246.77,164.05 L247.10,165.53 L247.42,167.31 L247.74,170.69 L248.06,176.19 L248.39,182.78 L248.71,189.40 L249.03,196.33 L249.35,204.12 L249.68,212.15 L250.00,219.80 L250.32,226.44 L250.65,232.08 L250.97,237.22 L251.29,242.03 L251.61,246.63 L251.94,251.19 L252.26,255.82 L252.58,260.43 L252.90,264.97 L253.23,269.45 L253.55,273.89 L253.87,278.28 L254.20,282.62 L254.52,286.94 L254.84,291.21 L255.16,295.47 L255.49,299.70 L255.81,303.91 L256.13,308.19 L256.46,312.58 L256.78,317.01 L257.10,321.44 L257.42,325.81 L257.75,330.07 L258.07,334.16 L258.39,338.02 L258.71,341.60 L259.04,344.85 L259.36,347.76 L259.68,350.48 L260.01,353.05 L260.33,355.48 L260.65,357.80 L260.97,360.00 L261.30,362.11 L261.62,364.14 L261.94,366.11 L262.26,368.02 L262.59,369.90 L262.91,371.73 L263.23,373.51 L263.56,375.25 L263.88,376.93 L264.20,378.57 L264.52,380.16 L264.85,381.70 L265.17,383.20 L265.49,384.64 L265.81,386.04 L266.14,387.39 L266.46,388.70 L266.78,389.98 L267.11,391.24 L267.43,392.48 L267.75,393.69 L268.07,394.87 L268.40,396.02 L268.72,397.14 L269.04,398.22 L269.37,399.26 L269.69,400.26 L270.01,401.21 L270.33,402.12 L270.66,402.98 L270.98,403.79 L271.30,404.58 L271.62,405.36 L271.95,406.12 L272.27,406.86 L272.59,407.59 L272.92,408.30 L273.24,408.98 L273.56,409.65 L273.88,410.29 L274.21,410.91 L274.53,411.50 L274.85,412.07 L275.17,412.60 L275.50,413.11 L275.82,413.59 L276.14,414.04 L276.47,414.45 L276.79,414.84 L277.11,415.21 L277.43,415.58 L277.76,415.93 L278.08,416.29 L278.40,416.63 L278.72,416.97 L279.05,417.31 L279.37,417.63 L279.69,417.95 L280.02,418.26 L280.34,418.56 L280.66,418.85 L280.98,419.14 L281.31,419.41 L281.63,419.68 L281.95,419.94 L282.28,420.19 L282.60,420.43 L282.92,420.66 L283.24,420.88 L283.57,421.09 L283.89,421.29 L284.21,421.48 L284.53,421.66 L284.86,421.83 L285.18,421.99 L285.50,422.13 L285.83,422.27 L286.15,422.39 L286.47,422.50 L286.79,422.61 L287.12,422.71 L287.44,422.81 L287.76,422.91 L288.08,423.01 L288.41,423.10 L288.73,423.20 L289.05,423.29 L289.38,423.38 L289.70,423.47 L290.02,423.55 L290.34,423.64 L290.67,423.72 L290.99,423.80 L291.31,423.88 L291.63,423.96 L291.96,424.03 L292.28,424.10 L292.60,424.17 L292.93,424.24 L293.25,424.31 L293.57,424.37 L293.89,424.44 L294.22,424.50 L294.54,424.56 L294.86,424.61 L295.19,424.67 L295.51,424.72 L295.83,424.77 L296.15,424.81 L296.48,424.86 L296.80,424.90 L297.12,424.94 L297.44,424.98 L297.77,425.02 L298.09,425.05 L298.41,425.08 L298.74,425.11 L299.06,425.14 L299.38,425.16 L299.70,425.18 L300.03,425.20 L300.35,425.22 L300.67,425.24 L300.99,425.25 L301.32,425.27 L301.64,425.28 L301.96,425.30 L302.29,425.31 L302.61,425.33 L302.93,425.34 L303.25,425.35 L303.58,425.37 L303.90,425.38 L304.22,425.40 L304.54,425.41 L304.87,425.42 L305.19,425.44 L305.51,425.45 L305.84,425.46 L306.16,425.47 L306.48,425.49 L306.80,425.50 L307.13,425.51 L307.45,425.52 L307.77,425.54 L308.10,425.55 L308.42,425.56 L308.74,425.57 L309.06,425.58 L309.39,425.59 L309.71,425.60 L310.03,425.61 L310.35,425.62 L310.68,425.63 L311.00,425.64 L311.32,425.65 L311.65,425.66 L311.97,425.67 L312.29,425.68 L312.61,425.69 L312.94,425.70 L313.26,425.71 L313.58,425.72 L313.90,425.72 L314.23,425.73 L314.55,425.74 L314.87,425.75 L315.20,425.76 L315.52,425.76 L315.84,425.77 L316.16,425.78 L316.49,425.78 L316.81,425.79 L317.13,425.80 L317.45,425.80 L317.78,425.81 L318.10,425.82 L318.42,425.82 L318.75,425.83 L319.07,425.83 L319.39,425.84 L319.71,425.84 L320.04,425.85 L320.36,425.85 L320.68,425.86 L321.00,425.86 L321.33,425.86 L321.65,425.87 L321.97,425.87 L322.30,425.87 L322.62,425.88 L322.94,425.88 L323.26,425.88 L323.59,425.89 L323.91,425.89 L324.23,425.89 L324.56,425.89 L324.88,425.89 L325.20,425.89 L325.52,425.90 L325.85,425.90 L326.17,425.90 L326.49,425.90 L326.81,425.90 L327.14,425.90 L327.46,425.90 L327.78,425.90 L328.11,425.90 L328.43,425.90 L328.75,425.90 L329.07,425.90 L329.40,425.90 L329.72,425.90 L330.04,425.90 L330.36,425.90 L330.69,425.90 L331.01,425.90 L331.33,425.90 L331.66,425.90 L331.98,425.90 L332.30,425.90 L332.62,425.90 L332.95,425.90 L333.27,425.90 L333.59,425.90 L333.92,425.90 L334.24,425.90 L334.56,425.90 L334.88,425.90 L335.21,425.90 L335.53,425.90 L335.85,425.90 L336.17,425.90 L336.50,425.90 L336.82,425.90 L337.14,425.90 L337.47,425.90 L337.79,425.90 L338.11,425.90 L338.43,425.90 L338.76,425.90 L339.08,425.90 L339.40,425.90 L339.72,425.90 L340.05,425.90 L340.37,425.90 L340.69,425.90 L341.02,425.90 L341.34,425.90 L341.66,425.90 L341.98,425.90 L342.31,425.90 L342.63,425.90 L342.95,425.90 L343.27,425.90 L343.60,425.90 L343.92,425.90 L344.24,425.90 L344.57,425.90 L344.89,425.90 L345.21,425.90 L345.53,425.90 L345.86,425.90 L346.18,425.90 L346.50,425.90 L346.83,425.90 L347.15,425.90 L347.47,425.90 L347.79,425.90 L348.12,425.90 L348.44,425.90 L348.76,425.90 L349.08,425.90 L349.41,425.90 L349.73,425.90 L350.05,425.90 L350.38,425.90 L350.70,425.90 L351.02,425.90 L351.34,425.90 L351.67,425.90 L351.99,425.90 L352.31,425.90 L352.63,425.90 L352.96,425.90 L353.28,424.88 L353.60,424.90 L353.93,424.92 L354.25,424.94 L354.57,424.97 L354.89,424.99 L355.22,425.01 L355.54,425.03 L355.86,425.05 L356.18,425.07 L356.51,425.09 L356.83,425.11 L357.15,425.13 L357.48,425.15 L357.80,425.16 L358.12,425.18 L358.44,425.20 L358.77,425.22 L359.09,425.24 L359.41,425.26 L359.74,425.27 L360.06,425.29 L360.38,425.31 L360.70,425.33 L361.03,425.34 L361.35,425.36 L361.67,425.37 L361.99,425.39 L362.32,425.40 L362.64,425.42 L362.96,425.43 L363.29,425.45 L363.61,425.46 L363.93,425.48 L364.25,425.49 L364.58,425.50 L364.90,425.51 L365.22,425.53 L365.54,425.54 L365.87,425.55 L366.19,425.56 L366.51,425.57 L366.84,425.58 L367.16,425.59 L367.48,425.60 L367.80,425.61 L368.13,425.63 L368.45,425.64 L368.77,425.65 L369.09,425.66 L369.42,425.67 L369.74,425.68 L370.06,425.69 L370.39,425.70 L370.71,425.71 L371.03,425.72 L371.35,425.73 L371.68,425.74 L372.00,425.75 L372.32,425.76 L372.64,425.77 L372.97,425.78 L373.29,425.79 L373.61,425.80 L373.94,425.81 L374.26,425.81 L374.58,425.82 L374.90,425.83 L375.23,425.84 L375.55,425.84 L375.87,425.85 L376.20,425.86 L376.52,425.86 L376.84,425.87 L377.16,425.87 L377.49,425.88 L377.81,425.88 L378.13,425.89 L378.45,425.89 L378.78,425.89 L379.10,425.90 L379.42,425.90 L379.75,425.90 L380.07,425.90 L380.39,425.90 L380.71,425.75 L381.04,425.34 L381.36,424.76 L381.68,424.10 L382.00,423.43 L382.33,422.84 L382.65,422.24 L382.97,421.54 L383.30,420.84 L383.62,420.22 L383.94,419.78 L384.26,419.61 L384.59,419.64 L384.91,419.70 L385.23,419.79 L385.56,419.91 L385.88,420.05 L386.20,420.20 L386.52,420.36 L386.85,420.52 L387.17,420.67 L387.49,420.80 L387.81,420.93 L388.14,421.07 L388.46,421.22 L388.78,421.37 L389.11,421.53 L389.43,421.68 L389.75,421.83 L390.07,421.98 L390.40,422.12 L390.72,422.26 L391.04,422.38 L391.36,422.49 L391.69,422.59 L392.01,422.67 L392.33,422.74 L392.66,422.81 L392.98,422.88 L393.30,422.95 L393.62,423.02 L393.95,423.08 L394.27,423.14 L394.59,423.19 L394.91,423.24 L395.24,423.27 L395.56,423.31 L395.88,423.33 L396.21,423.35 L396.53,423.35 L396.85,423.35 L397.17,423.34 L397.50,423.32 L397.82,423.30 L398.14,423.27 L398.47,423.23 L398.79,423.18 L399.11,423.13 L399.43,423.07 L399.76,423.00 L400.08,422.92 L400.40,422.84 L400.72,422.67 L401.05,422.34 L401.37,421.87 L401.69,421.29 L402.02,420.60 L402.34,419.82 L402.66,418.57 L402.98,416.80 L403.31,414.66 L403.63,412.31 L403.95,409.90 L404.27,407.45 L404.60,404.77 L404.92,401.86 L405.24,398.75 L405.57,395.43 L405.89,391.92 L406.21,387.98 L406.53,383.60 L406.86,379.14 L407.18,374.47 L407.50,369.57 L407.82,364.62 L408.15,359.79 L408.47,355.24 L408.79,351.14 L409.12,347.37 L409.44,343.71 L409.76,340.21 L410.08,336.92 L410.41,333.87 L410.73,331.12 L411.05,328.72 L411.38,326.63 L411.70,324.75 L412.02,323.05 L412.34,321.48 L412.67,319.98 L412.99,318.50 L413.31,317.01 L413.63,315.45 L413.96,313.77 L414.28,311.91 L414.60,309.95 L414.93,308.01 L415.25,306.20 L415.57,304.64 L415.89,303.26 L416.22,301.95 L416.54,300.72 L416.86,299.56 L417.18,298.44 L417.51,297.37 L417.83,296.33 L418.15,295.32 L418.48,294.32 L418.80,293.32 L419.12,292.37 L419.44,291.46 L419.77,290.58 L420.09,289.74 L420.41,288.91 L420.73,288.10 L421.06,287.29 L421.38,286.48 L421.70,285.66 L422.03,284.83 L422.35,283.96 L422.67,283.07 L422.99,282.13 L423.32,281.15 L423.64,280.14 L423.96,279.12 L424.28,278.08 L424.61,277.01 L424.93,275.89 L425.25,274.70 L425.58,273.44 L425.90,272.08 L426.22,270.61 L426.54,268.90 L426.87,266.91 L427.19,264.75 L427.51,262.55 L427.84,260.42 L428.16,258.49 L428.48,256.67 L428.80,254.74 L429.13,252.50 L429.45,249.67 L429.77,245.82 L430.09,241.16 L430.42,236.05 L430.74,230.83 L431.06,225.78 L431.39,220.50 L431.71,214.95 L432.03,209.22 L432.35,203.41 L432.68,197.63 L433.00,191.98 L433.32,186.57 L433.64,181.48 L433.97,176.83 L434.29,172.60 L434.61,168.68 L434.94,164.98 L435.26,161.42 L435.58,157.91 L435.90,154.39 L436.23,150.75 L436.55,146.92 L436.87,142.77 L437.20,138.37 L437.52,133.97 L437.84,129.83 L438.16,126.20 L438.49,122.98 L438.81,119.93 L439.13,117.02 L439.45,114.23 L439.78,111.57 L440.10,109.00 L440.42,106.53 L440.75,104.13 L441.07,101.80 L441.39,99.51 L441.71,97.26 L442.04,95.04 L442.36,92.82 L442.68,90.62 L443.00,88.44 L443.33,86.27 L443.65,84.14 L443.97,82.04 L444.30,79.99 L444.62,77.98 L444.94,76.03 L445.26,74.14 L445.59,72.32 L445.91,70.57 L446.23,68.90 L446.55,67.31 L446.88,65.82 L447.20,64.42 L447.52,63.08 L447.85,61.78 L448.17,60.51 L448.49,59.28 L448.81,58.08 L449.14,56.92 L449.46,55.79 L449.78,54.69 L450.11,53.62 L450.43,52.59 L450.75,51.59 L451.07,50.62 L451.40,49.68 L451.72,48.77 L452.04,47.89 L452.36,47.04 L452.69,46.21 L453.01,45.41 L453.33,44.64 L453.66,43.89 L453.98,43.15 L454.30,42.41 L454.62,41.69 L454.95,40.97 L455.27,40.27 L455.59,39.58 L455.91,38.91 L456.24,38.25 L456.56,37.61 L456.88,36.98 L457.21,36.37 L457.53,35.78 L457.85,35.21 L458.17,34.66 L458.50,34.14 L458.82,33.63 L459.14,33.15 L459.46,32.69 L459.79,32.26 L460.11,31.85 L460.43,31.47 L460.76,31.12 L461.08,30.79 L461.40,30.47 L461.72,30.15 L462.05,29.85 L462.37,29.55 L462.69,29.26 L463.01,28.97 L463.34,28.70 L463.66,28.43 L463.98,28.17 L464.31,27.91 L464.63,27.67 L464.95,27.43 L465.27,27.20 L465.60,26.98 L465.92,26.77 L466.24,26.56 L466.57,26.36 L466.89,26.17 L467.21,25.99 L467.53,25.81 L467.86,25.65 L468.18,25.49 L468.50,25.34 L468.82,25.20 L469.15,25.06 L469.47,24.94 L469.79,24.81 L470.12,24.69 L470.44,24.58 L470.76,24.46 L471.08,24.35 L471.41,24.24 L471.73,24.13 L472.05,24.02 L472.37,23.91 L472.70,23.81 L473.02,23.71 L473.34,23.61 L473.67,23.51 L473.99,23.42 L474.31,23.32 L474.63,23.23 L474.96,23.15 L475.28,23.06 L475.60,22.98 L475.92,22.90 L476.25,22.82 L476.57,22.74 L476.89,22.67 L477.22,22.60 L477.54,22.53 L477.86,22.46 L478.18,22.40 L478.51,22.34 L478.83,22.28 L479.15,22.22 L479.48,22.17 L479.80,22.12 L480.12,22.07 L480.44,22.03 L480.77,21.99 L481.09,21.95 L481.41,21.91 L481.73,21.88 L482.06,21.85 L482.38,21.81 L482.70,21.78 L483.03,21.75 L483.35,21.72 L483.67,21.69 L483.99,21.66 L484.32,21.63 L484.64,21.60 L484.96,21.58 L485.28,21.55 L485.61,21.52 L485.93,21.49 L486.25,21.46 L486.58,21.44 L486.90,21.41 L487.22,21.39 L487.54,21.36 L487.87,21.33 L488.19,21.31 L488.51,21.29 L488.84,21.26 L489.16,21.24 L489.48,21.22 L489.80,21.20 L490.13,21.17 L490.45,21.15 L490.77,21.13 L491.09,21.11 L491.42,21.10 L491.74,21.08 L492.06,21.06 L492.39,21.04 L492.71,21.03 L493.03,21.01 L493.35,21.00 L493.68,20.98 L494.00,20.97 L494.32,20.96 L494.64,20.94 L494.97,20.93 L495.29,20.92 L495.61,20.91 L495.94,20.90 L496.26,20.89 L496.58,20.89 L496.90,20.88 L497.23,20.87 L497.55,20.87 L497.87,20.87 L498.19,20.86 L498.52,20.86 L498.84,20.86 L499.16,20.86 L499.49,20.86 L499.81,20.86 L500.13,20.86 L500.45,20.86 L500.78,20.86 L501.10,20.86 L501.42,20.86 L501.75,20.86 L502.07,20.86 L502.39,20.86 L502.71,20.86 L503.04,20.86 L503.36,20.86 L503.68,20.86 L504.00,20.86 L504.33,20.86 L504.65,20.86 L504.97,20.86 L505.30,20.86 L505.62,20.86 L505.94,20.86 L506.26,20.86 L506.59,20.86 L506.91,20.86 L507.23,20.86 L507.55,20.86 L507.88,20.86 L508.20,20.86 L508.52,20.86 L508.85,20.86 L509.17,20.86 L509.49,20.86 L509.81,20.86 L510.14,20.86 L510.46,20.86 L510.78,20.86 L511.10,20.86 L511.43,20.86 L511.75,20.86 L512.07,20.86 L512.40,20.86 L512.72,20.86 L513.04,20.86 L513.36,20.86 L513.69,20.86 L514.01,20.86 L514.33,20.86 L514.65,20.86 L514.98,20.86 L515.30,20.86 L515.62,20.86 L515.95,20.86 L516.27,20.86 L516.59,20.86 L516.91,20.86 L517.24,20.86 L517.56,20.86 L517.88,20.86 L518.21,20.86 L518.53,20.86 L518.85,20.86 L519.17,20.86 L519.50,20.86 L519.82,20.86 L520.14,20.86 L520.46,20.86 L520.79,20.86 L521.11,20.86 L521.43,20.86 L521.76,20.86 L522.08,20.86 L522.40,20.86 L522.72,20.86 L523.05,20.86 L523.37,20.86 L523.69,20.86 L524.01,20.86 L524.34,20.86 L524.66,20.86 L524.98,20.86 L525.31,20.86 L525.63,20.86 L525.95,20.86 L526.27,20.86 L526.60,20.86 L526.92,20.86 L527.24,20.86 L527.57,20.86 L527.89,20.86 L528.21,20.86 L528.53,20.86 L528.86,20.86 L529.18,20.86 L529.50,20.86 L529.82,20.87 L530.15,20.91 L530.47,20.98 L530.79,21.07 L531.12,21.19 L531.44,21.33 L531.76,21.49 L532.08,21.68 L532.41,21.89 L532.73,22.12 L533.05,22.37 L533.37,22.65 L533.70,22.94 L534.02,23.25 L534.34,23.58 L534.67,24.05 L534.99,24.76 L535.31,25.70 L535.63,26.85 L535.96,28.17 L536.28,29.65 L536.60,31.26 L536.92,32.98 L537.25,34.79 L537.57,37.00 L537.89,39.83 L538.22,43.15 L538.54,46.82 L538.86,50.71 L539.18,54.68 L539.51,58.59 L539.83,62.31 L540.15,66.00 L540.48,69.85 L540.80,73.81 L541.12,77.82 L541.44,81.83 L541.77,85.77 L542.09,89.58 L542.41,93.22 L542.73,96.60 L543.06,99.69 L543.38,102.56 L543.70,105.32 L544.03,107.97 L544.35,110.53 L544.67,112.99 L544.99,115.36 L545.32,117.64 L545.64,119.82 L545.96,121.92 L546.28,123.93 L546.61,125.86 L546.93,127.71 L547.25,129.50 L547.58,131.23 L547.90,132.91 L548.22,134.53 L548.54,136.09 L548.87,137.61 L549.19,139.08 L549.51,140.50 L549.83,141.89 L550.16,143.23 L550.48,144.55 L550.80,145.81 L551.13,147.02 L551.45,148.19 L551.77,149.32 L552.09,150.42 L552.42,151.49 L552.74,152.55 L553.06,153.60 L553.38,154.65 L553.71,155.71 L554.03,156.78 L554.35,157.77 L554.68,158.63 L555.00,159.41 L555.32,160.16 L555.64,160.95 L555.97,161.82 L556.29,162.84 L556.61,164.05 L556.94,165.53 L557.26,167.31 L557.58,170.69 L557.90,176.19 L558.23,182.78 L558.55,189.40 L558.87,196.33 L559.19,204.12 L559.52,212.15 L559.84,219.80 L560.16,226.44 L560.49,232.08 L560.81,237.22 L561.13,242.03 L561.45,246.63 L561.78,251.19 L562.10,255.82 L562.42,260.43 L562.74,264.97 L563.07,269.45 L563.39,273.89 L563.71,278.28 L564.04,282.62 L564.36,286.94 L564.68,291.21 L565.00,295.47 L565.33,299.70 L565.65,303.91 L565.97,308.19 L566.29,312.58 L566.62,317.01 L566.94,321.44 L567.26,325.81 L567.59,330.07 L567.91,334.16 L568.23,338.02 L568.55,341.60 L568.88,344.85 L569.20,347.76 L569.52,350.48 L569.85,353.05 L570.17,355.48 L570.49,357.80 L570.81,360.00 L571.14,362.11 L571.46,364.14 L571.78,366.11 L572.10,368.02 L572.43,369.90 L572.75,371.73 L573.07,373.51 L573.40,375.25 L573.72,376.93 L574.04,378.57 L574.36,380.16 L574.69,381.70 L575.01,383.20 L575.33,384.64 L575.65,386.04 L575.98,387.39 L576.30,388.70 L576.62,389.98 L576.95,391.24 L577.27,392.48 L577.59,393.69 L577.91,394.87 L578.24,396.02 L578.56,397.14 L578.88,398.22 L579.21,399.26 L579.53,400.26 L579.85,401.21 L580.17,402.12 L580.50,402.98 L580.82,403.79 L581.14,404.58 L581.46,405.36 L581.79,406.12 L582.11,406.86 L582.43,407.59 L582.76,408.30 L583.08,408.98 L583.40,409.65 L583.72,410.29 L584.05,410.91 L584.37,411.50 L584.69,412.07 L585.01,412.60 L585.34,413.11 L585.66,413.59 L585.98,414.04 L586.31,414.45 L586.63,414.84 L586.95,415.21 L587.27,415.58 L587.60,415.93 L587.92,416.29 L588.24,416.63 L588.56,416.97 L588.89,417.31 L589.21,417.63 L589.53,417.95 L589.86,418.26 L590.18,418.56 L590.50,418.85 L590.82,419.14 L591.15,419.41 L591.47,419.68 L591.79,419.94 L592.12,420.19 L592.44,420.43 L592.76,420.66 L593.08,420.88 L593.41,421.09 L593.73,421.29 L594.05,421.48 L594.37,421.66 L594.70,421.83 L595.02,421.99 L595.34,422.13 L595.67,422.27 L595.99,422.39 L596.31,422.50 L596.63,422.61 L596.96,422.71 L597.28,422.81 L597.60,422.91 L597.92,423.01 L598.25,423.10 L598.57,423.20 L598.89,423.29 L599.22,423.38 L599.54,423.47 L599.86,423.55 L600.18,423.64 L600.51,423.72 L600.83,423.80 L601.15,423.88 L601.47,423.96 L601.80,424.03 L602.12,424.10 L602.44,424.17 L602.77,424.24 L603.09,424.31 L603.41,424.37 L603.73,424.44 L604.06,424.50 L604.38,424.56 L604.70,424.61 L605.02,424.67 L605.35,424.72 L605.67,424.77 L605.99,424.81 L606.32,424.86 L606.64,424.90 L606.96,424.94 L607.28,424.98 L607.61,425.02 L607.93,425.05 L608.25,425.08 L608.58,425.11 L608.90,425.14 L609.22,425.16 L609.54,425.18 L609.87,425.20 L610.19,425.22 L610.51,425.24 L610.83,425.25 L611.16,425.27 L611.48,425.28 L611.80,425.30 L612.13,425.31 L612.45,425.33 L612.77,425.34 L613.09,425.35 L613.42,425.37 L613.74,425.38 L614.06,425.40 L614.38,425.41 L614.71,425.42 L615.03,425.44 L615.35,425.45 L615.68,425.46 L616.00,425.47 L616.32,425.49 L616.64,425.50 L616.97,425.51 L617.29,425.52 L617.61,425.54 L617.94,425.55 L618.26,425.56 L618.58,425.57 L618.90,425.58 L619.23,425.59 L619.55,425.60 L619.87,425.61 L620.19,425.62 L620.52,425.63 L620.84,425.64 L621.16,425.65 L621.49,425.66 L621.81,425.67 L622.13,425.68 L622.45,425.69 L622.78,425.70 L623.10,425.71 L623.42,425.72 L623.74,425.72 L624.07,425.73 L624.39,425.74 L624.71,425.75 L625.04,425.76 L625.36,425.76 L625.68,425.77 L626.00,425.78 L626.33,425.78 L626.65,425.79 L626.97,425.80 L627.29,425.80 L627.62,425.81 L627.94,425.82 L628.26,425.82 L628.59,425.83 L628.91,425.83 L629.23,425.84 L629.55,425.84 L629.88,425.85 L630.20,425.85 L630.52,425.86 L630.85,425.86 L631.17,425.86 L631.49,425.87 L631.81,425.87 L632.14,425.87 L632.46,425.88 L632.78,425.88 L633.10,425.88 L633.43,425.89 L633.75,425.89 L634.07,425.89 L634.40,425.89 L634.72,425.89 L635.04,425.89 L635.36,425.90 L635.69,425.90 L636.01,425.90 L636.33,425.90 L636.65,425.90 L636.98,425.90 L637.30,425.90 L637.62,425.90 L637.95,425.90 L638.27,425.90 L638.59,425.90 L638.91,425.90 L639.24,425.90 L639.56,425.90 L639.88,425.90 L640.20,425.90 L640.53,425.90 L640.85,425.90 L641.17,425.90 L641.50,425.90 L641.82,425.90 L642.14,425.90 L642.46,425.90 L642.79,425.90 L643.11,425.90 L643.43,425.90 L643.75,425.90 L644.08,425.90 L644.40,425.90 L644.72,425.90 L645.05,425.90 L645.37,425.90 L645.69,425.90 L646.01,425.90 L646.34,425.90 L646.66,425.90 L646.98,425.90 L647.31,425.90 L647.63,425.90 L647.95,425.90 L648.27,425.90 L648.60,425.90 L648.92,425.90 L649.24,425.90 L649.56,425.90 L649.89,425.90 L650.21,425.90 L650.53,425.90 L650.86,425.90 L651.18,425.90 L651.50,425.90 L651.82,425.90 L652.15,425.90 L652.47,425.90 L652.79,425.90 L653.11,425.90 L653.44,425.90 L653.76,425.90 L654.08,425.90 L654.41,425.90 L654.73,425.90 L655.05,425.90 L655.37,425.90 L655.70,425.90 L656.02,425.90 L656.34,425.90 L656.66,425.90 L656.99,425.90 L657.31,425.90 L657.63,425.90 L657.96,425.90 L658.28,425.90 L658.60,425.90 L658.92,425.90 L659.25,425.90 L659.57,425.90 L659.89,425.90 L660.22,425.90 L660.54,425.90 L660.86,425.90 L661.18,425.90 L661.51,425.90 L661.83,425.90 L662.15,425.90 L662.47,425.90 L662.80,425.90 L663.12,424.88 L663.44,424.90 L663.77,424.92 L664.09,424.94 L664.41,424.97 L664.73,424.99 L665.06,425.01 L665.38,425.03 L665.70,425.05 L666.02,425.07 L666.35,425.09 L666.67,425.11 L666.99,425.13 L667.32,425.15 L667.64,425.16 L667.96,425.18 L668.28,425.20 L668.61,425.22 L668.93,425.24 L669.25,425.26 L669.57,425.27 L669.90,425.29 L670.22,425.31 L670.54,425.33 L670.87,425.34 L671.19,425.36 L671.51,425.37 L671.83,425.39 L672.16,425.40 L672.48,425.42 L672.80,425.43 L673.13,425.45 L673.45,425.46 L673.77,425.48 L674.09,425.49 L674.42,425.50 L674.74,425.51 L675.06,425.53 L675.38,425.54 L675.71,425.55 L676.03,425.56 L676.35,425.57 L676.68,425.58 L677.00,425.59 L677.32,425.60 L677.64,425.61 L677.97,425.63 L678.29,425.64 L678.61,425.65 L678.93,425.66 L679.26,425.67 L679.58,425.68 L679.90,425.69 L680.23,425.70 L680.55,425.71 L680.87,425.72 L681.19,425.73 L681.52,425.74 L681.84,425.75 L682.16,425.76 L682.49,425.77 L682.81,425.78 L683.13,425.79 L683.45,425.80 L683.78,425.81 L684.10,425.81 L684.42,425.82 L684.74,425.83 L685.07,425.84 L685.39,425.84 L685.71,425.85 L686.04,425.86 L686.36,425.86 L686.68,425.87 L687.00,425.87 L687.33,425.88 L687.65,425.88 L687.97,425.89 L688.29,425.89 L688.62,425.89 L688.94,425.90 L689.26,425.90 L689.59,425.90 L689.91,425.90 L690.23,425.90 L690.55,425.75 L690.88,425.34 L691.20,424.76 L691.52,424.10 L691.84,423.43 L692.17,422.84 L692.49,422.24 L692.81,421.54 L693.14,420.84 L693.46,420.22 L693.78,419.78 L694.10,419.61 L694.43,419.64 L694.75,419.70 L695.07,419.79 L695.39,419.91 L695.72,420.05 L696.04,420.20 L696.36,420.36 L696.69,420.52 L697.01,420.67 L697.33,420.80 L697.65,420.93 L697.98,421.07 L698.30,421.22 L698.62,421.37 L698.95,421.53 L699.27,421.68 L699.59,421.83 L699.91,421.98 L700.24,422.12 L700.56,422.26 L700.88,422.38 L701.20,422.49 L701.53,422.59 L701.85,422.67 L702.17,422.74 L702.50,422.81 L702.82,422.88 L703.14,422.95 L703.46,423.02 L703.79,423.08 L704.11,423.14 L704.43,423.19 L704.75,423.24 L705.08,423.27 L705.40,423.31 L705.72,423.33 L706.05,423.35 L706.37,423.35 L706.69,423.35 L707.01,423.34 L707.34,423.32 L707.66,423.30 L707.98,423.27 L708.30,423.23 L708.63,423.18 L708.95,423.13 L709.27,423.07 L709.60,423.00 L709.92,422.92 L710.24,422.84 L710.56,422.67 L710.89,422.34 L711.21,421.87 L711.53,421.29 L711.86,420.60 L712.18,419.82 L712.50,418.57 L712.82,416.80 L713.15,414.66 L713.47,412.31 L713.79,409.90 L714.11,407.45 L714.44,404.77 L714.76,401.86 L715.08,398.75 L715.41,395.43 L715.73,391.92 L716.05,387.98 L716.37,383.60 L716.70,379.14 L717.02,374.47 L717.34,369.57 L717.66,364.62 L717.99,359.79 L718.31,355.24 L718.63,351.14 L718.96,347.37 L719.28,343.71 L719.60,340.21 L719.92,336.92 L720.25,333.87 L720.57,331.12 L720.89,328.72 L721.22,326.63 L721.54,324.75 L721.86,323.05 L722.18,321.48 L722.51,319.98 L722.83,318.50 L723.15,317.01 L723.47,315.45 L723.80,313.77 L724.12,311.91 L724.44,309.95 L724.77,308.01 L725.09,306.20 L725.41,304.64 L725.73,303.26 L726.06,301.95 L726.38,300.72 L726.70,299.56 L727.02,298.44 L727.35,297.37 L727.67,296.33 L727.99,295.32 L728.32,294.32 L728.64,293.32 L728.96,292.37 L729.28,291.46 L729.61,290.58 L729.93,289.74 L730.25,288.91 L730.57,288.10 L730.90,287.29 L731.22,286.48 L731.54,285.66 L731.87,284.83 L732.19,283.96 L732.51,283.07 L732.83,282.13 L733.16,281.15 L733.48,280.14 L733.80,279.12 L734.12,278.08 L734.45,277.01 L734.77,275.89 L735.09,274.70 L735.42,273.44 L735.74,272.08 L736.06,270.61 L736.38,268.90 L736.71,266.91 L737.03,264.75 L737.35,262.55 L737.68,260.42 L738.00,258.49 L738.32,256.67 L738.64,254.74 L738.97,252.50 L739.29,249.67 L739.61,245.82 L739.93,241.16 L740.26,236.05 L740.58,230.83" stroke="#2077c8" stroke-width="4.0" stroke-linecap="square"/>
</g>
<rect x="90.5" y="0.4" width="681.3" height="445.6" fill="none" stroke="#000" stroke-width="1.95"/>
<g stroke="#000" stroke-width="1.8">
<line x1="120.90" y1="446.0" x2="120.90" y2="453.3"/>
<line x1="250.00" y1="446.0" x2="250.00" y2="453.3"/>
<line x1="379.10" y1="446.0" x2="379.10" y2="453.3"/>
<line x1="508.20" y1="446.0" x2="508.20" y2="453.3"/>
<line x1="637.30" y1="446.0" x2="637.30" y2="453.3"/>
<line x1="766.40" y1="446.0" x2="766.40" y2="453.3"/>
<line x1="90.5" y1="425.90" x2="83.2" y2="425.90"/>
<line x1="90.5" y1="357.94" x2="83.2" y2="357.94"/>
<line x1="90.5" y1="289.98" x2="83.2" y2="289.98"/>
<line x1="90.5" y1="222.02" x2="83.2" y2="222.02"/>
<line x1="90.5" y1="154.06" x2="83.2" y2="154.06"/>
<line x1="90.5" y1="86.10" x2="83.2" y2="86.10"/>
<line x1="90.5" y1="18.14" x2="83.2" y2="18.14"/>
</g>
<g font-family="'DejaVu Sans', 'Liberation Sans', sans-serif" font-size="23" fill="#000" stroke="#000" stroke-width="0.4">
<text x="120.90" y="477.80" text-anchor="middle">0</text>
<text x="250.00" y="477.80" text-anchor="middle">20</text>
<text x="379.10" y="477.80" text-anchor="middle">40</text>
<text x="508.20" y="477.80" text-anchor="middle">60</text>
<text x="637.30" y="477.80" text-anchor="middle">80</text>
<text x="766.40" y="477.80" text-anchor="middle">100</text>
<text x="76.70" y="435.00" text-anchor="end">0</text>
<text x="76.70" y="367.04" text-anchor="end">20</text>
<text x="76.70" y="299.08" text-anchor="end">40</text>
<text x="76.70" y="231.12" text-anchor="end">60</text>
<text x="76.70" y="163.16" text-anchor="end">80</text>
<text x="76.70" y="95.20" text-anchor="end">100</text>
<text x="76.70" y="27.24" text-anchor="end">120</text>
<text x="429.95" y="506.6" text-anchor="middle">Time [<tspan font-style="italic">h</tspan>]</text>
<text transform="translate(17.9,224.00) rotate(-90)" text-anchor="middle">Concentration [<tspan font-style="italic">nM</tspan>]</text>
</g>
<rect x="632.2" y="12.4" width="127.79999999999995" height="179.4" rx="3.5" fill="#fff" fill-opacity="0.8" stroke="#ccc" stroke-opacity="0.8" stroke-width="2.2"/>
<g font-family="'DejaVu Sans', 'Liberation Sans', sans-serif" font-size="23.4" letter-spacing="0.3" font-style="italic" fill="#000" stroke="#000" stroke-width="0.4">
<line x1="640.9" y1="30.90" x2="687.9" y2="30.90" stroke="#22a455" stroke-width="4.0" stroke-linecap="square"/>
<text x="706" y="39.50">CLK</text>
<line x1="640.9" y1="65.00" x2="687.9" y2="65.00" stroke="#000" stroke-width="4.0" stroke-linecap="square"/>
<text x="706" y="73.60">a</text>
<line x1="640.9" y1="99.70" x2="687.9" y2="99.70" stroke="#000" stroke-width="4.0" stroke-linecap="butt" stroke-dasharray="14.43 6.24"/>
<text x="706" y="108.30">a<tspan font-size="16.4" dy="3.3">c</tspan></text>
<line x1="640.9" y1="134.70" x2="687.9" y2="134.70" stroke="#a93226" stroke-width="4.0" stroke-linecap="square"/>
<text x="706" y="143.30">q</text>
<line x1="640.9" y1="169.60" x2="687.9" y2="169.60" stroke="#2077c8" stroke-width="4.0" stroke-linecap="square"/>
<text x="706" y="178.20">qc</text>
</g>
</svg>
</body></html>
